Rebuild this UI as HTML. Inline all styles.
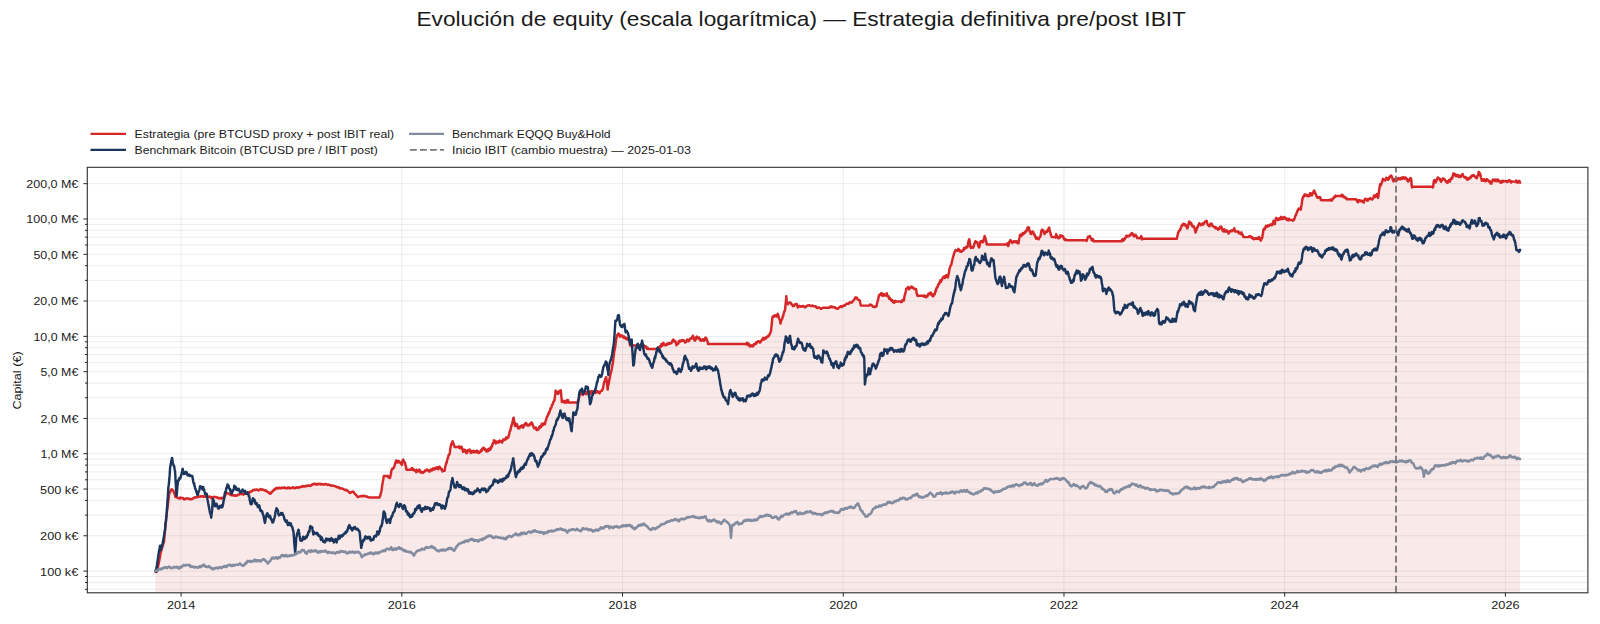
<!DOCTYPE html><html><head><meta charset="utf-8"><style>
html,body{margin:0;padding:0;background:#fff;}
body{width:1600px;height:624px;overflow:hidden;position:relative;}
svg{position:absolute;left:0;top:0;}
text{font-family:"Liberation Sans",sans-serif;fill:#1a1a1a;}
</style></head><body>
<svg width="1600" height="624" viewBox="0 0 1600 624">
<text x="416.5" y="25.6" font-size="21.0" textLength="769.4" lengthAdjust="spacingAndGlyphs">Evolución de equity (escala logarítmica) — Estrategia definitiva pre/post IBIT</text>
<line x1="90.5" y1="133.9" x2="126" y2="133.9" stroke="#d62728" stroke-width="2.35"/>
<line x1="90.5" y1="149.9" x2="126" y2="149.9" stroke="#1b365d" stroke-width="2.35"/>
<line x1="409" y1="133.9" x2="444" y2="133.9" stroke="#828ca0" stroke-width="2.35"/>
<line x1="410" y1="149.9" x2="444" y2="149.9" stroke="#7a7a7a" stroke-width="1.8" stroke-dasharray="6.8 3.2"/>
<text x="134.5" y="137.7" font-size="11.76" textLength="259.6" lengthAdjust="spacingAndGlyphs">Estrategia (pre BTCUSD proxy + post IBIT real)</text>
<text x="134.5" y="153.8" font-size="11.76" textLength="243.2" lengthAdjust="spacingAndGlyphs">Benchmark Bitcoin (BTCUSD pre / IBIT post)</text>
<text x="452" y="137.7" font-size="11.76" textLength="158.6" lengthAdjust="spacingAndGlyphs">Benchmark EQQQ Buy&amp;Hold</text>
<text x="452" y="153.8" font-size="11.76" textLength="239.0" lengthAdjust="spacingAndGlyphs">Inicio IBIT (cambio muestra) — 2025-01-03</text>
<defs><clipPath id="ax"><rect x="87.3" y="167.3" width="1500.6000000000001" height="425.49999999999994"/></clipPath></defs>
<path d="M155.3,592.8 L155.3,571.1 L155.6,571.2 L155.8,571.6 L156.1,571.5 L156.4,571.8 L156.7,571.9 L157.0,570.4 L157.3,569.5 L157.6,568.2 L157.9,566.8 L158.2,565.6 L158.5,564.5 L158.8,563.1 L159.0,561.9 L159.3,560.3 L159.6,558.8 L159.9,557.3 L160.2,555.6 L160.5,553.9 L160.8,552.1 L161.1,551.0 L161.5,550.0 L161.8,549.0 L162.1,548.0 L162.4,546.7 L162.7,545.7 L163.0,544.7 L163.3,543.9 L163.6,542.7 L164.0,541.7 L164.3,538.2 L164.6,535.1 L164.9,531.6 L165.2,528.2 L165.5,525.5 L165.8,522.0 L166.1,519.2 L166.5,516.3 L166.8,513.3 L167.1,510.4 L167.4,508.2 L167.7,506.1 L168.0,503.7 L168.3,501.2 L168.6,498.7 L168.9,496.1 L169.2,493.8 L169.5,493.1 L169.8,492.9 L170.1,492.0 L170.4,491.2 L170.7,490.5 L171.0,489.6 L171.2,489.6 L171.5,489.2 L171.8,489.4 L172.1,489.6 L172.4,490.2 L172.7,490.0 L173.0,490.5 L173.3,490.6 L173.6,491.5 L173.9,492.1 L174.2,493.2 L174.5,493.8 L174.8,494.6 L175.1,495.6 L175.4,496.9 L175.7,496.4 L176.0,496.9 L176.3,497.2 L176.6,497.2 L176.9,497.3 L177.2,497.3 L177.5,497.8 L177.8,498.0 L178.1,498.0 L178.4,498.1 L178.7,498.1 L179.0,498.2 L179.3,498.1 L179.6,498.7 L179.9,498.3 L180.2,497.5 L180.5,497.6 L180.8,497.6 L181.1,497.8 L181.4,497.9 L181.7,497.9 L182.0,498.0 L182.3,498.3 L182.6,498.2 L182.9,498.1 L183.2,498.7 L183.5,498.8 L183.8,498.6 L184.0,499.2 L184.3,499.4 L184.6,499.3 L184.9,499.0 L185.2,499.1 L185.5,499.0 L185.8,498.7 L186.1,498.4 L186.4,498.3 L186.7,498.6 L187.0,498.6 L187.3,498.2 L187.6,498.4 L187.9,498.5 L188.2,498.7 L188.5,499.0 L188.8,499.0 L189.1,499.0 L189.4,499.0 L189.7,498.8 L190.0,499.0 L190.3,499.3 L190.6,499.4 L190.9,499.3 L191.2,499.3 L191.5,499.1 L191.8,498.9 L192.1,498.9 L192.4,498.7 L192.7,498.6 L193.0,498.2 L193.3,498.3 L193.6,498.3 L193.9,498.1 L194.2,497.5 L194.5,497.5 L194.8,497.7 L195.1,497.5 L195.4,497.3 L195.7,497.2 L196.0,497.3 L196.2,497.0 L196.5,497.2 L196.8,497.1 L197.1,497.3 L197.4,497.3 L197.7,497.2 L198.0,496.8 L198.3,496.6 L198.6,496.5 L198.9,496.6 L199.2,496.6 L199.5,496.4 L199.8,496.5 L200.1,496.7 L200.4,496.6 L200.7,496.5 L201.0,496.3 L201.3,496.5 L201.6,496.6 L201.9,496.3 L202.2,496.4 L202.5,496.2 L202.8,496.1 L203.1,496.4 L203.4,496.7 L203.7,496.5 L204.0,496.5 L204.3,496.7 L204.6,496.6 L204.9,496.6 L205.2,496.7 L205.5,496.3 L205.8,496.4 L206.1,496.6 L206.4,496.8 L206.7,496.5 L207.0,496.6 L207.3,496.4 L207.6,496.6 L207.9,496.7 L208.2,496.8 L208.5,496.7 L208.8,496.5 L209.0,496.8 L209.3,496.6 L209.6,496.7 L209.9,496.9 L210.2,496.8 L210.5,497.5 L210.8,497.5 L211.1,498.1 L211.4,497.6 L211.7,497.1 L212.1,497.4 L212.4,497.6 L212.7,497.5 L213.0,497.6 L213.3,497.1 L213.6,497.0 L213.9,496.8 L214.2,496.8 L214.5,497.1 L214.8,497.1 L215.1,497.2 L215.4,497.1 L215.7,497.0 L216.0,497.1 L216.3,497.1 L216.6,497.4 L216.9,497.3 L217.2,497.8 L217.5,497.6 L217.8,497.9 L218.2,497.7 L218.5,498.2 L218.8,498.3 L219.1,498.4 L219.4,498.6 L219.7,498.5 L220.0,498.3 L220.3,497.8 L220.6,498.2 L220.9,498.0 L221.2,497.9 L221.5,498.0 L221.8,498.5 L222.1,498.1 L222.4,498.2 L222.7,498.2 L223.0,498.3 L223.3,497.9 L223.6,497.3 L224.0,497.0 L224.3,496.8 L224.6,496.7 L224.9,495.9 L225.2,495.4 L225.5,494.8 L225.8,494.0 L226.1,493.1 L226.5,492.7 L226.8,492.9 L227.1,492.9 L227.4,493.3 L227.7,493.2 L228.0,493.4 L228.3,493.5 L228.6,493.6 L229.0,493.9 L229.3,494.0 L229.6,494.2 L229.9,494.2 L230.2,494.7 L230.5,494.7 L230.8,494.9 L231.1,495.1 L231.4,495.0 L231.7,495.2 L232.0,495.0 L232.3,495.3 L232.6,495.1 L232.9,495.0 L233.2,495.0 L233.5,495.3 L233.8,495.5 L234.0,495.7 L234.3,495.7 L234.6,495.4 L234.9,495.6 L235.2,495.7 L235.5,495.4 L235.8,495.7 L236.1,495.7 L236.4,495.5 L236.7,495.6 L237.0,495.3 L237.3,495.1 L237.6,495.2 L237.9,494.8 L238.2,494.8 L238.5,494.4 L238.8,494.6 L239.1,494.3 L239.4,494.4 L239.7,494.0 L240.0,493.8 L240.3,494.1 L240.6,494.1 L240.9,493.6 L241.2,493.9 L241.5,494.0 L241.8,493.9 L242.1,494.2 L242.4,494.0 L242.7,493.9 L243.0,494.2 L243.3,494.4 L243.6,494.7 L243.9,494.4 L244.2,494.0 L244.5,494.0 L244.8,493.6 L245.1,493.6 L245.4,493.2 L245.7,493.5 L246.0,493.6 L246.2,493.8 L246.5,493.5 L246.8,493.3 L247.1,493.0 L247.4,492.9 L247.7,492.7 L248.0,492.6 L248.3,492.3 L248.6,492.6 L248.9,492.4 L249.2,492.5 L249.5,492.7 L249.8,492.2 L250.1,491.6 L250.4,491.7 L250.7,491.5 L251.0,491.5 L251.3,491.4 L251.6,491.4 L251.9,491.0 L252.2,491.0 L252.5,490.8 L252.8,490.8 L253.1,490.1 L253.4,490.3 L253.7,490.3 L254.0,489.9 L254.3,489.6 L254.6,489.6 L254.9,489.7 L255.2,489.7 L255.5,490.0 L255.8,489.9 L256.1,489.7 L256.4,489.4 L256.7,489.6 L257.0,489.4 L257.3,489.7 L257.6,490.0 L257.9,490.1 L258.2,490.4 L258.5,490.4 L258.8,490.4 L259.0,490.3 L259.3,490.1 L259.6,489.8 L259.9,489.6 L260.2,489.4 L260.5,489.0 L260.8,489.1 L261.1,489.2 L261.4,489.2 L261.7,489.5 L262.0,489.8 L262.3,490.1 L262.6,489.9 L262.9,489.6 L263.2,489.7 L263.5,489.8 L263.8,490.0 L264.1,490.2 L264.4,490.5 L264.7,490.4 L265.0,490.6 L265.3,490.7 L265.6,490.3 L265.9,490.5 L266.2,491.1 L266.5,490.9 L266.8,491.4 L267.1,491.5 L267.4,491.7 L267.7,491.9 L268.0,492.2 L268.3,492.2 L268.6,492.5 L268.9,492.9 L269.2,493.3 L269.5,492.9 L269.8,493.1 L270.1,493.4 L270.4,493.8 L270.7,493.3 L271.0,493.1 L271.2,492.5 L271.5,492.4 L271.8,492.3 L272.1,491.8 L272.4,491.2 L272.7,491.1 L273.0,491.0 L273.3,490.6 L273.6,490.4 L273.9,489.7 L274.2,489.4 L274.5,489.3 L274.8,489.2 L275.1,489.4 L275.4,489.0 L275.7,488.3 L276.0,488.3 L276.3,488.0 L276.6,488.0 L276.9,488.0 L277.2,488.1 L277.5,488.3 L277.8,488.5 L278.1,488.0 L278.4,487.8 L278.7,488.2 L279.0,487.9 L279.3,488.1 L279.6,487.9 L279.9,487.7 L280.2,488.1 L280.5,488.3 L280.8,488.1 L281.1,488.3 L281.4,487.9 L281.7,487.7 L282.0,487.8 L282.3,487.8 L282.6,487.4 L282.9,487.5 L283.2,487.5 L283.5,487.7 L283.8,487.9 L284.0,487.8 L284.3,487.6 L284.6,487.5 L284.9,487.4 L285.2,487.7 L285.5,488.0 L285.8,488.3 L286.1,488.3 L286.4,488.2 L286.7,488.3 L287.0,488.2 L287.3,488.2 L287.6,487.7 L287.9,487.5 L288.2,487.9 L288.5,487.7 L288.8,487.4 L289.1,487.4 L289.4,487.9 L289.7,488.3 L290.0,488.2 L290.3,488.2 L290.6,488.2 L290.9,488.0 L291.2,488.0 L291.5,488.0 L291.8,487.7 L292.1,487.6 L292.4,487.6 L292.7,487.4 L293.0,487.2 L293.3,487.5 L293.6,488.0 L293.9,488.0 L294.2,487.9 L294.5,488.0 L294.8,488.0 L295.1,487.8 L295.4,488.1 L295.7,487.8 L296.0,487.6 L296.2,487.5 L296.5,487.2 L296.8,487.2 L297.1,487.3 L297.4,487.7 L297.7,487.8 L298.0,487.8 L298.3,487.5 L298.6,487.5 L298.9,487.2 L299.2,487.1 L299.5,487.3 L299.8,487.4 L300.1,487.3 L300.4,487.1 L300.7,487.0 L301.0,487.0 L301.3,486.8 L301.6,486.6 L301.9,486.8 L302.2,486.3 L302.5,486.2 L302.8,485.9 L303.1,486.2 L303.4,486.4 L303.7,486.5 L304.0,486.5 L304.3,486.6 L304.6,486.6 L304.9,486.2 L305.2,486.2 L305.5,486.3 L305.8,485.9 L306.1,486.1 L306.4,486.2 L306.7,485.8 L307.0,485.7 L307.3,485.7 L307.6,485.6 L307.9,485.7 L308.2,485.5 L308.5,485.4 L308.8,485.5 L309.0,485.7 L309.3,485.8 L309.6,485.8 L309.9,486.0 L310.2,485.5 L310.5,485.8 L310.8,485.7 L311.1,485.4 L311.4,485.4 L311.7,484.9 L312.0,484.5 L312.3,484.4 L312.6,484.3 L312.9,484.5 L313.2,484.3 L313.5,484.0 L313.8,483.8 L314.1,484.3 L314.4,484.3 L314.7,484.2 L315.0,484.0 L315.3,483.7 L315.6,483.8 L315.9,483.9 L316.2,484.3 L316.5,484.6 L316.8,484.8 L317.1,484.7 L317.4,484.5 L317.7,484.0 L318.0,483.8 L318.3,484.0 L318.6,483.9 L318.9,484.1 L319.2,483.8 L319.5,484.1 L319.8,484.3 L320.1,484.3 L320.4,484.5 L320.7,484.0 L321.0,483.9 L321.2,483.8 L321.5,484.3 L321.8,484.3 L322.1,484.2 L322.4,484.4 L322.7,484.2 L323.0,484.6 L323.3,484.5 L323.6,484.5 L323.9,484.3 L324.2,484.6 L324.5,484.1 L324.8,484.3 L325.1,484.2 L325.4,484.2 L325.7,484.0 L326.0,484.1 L326.3,484.2 L326.6,484.4 L326.9,484.5 L327.2,484.7 L327.5,485.0 L327.8,485.0 L328.1,484.7 L328.4,484.5 L328.7,484.7 L329.0,484.7 L329.3,485.0 L329.6,485.0 L329.9,484.9 L330.2,485.1 L330.5,485.7 L330.8,485.7 L331.1,485.5 L331.4,485.4 L331.7,485.6 L332.0,485.6 L332.3,485.5 L332.6,485.7 L332.9,485.8 L333.2,485.9 L333.5,485.8 L333.8,485.7 L334.0,485.8 L334.3,485.9 L334.6,486.1 L334.9,486.1 L335.2,486.2 L335.5,486.4 L335.8,486.5 L336.1,486.7 L336.4,487.0 L336.7,487.1 L337.0,487.2 L337.3,487.0 L337.6,487.2 L337.9,487.2 L338.2,487.2 L338.5,487.1 L338.8,487.3 L339.1,488.0 L339.4,488.2 L339.7,488.3 L340.0,488.4 L340.3,488.3 L340.6,488.4 L340.9,488.3 L341.2,488.3 L341.5,488.4 L341.8,488.5 L342.1,488.5 L342.4,488.5 L342.7,488.8 L343.0,488.7 L343.3,489.1 L343.6,489.2 L343.9,489.3 L344.2,489.7 L344.5,490.0 L344.8,489.9 L345.1,490.0 L345.5,490.3 L345.8,490.2 L346.1,489.8 L346.4,490.0 L346.7,490.1 L347.0,490.4 L347.3,490.6 L347.6,490.8 L347.9,491.0 L348.2,491.5 L348.5,491.8 L348.9,492.1 L349.2,492.2 L349.5,492.6 L349.8,492.7 L350.1,493.1 L350.4,492.7 L350.7,492.6 L351.0,492.3 L351.4,492.0 L351.7,492.1 L352.0,492.0 L352.3,491.8 L352.6,491.5 L352.9,491.7 L353.2,491.7 L353.5,491.7 L353.8,491.9 L354.1,492.6 L354.4,493.2 L354.7,493.5 L355.0,493.9 L355.3,493.9 L355.6,494.5 L355.9,494.6 L356.2,495.2 L356.5,495.5 L356.8,495.8 L357.1,496.3 L357.4,496.7 L357.7,496.9 L358.0,496.9 L358.3,497.0 L358.6,497.0 L358.9,496.7 L359.2,496.6 L359.5,496.4 L359.8,496.3 L360.1,496.3 L360.4,496.3 L360.7,496.3 L361.0,495.9 L361.3,496.0 L361.6,496.0 L361.9,495.9 L362.2,495.9 L362.5,496.4 L362.8,496.1 L363.1,495.7 L363.4,495.9 L363.7,495.8 L364.0,496.1 L364.3,495.9 L364.6,495.8 L364.9,496.0 L365.2,496.2 L365.5,496.4 L365.8,496.5 L366.2,496.5 L366.5,496.4 L366.8,496.3 L367.1,496.7 L367.4,496.9 L367.7,496.9 L368.0,497.0 L368.3,497.2 L368.6,497.5 L368.9,497.5 L369.2,497.5 L379.6,497.5 L379.9,496.4 L380.2,495.8 L380.5,494.6 L380.8,493.7 L381.1,492.2 L381.4,491.1 L381.7,489.6 L382.0,487.0 L382.3,484.8 L382.6,482.9 L382.9,481.3 L383.2,479.8 L383.5,478.1 L383.8,476.0 L387.9,476.0 L388.2,477.2 L388.5,476.9 L388.8,476.8 L389.1,477.6 L389.4,477.7 L389.7,477.5 L390.0,477.1 L390.0,478.1 L390.3,476.4 L390.6,474.8 L390.9,474.0 L391.2,471.6 L391.5,470.2 L391.8,470.0 L392.1,468.8 L393.1,468.8 L393.4,468.2 L393.8,468.1 L394.1,466.7 L394.4,466.3 L394.7,465.2 L395.0,463.8 L395.3,463.0 L395.6,462.4 L395.9,461.5 L396.2,460.4 L396.6,461.2 L396.9,462.1 L397.2,462.6 L397.5,462.6 L397.8,461.9 L398.1,461.5 L398.4,460.8 L398.8,461.0 L399.1,461.8 L399.4,462.5 L399.7,462.5 L400.0,462.3 L400.3,462.4 L400.6,462.5 L400.9,462.9 L401.2,464.0 L401.5,463.5 L401.8,464.9 L402.1,463.3 L402.4,461.9 L402.6,460.7 L402.9,459.8 L403.2,459.5 L403.5,460.8 L403.8,460.8 L404.1,462.0 L404.4,462.2 L404.7,462.8 L405.0,462.5 L405.3,464.8 L405.6,465.4 L405.8,465.7 L406.1,468.0 L406.4,468.8 L406.7,469.8 L410.8,469.8 L411.1,469.7 L411.4,469.1 L411.7,468.1 L412.0,468.0 L412.3,469.1 L412.6,469.4 L412.9,469.3 L413.2,470.0 L413.5,469.4 L413.8,470.3 L414.1,470.3 L414.4,469.8 L414.7,470.2 L415.0,470.6 L415.3,470.3 L415.6,470.5 L415.9,471.2 L416.2,472.2 L416.5,471.6 L416.8,469.7 L417.1,471.2 L417.4,471.0 L417.7,470.7 L418.0,471.0 L418.3,470.7 L418.6,471.4 L418.9,470.6 L419.2,470.4 L419.5,469.6 L419.8,470.8 L420.1,470.7 L420.4,471.5 L420.7,472.6 L421.0,471.9 L421.4,471.8 L421.7,472.4 L422.0,472.5 L422.3,472.5 L422.6,472.7 L422.9,473.0 L423.2,472.3 L423.5,471.9 L423.9,472.0 L424.2,471.8 L424.5,471.6 L424.8,470.4 L425.1,471.3 L425.4,470.8 L425.7,470.8 L426.0,470.6 L426.3,470.4 L426.6,470.3 L426.9,469.5 L427.2,469.5 L427.5,470.1 L427.8,470.2 L428.1,470.5 L428.4,470.6 L428.7,470.4 L429.0,471.5 L429.3,470.8 L429.6,470.8 L429.9,471.3 L430.2,471.3 L430.5,470.4 L430.8,469.4 L431.1,470.3 L431.4,469.4 L431.7,469.2 L432.0,469.9 L432.3,470.3 L432.6,469.4 L432.9,468.4 L433.2,468.7 L433.5,468.5 L433.8,468.7 L434.1,469.1 L434.4,469.5 L434.7,469.0 L435.0,468.1 L435.3,469.1 L435.6,469.0 L436.0,468.6 L436.3,467.5 L436.6,468.2 L436.9,467.7 L437.2,467.3 L437.5,468.1 L437.8,468.6 L438.1,469.3 L438.4,468.8 L438.7,467.1 L439.0,466.7 L439.3,466.8 L439.6,466.7 L439.9,467.6 L440.1,468.2 L440.4,467.8 L440.7,468.5 L441.0,468.8 L441.3,468.8 L441.6,470.0 L441.9,469.2 L442.2,470.3 L442.5,471.5 L442.8,470.4 L443.1,470.7 L443.4,471.0 L443.7,470.6 L444.0,470.6 L444.3,470.4 L444.6,470.8 L444.9,469.1 L445.2,466.3 L445.5,465.8 L445.8,465.1 L446.1,463.2 L446.4,462.4 L446.7,462.5 L447.0,460.6 L447.3,459.6 L447.6,458.4 L447.9,458.1 L448.2,457.1 L448.5,455.3 L448.8,455.4 L449.1,454.4 L449.4,454.2 L449.7,453.8 L450.0,451.4 L450.2,449.1 L450.5,447.8 L450.8,445.8 L451.1,444.9 L451.4,443.6 L451.7,444.3 L451.9,443.5 L452.2,442.4 L452.5,441.2 L452.8,442.5 L453.1,442.4 L453.4,443.2 L453.7,444.7 L454.0,444.9 L454.3,445.9 L454.6,446.9 L458.8,446.9 L459.1,446.3 L459.4,447.9 L459.7,448.2 L460.0,448.3 L460.3,447.5 L460.6,447.4 L460.9,447.0 L461.2,446.8 L461.6,446.8 L461.9,448.3 L462.2,448.9 L462.5,449.7 L462.8,450.3 L463.1,451.9 L463.4,451.1 L463.7,449.8 L464.0,449.6 L464.3,449.9 L464.6,450.1 L464.9,449.8 L465.2,450.5 L465.5,451.9 L465.8,452.2 L466.1,452.2 L466.4,453.2 L466.7,453.1 L467.0,452.5 L467.3,452.3 L467.6,450.3 L467.9,451.2 L468.2,450.7 L468.5,450.7 L468.9,450.5 L469.2,450.4 L469.5,449.4 L469.8,450.5 L470.1,450.8 L470.4,450.9 L470.7,453.0 L471.0,452.0 L471.2,452.4 L471.5,452.3 L471.8,451.1 L472.1,452.4 L472.4,451.2 L472.7,451.2 L473.0,451.0 L473.3,451.0 L473.6,450.7 L473.9,451.9 L474.3,452.4 L474.6,451.8 L474.9,451.2 L475.2,451.7 L475.5,451.2 L475.8,451.8 L476.1,452.3 L476.4,452.2 L476.7,451.1 L477.0,450.5 L477.3,451.1 L477.6,451.0 L477.9,452.6 L478.2,452.6 L478.5,453.1 L478.9,453.0 L479.2,452.6 L479.5,452.2 L479.8,452.4 L480.1,451.7 L480.4,451.4 L480.7,450.6 L481.0,451.4 L481.4,451.0 L481.7,451.0 L482.0,449.1 L482.3,448.9 L482.6,448.2 L482.9,448.4 L483.2,448.2 L483.5,447.6 L483.8,447.6 L484.0,448.3 L484.3,449.1 L484.6,448.9 L484.9,449.8 L485.2,449.5 L485.5,450.1 L485.8,449.6 L486.1,450.0 L486.4,451.4 L486.7,450.9 L487.0,451.5 L487.3,450.2 L487.6,449.5 L487.9,451.1 L488.2,450.8 L488.5,450.9 L488.8,449.5 L489.1,449.2 L489.4,448.4 L489.7,449.0 L490.0,448.3 L490.3,449.8 L490.6,448.7 L490.9,448.5 L491.2,446.8 L491.5,446.2 L491.8,446.7 L492.1,446.2 L492.4,444.3 L492.7,443.7 L493.0,443.3 L493.3,442.7 L493.6,442.3 L493.9,440.3 L494.2,440.6 L494.5,441.6 L494.8,440.7 L495.1,442.5 L495.4,442.7 L495.7,443.5 L496.0,442.6 L496.2,442.7 L496.5,441.6 L496.8,442.3 L497.1,442.2 L497.4,441.7 L497.7,441.6 L498.0,442.5 L498.3,442.1 L498.6,442.6 L498.9,441.9 L499.2,440.9 L499.5,440.7 L499.8,440.6 L500.1,440.9 L500.4,441.7 L500.7,441.5 L501.0,441.3 L501.3,441.9 L501.6,442.3 L501.9,442.3 L502.2,442.5 L502.5,441.1 L502.8,440.8 L503.1,439.7 L503.4,439.6 L503.7,440.3 L504.0,439.2 L504.3,439.9 L504.6,439.6 L504.9,439.4 L505.2,439.0 L505.5,439.5 L505.8,439.0 L506.1,437.5 L506.5,437.6 L506.8,437.5 L507.1,437.9 L507.4,438.3 L507.7,437.4 L508.0,437.5 L508.3,437.5 L508.6,436.2 L508.9,435.1 L509.2,434.1 L509.5,432.6 L509.8,431.2 L510.1,431.2 L510.4,429.8 L510.7,429.0 L511.0,427.6 L511.3,426.2 L511.6,425.2 L511.9,424.6 L512.2,424.0 L512.5,422.2 L512.8,421.2 L513.0,419.9 L513.3,418.3 L513.6,417.7 L513.9,419.4 L514.2,421.0 L514.4,421.8 L514.7,423.5 L515.0,426.0 L515.3,425.3 L515.6,425.0 L515.9,425.7 L516.2,424.6 L516.5,423.9 L516.8,424.2 L517.1,424.9 L517.4,425.9 L517.7,426.5 L518.0,428.2 L518.3,428.5 L518.6,427.7 L518.9,427.6 L519.2,428.1 L519.5,428.3 L519.8,426.8 L520.1,427.0 L520.4,426.3 L520.7,426.0 L521.0,426.9 L521.2,426.7 L521.5,426.1 L521.8,425.9 L522.1,425.4 L522.4,426.7 L522.7,427.2 L523.0,427.7 L523.3,427.1 L523.6,426.4 L523.9,426.4 L524.3,424.6 L524.6,425.1 L524.9,424.0 L525.2,423.8 L525.5,423.8 L525.8,423.0 L526.1,423.0 L526.4,423.3 L526.7,424.4 L527.0,424.4 L527.3,425.5 L527.6,425.6 L527.9,425.2 L528.2,425.6 L528.5,425.0 L528.9,424.7 L529.2,424.8 L529.5,425.2 L529.8,425.1 L530.1,423.7 L530.4,424.2 L530.7,424.0 L531.0,423.4 L531.4,422.5 L531.7,422.5 L532.0,423.1 L532.3,424.0 L532.6,424.3 L532.9,425.7 L533.2,425.9 L533.5,426.6 L533.8,427.1 L534.0,428.2 L534.3,428.0 L534.6,428.1 L534.9,428.3 L535.2,428.1 L535.5,428.0 L535.8,427.5 L536.1,428.3 L536.4,429.7 L536.7,429.3 L537.0,430.2 L537.3,429.7 L537.6,429.5 L537.9,429.6 L538.2,429.4 L538.5,429.5 L538.9,428.0 L539.2,426.8 L539.5,426.7 L539.8,426.3 L540.1,427.6 L540.4,427.1 L540.7,426.5 L541.0,427.1 L541.4,425.2 L541.7,423.8 L542.0,425.7 L542.3,425.2 L542.6,425.2 L542.9,425.1 L543.2,424.4 L543.5,424.3 L543.9,423.3 L544.2,424.0 L544.5,424.2 L544.8,424.3 L545.1,423.3 L545.4,421.6 L545.7,421.0 L546.0,419.9 L546.2,419.8 L546.5,418.2 L546.8,417.0 L547.1,416.6 L547.4,416.4 L547.7,415.9 L548.0,414.5 L548.3,413.5 L548.6,413.9 L548.9,413.5 L549.2,411.9 L549.5,412.2 L549.8,411.0 L550.1,410.0 L550.4,408.3 L550.7,408.8 L551.0,408.4 L551.3,407.8 L551.6,406.6 L551.9,405.1 L552.2,404.7 L552.5,404.2 L552.8,404.4 L553.1,402.9 L553.4,401.7 L553.7,401.5 L554.0,401.2 L554.3,399.9 L554.6,400.0 L554.9,396.8 L555.3,393.9 L555.6,390.6 L555.9,391.4 L556.2,391.2 L556.5,391.2 L556.8,392.1 L557.1,392.5 L557.4,392.8 L557.7,393.8 L558.0,393.7 L558.3,393.8 L558.6,392.0 L559.0,391.5 L559.3,391.8 L559.6,391.0 L559.9,390.6 L560.2,390.5 L560.5,390.2 L560.8,390.6 L561.2,394.5 L561.5,397.8 L561.9,402.1 L562.2,401.8 L562.5,401.3 L562.8,401.6 L563.1,402.0 L563.4,401.9 L563.7,401.2 L564.0,400.8 L564.3,401.0 L564.6,401.4 L564.9,402.7 L565.2,402.6 L565.5,402.4 L565.8,400.9 L566.1,401.8 L566.4,402.5 L566.7,402.5 L567.0,402.0 L567.3,400.1 L567.6,400.7 L568.0,400.1 L568.3,401.2 L568.6,401.7 L568.9,402.6 L569.2,402.5 L577.5,402.5 L577.8,402.4 L578.1,400.4 L578.4,400.5 L578.7,399.5 L579.0,397.7 L579.3,396.4 L579.6,394.8 L579.9,394.8 L580.2,394.2 L580.5,393.1 L580.8,392.7 L581.1,392.4 L581.4,392.4 L581.7,392.7 L582.0,393.6 L582.3,393.9 L582.6,395.0 L582.9,393.3 L583.2,393.2 L583.5,393.8 L583.8,392.9 L584.0,392.8 L584.3,392.9 L584.6,391.8 L584.9,391.4 L585.2,391.8 L585.5,391.6 L585.8,392.6 L586.1,394.3 L586.4,394.2 L586.7,393.4 L587.0,393.4 L587.3,393.0 L587.6,392.0 L587.9,391.7 L588.2,391.4 L588.5,391.3 L588.8,392.0 L589.1,392.8 L589.4,393.2 L589.7,393.0 L590.0,393.4 L590.3,393.5 L590.7,393.8 L591.0,393.2 L591.3,391.1 L591.6,391.8 L591.9,391.5 L592.2,391.2 L592.5,391.3 L592.8,391.3 L593.1,391.2 L593.4,392.4 L593.7,392.5 L594.0,392.8 L594.3,392.3 L594.6,392.3 L594.9,392.7 L595.2,392.7 L595.5,392.9 L595.8,392.3 L596.1,392.6 L596.4,391.9 L596.7,391.6 L597.0,391.0 L597.4,391.2 L597.7,392.0 L598.0,392.2 L598.3,391.6 L598.6,391.7 L598.9,392.4 L599.2,392.9 L599.5,393.3 L599.8,392.5 L600.1,392.1 L600.4,391.7 L600.7,391.1 L601.0,391.1 L601.3,390.9 L601.6,390.5 L601.9,390.7 L602.2,390.0 L602.5,389.6 L602.8,388.9 L603.1,387.3 L603.4,386.0 L603.7,384.3 L604.0,382.9 L604.3,382.0 L604.6,381.2 L604.9,380.6 L605.1,380.0 L605.4,378.3 L605.7,378.7 L606.0,378.8 L606.2,377.1 L606.5,379.2 L606.8,381.4 L607.1,384.1 L607.4,387.0 L607.7,389.6 L608.1,385.4 L608.4,385.1 L608.8,383.3 L609.0,382.2 L609.3,380.0 L609.6,378.4 L609.9,377.4 L610.2,375.4 L610.5,374.5 L610.8,372.9 L611.1,372.2 L611.4,370.5 L611.7,369.7 L612.0,366.8 L612.3,366.0 L612.6,364.6 L612.9,362.5 L613.2,360.5 L613.5,357.5 L613.8,355.4 L614.0,353.3 L614.3,351.2 L614.6,350.0 L614.9,348.2 L615.2,347.1 L615.5,344.8 L615.8,342.1 L616.0,339.6 L616.3,338.9 L616.6,337.3 L616.9,336.8 L617.2,335.3 L617.5,334.4 L617.8,334.4 L618.1,334.2 L618.4,333.6 L618.8,333.9 L619.1,334.0 L619.4,335.2 L619.7,335.8 L620.0,336.7 L620.3,336.5 L620.6,336.5 L620.9,335.8 L621.2,335.4 L621.5,336.0 L621.8,335.9 L622.1,335.8 L622.4,335.5 L622.7,336.6 L623.0,336.6 L623.3,337.4 L623.6,337.4 L623.9,338.1 L624.2,337.5 L624.5,336.6 L624.8,337.4 L625.1,337.3 L625.4,337.5 L625.7,338.2 L626.0,338.9 L626.3,339.2 L626.6,338.5 L626.9,338.1 L627.2,338.3 L627.5,338.9 L627.8,339.4 L628.1,339.8 L628.4,339.4 L628.7,339.5 L629.0,340.3 L629.3,339.8 L629.6,339.6 L630.0,345.5 L644.0,345.5 L644.3,346.7 L644.6,347.2 L644.9,347.3 L645.2,346.8 L645.5,346.8 L645.8,346.4 L646.1,346.7 L646.4,347.3 L646.7,347.8 L647.0,348.8 L647.3,348.4 L647.7,347.8 L648.0,349.0 L657.0,349.0 L657.3,349.6 L657.6,348.7 L657.9,348.7 L658.2,347.8 L658.5,347.6 L658.8,347.6 L659.1,348.1 L659.4,347.3 L659.7,346.3 L660.0,346.5 L660.3,346.2 L660.6,347.2 L660.9,346.3 L661.1,345.8 L661.4,343.9 L661.7,344.6 L662.0,345.5 L662.3,345.8 L662.6,345.6 L662.9,344.2 L663.2,343.2 L663.5,342.9 L663.8,344.2 L664.2,344.8 L664.5,344.4 L664.8,344.7 L665.1,345.1 L665.4,345.4 L665.7,344.8 L666.0,344.5 L666.3,344.6 L666.6,344.5 L666.9,343.7 L667.2,344.8 L667.5,344.5 L667.8,343.6 L668.2,343.7 L668.5,343.6 L668.8,343.0 L669.1,343.7 L669.4,343.8 L669.7,343.3 L670.0,343.2 L670.3,343.4 L670.6,343.0 L670.9,343.3 L671.2,342.7 L671.5,342.3 L671.8,342.5 L672.2,341.4 L672.5,340.9 L672.8,340.0 L673.1,340.3 L673.4,339.6 L673.7,340.7 L674.0,341.5 L674.3,341.0 L674.6,341.1 L674.9,340.9 L675.2,340.9 L675.5,341.4 L675.8,342.4 L676.2,343.9 L676.5,345.2 L676.8,344.4 L677.1,344.0 L677.4,343.9 L677.7,343.7 L678.0,343.8 L678.3,343.4 L678.6,342.2 L678.9,340.9 L679.2,341.6 L679.5,341.2 L679.8,341.9 L680.1,340.6 L680.4,340.7 L680.7,341.0 L681.0,341.0 L681.3,340.6 L681.6,341.0 L681.9,340.6 L682.2,339.9 L682.5,339.9 L682.8,340.4 L683.1,340.3 L683.4,340.3 L683.6,340.8 L683.9,340.4 L684.2,340.8 L684.5,341.4 L684.8,342.0 L685.1,342.4 L685.4,341.8 L685.7,341.7 L686.0,341.5 L686.3,341.9 L686.6,340.7 L686.9,340.7 L687.2,339.6 L687.5,340.0 L687.8,339.6 L688.2,339.6 L688.5,340.2 L688.8,341.3 L689.1,340.6 L689.4,340.6 L689.7,339.2 L690.0,339.0 L690.3,338.5 L690.6,338.9 L690.9,338.8 L691.2,338.8 L691.5,338.0 L691.8,337.8 L692.2,337.0 L692.5,337.0 L692.8,335.8 L693.1,336.0 L693.4,336.7 L693.7,338.5 L694.0,339.5 L694.3,339.9 L694.6,340.0 L694.9,340.6 L695.2,340.1 L695.6,339.8 L695.9,338.0 L696.2,337.2 L696.5,337.5 L696.8,336.6 L697.1,337.2 L697.4,337.5 L697.7,337.6 L698.0,338.1 L698.2,338.5 L698.5,338.0 L698.8,338.3 L699.1,337.4 L699.4,338.7 L699.7,339.1 L700.0,340.0 L700.3,339.1 L700.6,340.2 L700.9,340.7 L701.2,340.7 L701.5,340.6 L701.8,340.6 L702.1,339.9 L702.4,339.6 L702.6,339.2 L702.9,339.2 L703.2,340.1 L703.5,340.7 L703.8,340.6 L704.1,340.8 L704.4,340.4 L704.7,339.8 L705.0,338.5 L705.3,338.0 L705.6,337.5 L705.9,337.8 L706.2,338.1 L706.6,338.7 L706.9,339.9 L707.2,340.7 L707.5,341.0 L707.8,342.4 L708.0,344.0 L746.0,344.0 L746.3,344.5 L746.6,343.9 L746.9,342.9 L747.2,342.8 L747.5,343.6 L747.8,344.5 L748.2,345.0 L748.5,343.7 L748.8,343.7 L749.1,344.2 L749.4,345.1 L749.7,346.4 L750.0,345.8 L750.3,346.3 L750.6,345.4 L750.9,345.4 L751.2,345.3 L751.6,346.1 L751.9,346.4 L752.2,345.4 L752.5,345.5 L752.8,345.5 L753.1,346.3 L753.4,345.6 L753.7,344.8 L754.0,344.1 L754.3,344.6 L754.6,344.2 L754.9,344.0 L755.2,344.1 L755.5,343.3 L755.8,343.9 L756.1,342.5 L756.4,343.5 L756.7,342.9 L757.0,342.0 L757.3,341.9 L757.6,341.6 L757.9,341.4 L758.2,341.3 L758.5,341.0 L758.8,341.3 L759.1,342.0 L759.4,342.0 L759.7,342.6 L760.0,342.5 L760.3,342.4 L760.6,342.0 L760.9,341.0 L761.2,340.8 L761.5,340.5 L761.8,339.8 L762.1,339.5 L762.4,339.7 L762.7,338.6 L763.0,338.0 L763.3,338.1 L763.6,337.9 L763.9,338.1 L764.2,339.5 L764.5,338.3 L764.8,338.3 L765.2,337.8 L765.5,338.5 L765.8,338.6 L766.1,337.3 L766.4,337.8 L766.7,337.5 L767.0,337.0 L767.3,336.9 L767.6,336.8 L767.9,336.1 L768.1,335.7 L768.4,336.4 L768.7,335.6 L769.0,335.0 L769.3,335.2 L769.6,334.2 L769.9,333.7 L770.1,333.5 L770.4,332.6 L770.7,332.0 L771.0,331.0 L771.3,328.0 L771.6,325.3 L771.9,322.4 L772.2,319.7 L772.5,317.1 L772.8,317.3 L773.1,316.2 L773.5,315.9 L773.8,316.8 L774.1,316.5 L774.4,316.2 L774.7,316.1 L775.1,315.4 L775.4,315.6 L775.7,315.6 L776.0,315.4 L776.3,315.8 L776.6,316.6 L776.8,315.5 L777.1,315.1 L777.4,314.8 L777.7,313.8 L778.0,314.2 L778.3,315.6 L778.6,316.1 L778.9,318.3 L779.2,318.3 L779.6,319.5 L779.9,320.1 L780.2,322.1 L780.5,323.5 L780.8,321.9 L781.2,320.8 L781.5,319.9 L781.8,319.6 L782.1,319.1 L782.4,318.3 L782.8,316.2 L783.1,316.1 L783.4,315.2 L783.7,313.2 L784.0,312.5 L784.4,311.6 L784.7,310.8 L785.0,310.6 L785.3,306.7 L785.6,304.2 L786.0,301.0 L786.3,296.2 L786.6,300.3 L786.9,302.9 L787.2,302.8 L787.6,303.8 L787.9,304.2 L788.2,303.3 L788.5,302.8 L788.8,303.2 L789.2,302.8 L789.5,302.4 L789.8,302.4 L790.1,302.3 L790.4,302.6 L790.8,302.9 L791.1,303.4 L791.4,304.2 L791.7,304.0 L792.1,304.5 L792.4,305.2 L792.7,305.4 L793.0,306.2 L793.3,305.5 L793.7,305.5 L794.0,305.7 L794.3,305.8 L794.6,304.9 L794.9,304.6 L795.3,304.1 L795.6,303.9 L795.9,304.0 L796.2,303.8 L796.5,303.9 L796.9,304.5 L797.2,305.3 L797.5,306.2 L797.8,307.4 L798.1,307.4 L798.5,306.8 L798.8,306.3 L799.1,306.2 L799.4,305.9 L799.7,306.2 L800.1,306.1 L800.4,306.1 L800.7,306.8 L801.0,306.8 L801.3,306.6 L801.7,306.3 L802.0,306.3 L802.3,306.5 L802.6,306.5 L802.9,306.0 L803.3,305.9 L803.6,306.2 L803.9,306.4 L804.2,306.8 L804.6,307.1 L804.9,307.4 L805.2,307.1 L805.5,306.7 L805.8,306.8 L806.2,306.7 L806.5,306.1 L806.8,305.8 L807.1,305.7 L807.4,305.4 L807.8,305.5 L808.1,305.4 L808.4,305.5 L808.7,305.2 L809.0,305.2 L809.4,305.3 L809.7,305.5 L810.0,305.6 L810.3,305.6 L810.6,305.8 L811.0,306.2 L811.3,306.0 L811.6,305.6 L811.9,305.6 L812.2,305.4 L812.6,305.5 L812.9,305.8 L813.2,306.2 L815.1,306.2 L815.4,306.4 L815.8,306.3 L816.1,306.9 L816.4,307.4 L816.7,307.8 L817.0,307.9 L817.3,307.9 L817.6,307.9 L817.9,307.5 L818.2,307.8 L818.5,307.7 L818.8,307.6 L819.1,307.8 L819.3,307.6 L819.6,307.9 L819.9,307.8 L820.2,308.3 L820.6,308.6 L820.9,308.8 L821.2,308.8 L821.5,308.8 L821.8,308.7 L822.1,308.2 L822.4,308.1 L822.7,307.8 L823.0,307.7 L823.3,307.7 L829.6,307.7 L829.9,307.1 L830.2,306.7 L830.5,306.5 L830.8,306.3 L831.1,306.4 L831.4,307.0 L831.7,306.9 L832.0,306.9 L832.3,306.8 L832.6,306.8 L832.9,307.2 L833.2,307.1 L833.5,307.2 L833.8,307.1 L834.0,307.0 L834.3,307.3 L834.6,307.3 L834.9,307.7 L835.2,307.5 L835.5,307.7 L835.8,308.2 L836.1,308.1 L836.4,308.2 L836.7,308.6 L837.0,308.8 L837.3,308.6 L837.6,308.6 L837.9,308.8 L838.2,308.3 L838.5,308.0 L838.8,307.8 L839.1,307.2 L839.4,307.3 L839.7,306.9 L840.0,306.7 L840.3,306.5 L840.6,306.7 L840.9,306.4 L841.2,306.8 L841.5,307.1 L841.8,307.1 L842.1,306.6 L842.4,306.1 L842.7,305.8 L843.0,305.7 L843.3,305.7 L843.6,305.8 L843.9,305.8 L844.2,305.6 L844.5,305.7 L844.8,305.1 L845.1,305.4 L845.4,304.9 L845.7,304.4 L846.0,304.2 L846.2,304.0 L846.5,303.7 L846.8,303.6 L847.1,303.6 L847.4,303.7 L847.7,303.7 L848.0,303.6 L848.3,303.5 L848.6,303.7 L849.0,303.4 L849.3,303.1 L849.6,302.4 L849.9,302.3 L850.2,302.6 L850.5,302.6 L850.8,302.3 L851.1,302.4 L851.5,302.5 L851.8,302.6 L852.1,302.0 L852.4,301.4 L852.6,301.4 L852.9,301.2 L853.2,301.1 L853.5,300.4 L853.8,299.8 L854.1,299.6 L854.4,299.1 L854.7,299.0 L855.0,298.3 L855.3,297.6 L855.6,297.3 L855.9,297.8 L856.2,297.5 L856.5,297.4 L856.8,297.8 L857.1,298.0 L857.4,298.7 L857.7,299.4 L858.0,299.8 L858.3,299.8 L858.6,299.8 L858.9,300.0 L859.2,300.0 L859.5,300.3 L859.8,300.4 L860.1,302.3 L860.5,304.1 L860.8,305.6 L869.2,305.6 L869.5,305.0 L869.8,304.8 L870.1,304.6 L870.4,304.9 L870.7,304.6 L871.0,304.6 L871.3,304.9 L871.6,305.2 L871.9,305.6 L872.2,305.8 L872.5,306.3 L872.8,306.3 L873.1,306.7 L873.4,306.5 L873.7,306.5 L874.0,306.7 L874.3,307.0 L874.6,307.1 L874.9,307.0 L875.2,306.9 L875.5,306.4 L875.9,306.0 L876.2,306.6 L876.5,306.2 L876.8,304.4 L877.2,302.4 L877.5,301.5 L877.8,300.6 L878.1,299.4 L878.4,297.8 L878.7,297.0 L879.0,295.3 L879.3,294.9 L879.6,295.2 L879.9,294.5 L880.2,294.7 L880.5,294.3 L880.8,294.0 L881.1,293.1 L881.4,293.1 L881.7,293.1 L882.0,294.0 L882.3,295.7 L882.6,295.0 L882.9,295.8 L883.2,295.2 L883.5,294.9 L883.9,294.0 L884.2,294.4 L884.5,295.3 L884.8,295.2 L885.1,295.6 L885.4,295.2 L885.7,295.1 L886.0,294.4 L886.4,294.6 L886.7,293.3 L887.0,295.1 L887.3,296.2 L887.6,296.0 L887.9,295.8 L888.2,295.9 L888.5,296.4 L888.8,296.9 L889.1,298.7 L889.4,298.7 L889.7,297.8 L890.0,298.3 L890.3,299.1 L890.6,299.0 L890.9,300.1 L891.2,300.5 L891.5,300.4 L891.8,300.8 L892.1,300.4 L892.4,300.1 L892.7,301.3 L893.0,302.1 L893.3,302.5 L893.6,302.5 L893.9,302.7 L894.2,301.8 L894.5,301.9 L894.8,301.4 L895.1,300.9 L895.4,302.0 L895.7,301.4 L896.0,301.4 L896.2,301.5 L900.4,301.5 L900.7,302.0 L901.0,301.6 L901.4,301.8 L901.7,301.9 L902.0,301.5 L902.3,300.9 L902.6,300.0 L902.9,300.6 L903.2,299.8 L903.5,300.4 L903.8,300.5 L904.1,299.0 L904.4,297.2 L904.7,295.4 L905.0,293.9 L905.3,293.7 L905.6,292.1 L905.9,290.7 L906.2,289.0 L906.6,288.5 L906.9,288.2 L907.2,288.6 L907.5,288.2 L907.8,287.6 L908.1,287.0 L908.4,288.4 L908.8,289.0 L909.1,289.3 L909.4,288.7 L909.7,288.3 L910.0,287.9 L910.3,287.5 L910.6,287.5 L910.9,286.7 L911.2,287.7 L911.6,286.7 L911.9,286.9 L912.2,287.1 L912.5,287.4 L912.8,288.0 L913.1,287.9 L913.4,287.7 L913.7,288.4 L914.0,289.0 L916.0,289.0 L916.3,290.6 L916.6,292.9 L916.9,293.7 L917.2,295.6 L917.5,295.8 L923.3,295.8 L923.6,296.5 L923.9,295.8 L924.2,296.2 L924.5,296.3 L924.8,295.6 L925.1,296.0 L925.4,296.9 L925.7,296.1 L926.0,297.2 L926.3,297.2 L926.6,296.4 L926.9,295.9 L927.2,296.0 L927.5,296.2 L927.8,295.1 L928.1,294.2 L928.4,293.9 L928.7,293.5 L929.0,294.2 L929.3,294.2 L929.6,294.2 L929.9,293.6 L930.2,293.1 L930.5,292.5 L930.8,292.6 L931.1,293.1 L931.4,294.4 L931.7,295.2 L932.0,294.6 L932.3,294.5 L932.6,296.0 L932.9,296.1 L933.2,296.4 L933.5,295.4 L933.9,294.4 L934.2,294.0 L934.5,293.8 L934.8,294.2 L935.1,293.0 L935.4,290.7 L935.7,291.4 L936.0,290.5 L936.3,288.3 L936.6,288.4 L936.9,287.9 L937.2,287.2 L937.5,286.7 L937.8,286.5 L938.1,284.4 L938.4,284.5 L938.8,284.2 L939.1,284.1 L939.4,283.1 L939.7,282.1 L940.0,282.7 L940.3,280.3 L940.6,281.1 L940.9,281.9 L941.2,280.7 L941.6,280.4 L941.9,279.9 L942.2,279.4 L942.5,278.5 L942.8,277.5 L943.1,277.5 L943.4,276.9 L943.7,276.9 L944.0,277.0 L944.3,276.2 L944.6,277.2 L944.9,278.0 L945.2,276.5 L945.5,276.2 L945.8,275.8 L946.1,275.9 L946.4,275.1 L946.7,276.1 L947.0,275.6 L947.3,277.0 L947.6,276.3 L947.9,277.5 L948.2,276.0 L948.5,274.8 L948.8,273.2 L949.1,271.7 L949.4,269.2 L949.7,268.4 L950.0,267.2 L950.3,266.4 L950.6,265.4 L950.9,265.3 L951.2,264.8 L951.5,264.0 L951.8,261.7 L952.1,261.3 L952.4,259.7 L952.6,258.4 L952.9,257.7 L953.2,256.6 L953.5,255.6 L953.8,255.0 L954.1,252.9 L954.4,252.7 L954.7,251.9 L955.0,251.7 L955.3,251.0 L955.6,250.0 L955.9,250.5 L956.2,250.2 L956.6,250.4 L956.9,250.3 L957.2,250.4 L957.5,250.7 L957.8,250.7 L958.1,249.5 L958.4,248.9 L958.8,249.4 L959.1,249.7 L959.4,249.9 L959.7,250.3 L960.0,251.4 L960.3,251.2 L960.6,251.6 L960.9,251.7 L961.2,251.7 L961.5,251.8 L961.8,251.0 L962.1,250.7 L962.4,250.6 L962.7,250.5 L963.0,250.5 L963.3,250.6 L963.6,249.8 L963.9,247.9 L964.2,248.2 L964.5,249.0 L964.8,248.5 L965.1,248.2 L965.4,248.5 L965.7,247.7 L966.0,247.3 L966.3,246.7 L966.6,246.8 L966.9,246.5 L967.2,247.4 L967.5,246.5 L967.8,245.0 L968.1,243.0 L968.3,242.1 L968.6,241.0 L968.9,239.8 L969.2,239.2 L969.5,240.3 L969.8,241.2 L970.0,244.5 L970.3,246.3 L970.6,247.5 L970.9,247.9 L971.2,247.7 L971.6,246.7 L971.9,246.7 L972.2,247.1 L972.5,247.3 L972.8,246.9 L973.1,247.8 L973.4,246.9 L973.8,246.5 L974.0,245.7 L974.3,243.9 L974.6,243.3 L974.9,242.5 L975.1,242.1 L975.4,241.2 L975.7,242.8 L976.0,242.1 L976.3,242.1 L976.6,241.9 L976.9,242.1 L977.2,242.8 L977.5,242.3 L977.8,243.8 L978.1,245.4 L978.4,246.3 L978.7,246.2 L979.0,247.5 L979.3,247.1 L979.6,245.7 L979.9,244.5 L980.1,243.4 L980.4,241.7 L980.7,241.2 L981.0,241.2 L981.3,241.5 L981.6,241.0 L981.9,241.0 L982.2,241.0 L982.5,242.2 L982.8,241.9 L983.1,242.3 L983.4,240.8 L983.7,240.3 L984.0,238.5 L984.3,237.6 L984.6,236.0 L984.9,237.4 L985.2,237.4 L985.5,238.3 L985.8,240.0 L986.1,241.4 L986.4,241.6 L986.7,244.4 L992.5,244.4 L1000.8,244.4 L1006.0,244.4 L1006.4,244.6 L1006.7,244.4 L1007.0,244.0 L1007.3,243.3 L1007.6,244.3 L1007.9,245.1 L1008.2,246.0 L1008.5,245.2 L1008.9,243.9 L1009.2,242.3 L1009.5,241.6 L1009.8,241.5 L1010.1,241.0 L1010.4,240.1 L1010.7,240.8 L1011.0,240.6 L1011.2,241.1 L1011.5,242.2 L1011.8,241.9 L1012.1,241.9 L1012.4,243.0 L1012.7,242.2 L1013.0,242.2 L1013.3,241.7 L1013.6,241.6 L1014.0,241.2 L1014.3,241.5 L1014.6,241.2 L1014.9,242.1 L1015.2,241.6 L1015.5,241.6 L1015.8,242.2 L1016.1,241.6 L1016.5,241.2 L1016.8,241.7 L1017.1,241.9 L1017.4,243.0 L1017.6,243.0 L1017.9,242.4 L1018.2,243.4 L1018.5,243.3 L1018.8,241.1 L1019.1,239.0 L1019.4,238.0 L1019.7,236.7 L1020.0,235.0 L1020.3,235.0 L1020.6,234.5 L1020.9,235.4 L1021.2,235.9 L1021.5,235.1 L1021.8,235.5 L1022.1,234.4 L1022.4,233.6 L1022.7,232.9 L1023.0,233.5 L1023.3,234.3 L1023.6,233.8 L1024.0,232.9 L1024.3,233.3 L1024.6,232.4 L1024.9,233.0 L1025.2,231.8 L1025.5,231.9 L1025.8,230.8 L1026.1,231.6 L1026.5,231.2 L1026.8,230.3 L1027.1,229.9 L1027.4,227.8 L1027.7,227.4 L1028.0,227.4 L1028.3,228.5 L1028.6,227.3 L1029.0,227.7 L1029.3,229.5 L1029.6,230.9 L1029.9,231.5 L1030.1,232.5 L1030.4,232.8 L1030.7,233.9 L1031.0,234.0 L1031.3,233.5 L1031.6,233.4 L1031.9,232.7 L1032.2,231.6 L1032.5,231.5 L1032.8,231.5 L1033.1,231.9 L1033.4,232.4 L1033.7,233.8 L1034.0,234.0 L1034.3,235.1 L1034.6,234.6 L1034.9,235.3 L1035.2,236.0 L1035.5,237.5 L1035.8,237.2 L1036.1,238.7 L1036.5,238.7 L1036.8,238.6 L1037.1,237.6 L1037.4,238.4 L1037.7,238.2 L1038.0,238.9 L1038.3,239.2 L1038.6,239.3 L1038.9,239.0 L1039.2,238.1 L1039.5,237.4 L1039.8,237.0 L1040.1,237.0 L1040.4,236.0 L1040.7,235.6 L1041.0,233.1 L1041.3,231.2 L1041.6,230.6 L1041.9,229.8 L1042.2,230.1 L1042.5,229.8 L1042.8,230.0 L1043.1,230.1 L1043.4,230.9 L1043.7,231.7 L1044.0,233.1 L1044.3,233.6 L1044.6,234.0 L1044.9,233.2 L1045.2,233.0 L1045.5,232.2 L1045.8,231.9 L1046.1,232.2 L1046.4,231.8 L1046.7,230.8 L1047.0,231.1 L1047.3,231.6 L1047.6,230.9 L1047.9,230.6 L1048.2,229.4 L1048.5,228.6 L1048.8,227.7 L1049.0,227.5 L1049.3,227.8 L1049.6,229.9 L1049.9,231.4 L1050.1,231.9 L1050.4,232.9 L1050.7,234.2 L1051.0,235.6 L1051.3,235.5 L1051.6,236.6 L1051.9,237.1 L1055.0,237.1 L1055.3,237.2 L1055.6,237.6 L1055.9,235.5 L1056.2,234.1 L1056.5,234.9 L1056.8,236.3 L1057.1,237.3 L1057.4,237.0 L1057.7,237.1 L1058.0,238.0 L1058.3,238.3 L1058.6,237.2 L1058.9,238.2 L1059.2,238.1 L1059.5,237.9 L1059.8,236.4 L1060.1,235.4 L1060.4,236.0 L1060.7,235.5 L1061.0,235.6 L1061.2,236.5 L1061.5,236.3 L1061.8,236.1 L1062.1,235.7 L1062.4,236.1 L1062.7,236.1 L1063.0,236.2 L1063.3,237.1 L1063.6,237.8 L1064.0,239.1 L1064.3,238.9 L1064.6,239.1 L1064.9,240.0 L1065.2,239.8 L1065.5,239.2 L1065.8,239.5 L1066.1,239.5 L1066.5,240.2 L1075.8,240.2 L1086.2,240.2 L1086.6,240.9 L1086.9,240.2 L1087.2,239.0 L1087.5,238.3 L1087.8,237.5 L1088.1,236.7 L1088.4,237.0 L1088.8,237.0 L1089.1,236.9 L1089.4,236.3 L1089.7,236.5 L1090.0,236.0 L1090.3,237.5 L1090.6,237.7 L1090.9,237.9 L1091.2,238.6 L1091.6,240.3 L1091.9,239.3 L1092.2,239.8 L1092.5,239.2 L1092.8,239.0 L1093.2,239.7 L1093.5,241.2 L1107.1,241.2 L1121.7,241.2 L1122.0,239.8 L1122.3,239.2 L1122.6,240.2 L1122.9,240.8 L1123.2,240.2 L1123.5,240.4 L1123.9,240.2 L1124.2,239.5 L1124.5,238.6 L1124.8,239.2 L1125.1,238.5 L1125.4,238.1 L1125.7,237.5 L1126.0,236.2 L1126.3,235.9 L1126.6,236.9 L1126.9,236.0 L1127.2,235.7 L1127.5,236.3 L1127.8,236.4 L1128.1,236.2 L1128.4,236.3 L1128.7,236.3 L1129.0,236.0 L1129.3,235.7 L1129.6,235.7 L1129.9,234.8 L1130.1,235.1 L1130.4,235.3 L1130.7,235.1 L1131.0,234.3 L1131.3,234.2 L1131.6,233.1 L1131.9,233.8 L1132.2,233.3 L1132.5,234.2 L1132.8,233.8 L1133.1,234.6 L1133.4,235.3 L1133.8,236.3 L1134.1,236.4 L1134.4,235.4 L1134.7,236.0 L1135.0,235.9 L1135.3,235.2 L1135.6,234.7 L1135.9,235.2 L1136.2,236.0 L1136.6,236.4 L1136.9,237.1 L1137.2,238.0 L1137.5,237.9 L1137.8,238.1 L1138.1,238.0 L1138.4,238.0 L1138.8,238.0 L1139.1,238.3 L1139.4,238.1 L1139.7,237.9 L1140.0,238.3 L1140.3,237.8 L1140.6,237.9 L1140.9,237.0 L1141.2,236.1 L1141.5,237.1 L1141.8,237.8 L1142.2,239.4 L1142.5,238.8 L1159.2,238.8 L1176.9,238.8 L1177.2,236.4 L1177.5,235.6 L1177.8,234.8 L1178.1,232.5 L1178.4,232.3 L1178.7,232.0 L1179.0,230.8 L1179.3,230.7 L1179.6,230.6 L1179.9,230.1 L1180.2,229.1 L1180.5,229.1 L1180.8,228.2 L1181.1,227.3 L1181.5,225.8 L1181.8,225.3 L1182.1,225.6 L1182.4,225.3 L1182.7,224.9 L1183.0,223.9 L1183.3,223.7 L1183.6,224.3 L1184.0,224.1 L1184.3,224.5 L1184.6,225.3 L1184.9,224.6 L1185.2,224.2 L1185.5,225.2 L1185.8,225.6 L1186.1,225.5 L1186.4,226.1 L1186.7,227.0 L1187.0,228.3 L1187.3,228.3 L1187.6,227.8 L1187.9,227.4 L1188.2,224.6 L1188.5,224.3 L1188.8,223.5 L1189.1,221.6 L1189.4,222.1 L1189.7,222.2 L1190.0,222.2 L1190.3,223.7 L1190.6,224.2 L1190.9,223.3 L1191.2,223.1 L1191.5,224.2 L1191.8,225.0 L1192.1,226.0 L1192.4,225.9 L1192.6,226.6 L1192.9,226.1 L1193.2,225.9 L1193.5,226.2 L1193.8,226.6 L1194.1,227.5 L1194.4,227.8 L1194.7,228.5 L1195.0,230.4 L1195.3,231.3 L1195.6,232.5 L1195.9,231.0 L1196.2,230.0 L1196.5,230.2 L1196.8,228.5 L1197.1,227.7 L1197.4,227.0 L1197.7,227.3 L1198.0,225.8 L1198.3,225.2 L1198.6,224.9 L1199.0,224.8 L1199.3,223.3 L1199.6,224.0 L1199.9,224.2 L1200.2,224.9 L1200.5,225.0 L1200.8,225.2 L1201.1,225.0 L1201.5,224.8 L1201.8,224.0 L1202.1,224.3 L1202.4,223.4 L1202.7,224.2 L1203.0,224.6 L1203.3,224.1 L1203.6,224.3 L1204.0,223.1 L1204.3,222.7 L1204.6,222.4 L1204.9,221.7 L1205.1,221.5 L1205.4,221.6 L1205.7,221.4 L1206.0,221.0 L1206.3,221.1 L1206.6,220.7 L1206.9,222.0 L1207.2,222.7 L1207.5,224.5 L1207.8,224.6 L1208.1,225.2 L1208.4,225.2 L1208.8,225.8 L1209.1,226.0 L1209.4,226.2 L1209.7,224.8 L1210.0,224.7 L1210.3,225.6 L1210.6,223.6 L1210.9,223.5 L1211.2,224.6 L1211.6,223.8 L1211.9,224.0 L1212.2,225.4 L1212.5,225.7 L1212.8,225.8 L1213.1,226.4 L1213.4,226.3 L1213.8,226.8 L1214.1,226.7 L1214.4,227.3 L1214.7,227.2 L1215.0,227.6 L1215.3,228.2 L1215.6,227.1 L1215.9,228.2 L1216.2,228.5 L1216.6,228.6 L1216.9,228.1 L1217.2,228.5 L1217.5,228.3 L1217.8,228.7 L1218.1,229.8 L1218.4,229.4 L1218.8,228.8 L1219.1,228.6 L1219.4,228.3 L1219.7,228.6 L1220.0,227.1 L1220.3,227.4 L1220.6,227.3 L1220.9,227.2 L1221.2,226.4 L1221.5,227.4 L1221.8,228.5 L1222.1,229.1 L1222.4,229.9 L1222.7,230.8 L1223.0,230.9 L1223.3,231.4 L1223.6,230.5 L1223.9,231.0 L1224.2,229.2 L1224.5,229.9 L1224.8,230.9 L1225.1,231.7 L1225.4,231.0 L1225.7,230.7 L1226.0,231.0 L1226.3,230.4 L1226.6,230.5 L1226.9,230.4 L1227.2,231.8 L1227.5,231.7 L1227.8,231.6 L1228.1,232.3 L1228.4,233.4 L1228.7,233.4 L1229.0,232.7 L1229.3,232.1 L1229.6,231.3 L1229.9,231.6 L1230.1,231.2 L1230.4,231.5 L1230.7,230.7 L1231.0,230.8 L1231.3,231.2 L1231.6,230.4 L1231.9,231.2 L1232.2,231.3 L1232.5,230.7 L1232.8,230.5 L1233.1,230.4 L1233.4,229.8 L1233.7,229.4 L1234.0,229.6 L1234.3,228.2 L1234.6,230.0 L1234.9,230.6 L1235.2,231.5 L1238.3,231.5 L1238.6,232.9 L1239.0,233.2 L1239.3,232.9 L1239.6,232.7 L1239.9,232.9 L1240.2,233.7 L1240.5,232.8 L1240.8,233.9 L1241.1,233.5 L1241.5,232.5 L1241.8,233.9 L1242.1,234.1 L1242.4,235.1 L1242.6,234.6 L1242.9,235.6 L1243.2,235.8 L1243.5,237.1 L1248.8,237.1 L1249.0,236.4 L1249.3,236.3 L1249.6,236.0 L1249.9,236.5 L1250.2,236.2 L1250.5,236.3 L1250.8,236.7 L1251.1,236.8 L1251.4,237.3 L1251.7,237.9 L1252.0,237.1 L1252.3,238.3 L1252.6,237.9 L1252.9,237.7 L1253.2,239.0 L1253.5,238.6 L1253.9,238.6 L1254.2,239.2 L1254.5,238.8 L1254.8,238.8 L1255.1,238.7 L1255.4,238.7 L1255.7,237.9 L1256.0,238.8 L1256.4,238.6 L1256.7,238.9 L1257.0,238.7 L1257.3,238.1 L1257.6,238.7 L1257.9,238.0 L1258.2,238.6 L1258.5,237.9 L1258.9,237.2 L1259.2,237.1 L1259.5,238.7 L1259.8,239.4 L1260.1,239.5 L1260.4,239.8 L1260.7,240.6 L1261.0,240.3 L1261.4,239.0 L1261.7,238.2 L1262.0,238.2 L1262.3,237.7 L1262.6,234.9 L1263.0,233.3 L1263.3,230.4 L1263.6,229.3 L1263.9,228.7 L1264.2,228.8 L1264.5,229.4 L1264.8,229.2 L1265.1,228.3 L1265.4,227.3 L1265.7,226.4 L1266.0,225.9 L1266.4,226.4 L1266.7,226.8 L1267.0,226.9 L1267.3,226.1 L1267.6,225.9 L1267.9,225.4 L1268.2,226.3 L1268.5,226.2 L1268.9,225.9 L1269.2,225.7 L1269.5,225.5 L1269.8,225.3 L1270.1,224.7 L1270.4,224.6 L1270.7,224.4 L1271.0,224.8 L1271.4,225.0 L1271.7,225.2 L1272.0,224.9 L1272.3,224.9 L1272.6,223.4 L1272.9,222.8 L1273.2,222.5 L1273.5,220.8 L1273.9,221.7 L1274.2,222.4 L1274.5,222.5 L1274.8,224.2 L1275.1,221.9 L1275.4,220.7 L1275.7,219.6 L1276.0,218.1 L1276.2,217.9 L1276.6,218.9 L1276.9,219.4 L1277.2,218.9 L1277.5,219.2 L1277.8,219.5 L1278.1,220.0 L1278.4,219.2 L1278.7,218.6 L1279.0,219.6 L1279.3,219.6 L1279.6,219.6 L1279.9,219.6 L1280.2,217.7 L1280.5,218.7 L1280.8,217.6 L1281.1,216.8 L1281.5,217.2 L1281.8,218.1 L1282.1,219.0 L1282.4,218.6 L1282.7,218.0 L1283.0,218.5 L1283.3,218.7 L1283.6,217.4 L1283.9,218.3 L1284.2,217.0 L1284.5,217.3 L1284.8,217.5 L1285.1,218.0 L1285.4,218.1 L1285.7,218.7 L1286.0,218.9 L1286.2,218.3 L1286.6,218.4 L1286.9,219.9 L1287.2,219.1 L1287.5,220.1 L1287.8,220.2 L1288.1,219.5 L1288.4,219.4 L1288.8,220.3 L1289.1,218.8 L1289.4,220.0 L1292.5,220.0 L1292.8,220.6 L1293.1,220.1 L1293.4,219.7 L1293.7,219.5 L1294.0,219.9 L1294.3,218.9 L1294.6,218.3 L1294.9,217.9 L1295.2,216.2 L1295.5,215.7 L1295.8,215.0 L1296.1,214.9 L1296.4,213.4 L1296.7,212.7 L1297.0,212.3 L1297.3,211.7 L1297.6,210.3 L1297.9,210.4 L1298.2,209.7 L1298.5,209.2 L1298.8,208.5 L1299.0,209.1 L1299.3,209.1 L1299.6,208.7 L1299.9,209.3 L1300.2,209.3 L1300.5,209.4 L1300.8,209.6 L1301.1,207.2 L1301.4,205.6 L1301.7,204.2 L1302.0,201.6 L1302.3,199.8 L1302.6,198.2 L1302.9,197.1 L1303.2,196.6 L1303.5,196.4 L1303.8,196.6 L1304.1,195.5 L1304.4,194.8 L1304.7,194.3 L1305.0,194.6 L1305.3,195.4 L1305.6,195.4 L1305.9,195.2 L1306.2,194.8 L1306.6,194.8 L1306.9,195.8 L1307.2,195.7 L1307.5,195.2 L1307.8,196.2 L1308.1,196.0 L1308.4,195.9 L1308.8,195.4 L1309.1,196.2 L1309.4,196.0 L1309.7,194.8 L1310.0,193.3 L1310.3,193.5 L1310.6,193.2 L1310.9,193.6 L1311.2,194.0 L1311.6,194.7 L1311.9,195.4 L1312.2,194.3 L1312.5,193.8 L1312.8,192.9 L1313.1,193.2 L1313.4,191.8 L1313.8,192.0 L1314.1,190.4 L1314.4,190.8 L1314.7,192.6 L1315.0,192.5 L1315.3,193.5 L1315.6,194.1 L1315.9,193.9 L1316.2,195.6 L1316.5,196.0 L1316.8,196.6 L1317.1,196.7 L1317.4,197.8 L1317.7,197.3 L1318.0,197.7 L1318.3,197.6 L1318.6,197.2 L1319.0,197.7 L1319.3,197.6 L1319.6,197.1 L1319.9,197.7 L1320.2,197.2 L1320.5,198.4 L1320.8,200.1 L1321.1,199.5 L1321.4,200.0 L1321.7,200.2 L1325.8,200.2 L1330.0,200.2 L1330.3,199.4 L1330.6,199.6 L1330.9,200.5 L1331.2,200.3 L1331.6,199.8 L1331.9,200.6 L1332.2,200.0 L1332.5,199.2 L1332.8,198.4 L1333.1,198.8 L1333.4,198.3 L1333.8,198.0 L1334.1,197.1 L1334.4,196.9 L1334.7,196.4 L1335.0,197.2 L1335.3,196.7 L1335.6,195.6 L1335.9,196.3 L1336.2,196.0 L1340.4,196.0 L1340.7,196.0 L1341.0,196.3 L1341.3,196.3 L1341.6,194.8 L1341.9,194.7 L1342.2,195.6 L1342.5,196.2 L1342.8,195.6 L1343.1,195.4 L1343.4,195.7 L1343.7,197.1 L1344.0,197.4 L1344.3,197.5 L1344.6,197.1 L1344.9,197.3 L1345.2,197.5 L1345.5,198.0 L1345.8,197.9 L1346.1,198.1 L1346.4,197.8 L1346.7,199.2 L1350.8,199.2 L1356.0,199.2 L1356.4,200.1 L1356.7,200.4 L1357.0,200.7 L1357.3,201.7 L1357.6,202.2 L1357.9,202.3 L1358.2,200.9 L1358.5,200.0 L1358.9,200.9 L1359.2,201.2 L1359.5,201.1 L1359.8,200.2 L1360.1,201.0 L1360.4,200.6 L1360.7,201.0 L1361.0,201.3 L1361.2,201.3 L1361.5,200.9 L1361.8,201.5 L1362.1,200.9 L1362.4,200.8 L1362.7,201.1 L1363.0,202.2 L1363.3,202.3 L1363.6,202.3 L1363.9,202.5 L1364.2,200.7 L1364.5,199.9 L1364.8,199.5 L1365.1,198.9 L1365.4,199.3 L1365.7,198.8 L1366.0,199.1 L1366.3,199.6 L1366.6,199.3 L1366.9,199.4 L1367.2,200.3 L1367.5,200.8 L1367.8,200.8 L1368.1,199.5 L1368.4,199.0 L1368.8,198.9 L1369.1,199.0 L1369.4,199.1 L1369.7,199.0 L1370.0,198.2 L1370.3,198.6 L1370.6,199.2 L1370.9,199.0 L1371.2,198.8 L1371.5,199.2 L1371.8,198.8 L1372.1,198.9 L1372.4,199.4 L1372.7,198.8 L1373.0,198.6 L1373.3,197.9 L1373.7,196.9 L1374.0,195.4 L1374.3,195.5 L1374.6,197.1 L1374.9,196.7 L1375.3,197.0 L1375.6,196.9 L1375.9,195.9 L1376.2,195.7 L1376.5,194.6 L1376.9,194.0 L1377.2,195.3 L1377.5,195.9 L1377.8,196.6 L1378.1,197.9 L1378.4,196.1 L1378.7,193.5 L1379.0,191.3 L1379.3,189.0 L1379.6,187.0 L1379.9,186.1 L1380.1,184.2 L1380.4,184.3 L1380.7,184.8 L1381.0,185.3 L1381.3,183.7 L1381.6,183.0 L1381.9,182.6 L1382.1,181.8 L1382.4,180.7 L1382.7,179.7 L1383.0,178.8 L1383.3,179.4 L1383.6,179.8 L1383.9,180.1 L1384.2,179.7 L1384.5,179.8 L1384.8,179.8 L1385.1,180.5 L1385.4,179.8 L1385.7,179.7 L1386.0,179.0 L1386.3,177.8 L1386.6,178.3 L1387.0,178.2 L1387.3,178.2 L1387.6,179.1 L1387.9,179.8 L1388.2,179.5 L1388.5,179.4 L1388.8,178.8 L1389.1,178.4 L1389.4,177.0 L1389.7,176.8 L1390.0,176.2 L1390.3,176.2 L1390.6,176.7 L1391.0,175.4 L1391.3,175.9 L1391.6,176.1 L1391.9,177.3 L1392.2,177.5 L1392.6,179.0 L1392.9,179.9 L1393.2,180.7 L1393.5,181.4 L1393.8,180.9 L1394.2,180.2 L1394.4,179.5 L1394.7,179.9 L1395.0,179.0 L1395.3,178.7 L1395.5,180.0 L1395.8,181.0 L1396.1,179.8 L1396.4,180.9 L1396.7,179.7 L1397.1,178.4 L1397.4,179.0 L1397.7,179.6 L1398.0,178.9 L1398.4,178.7 L1398.7,178.1 L1399.0,179.0 L1399.3,178.6 L1399.6,179.2 L1399.9,178.7 L1400.2,178.3 L1400.5,178.8 L1400.8,179.2 L1401.1,178.8 L1401.4,177.7 L1401.7,177.9 L1402.1,178.6 L1402.4,178.8 L1402.7,177.5 L1403.0,177.3 L1403.3,177.1 L1403.7,177.9 L1404.0,177.5 L1404.3,177.5 L1404.6,178.8 L1404.9,178.2 L1405.3,177.9 L1405.6,177.5 L1405.9,178.5 L1406.2,178.2 L1406.5,178.9 L1406.8,178.6 L1407.1,179.9 L1407.3,180.5 L1407.6,180.3 L1407.9,181.1 L1408.2,181.5 L1408.5,181.0 L1408.7,179.8 L1409.0,180.7 L1409.3,180.2 L1409.6,179.4 L1409.9,179.0 L1410.1,178.5 L1410.4,178.0 L1410.7,179.2 L1411.0,178.5 L1411.3,179.6 L1411.5,182.9 L1411.8,186.6 L1412.1,187.4 L1412.4,186.4 L1412.7,186.5 L1413.0,186.7 L1432.0,186.7 L1432.3,186.9 L1432.6,187.5 L1432.9,187.4 L1433.1,187.2 L1433.4,184.5 L1433.7,181.8 L1434.0,180.5 L1434.3,180.8 L1434.6,180.0 L1434.8,181.6 L1435.1,182.2 L1435.4,181.5 L1435.7,182.4 L1436.0,181.3 L1436.4,181.3 L1436.7,180.0 L1437.0,179.3 L1437.3,179.0 L1437.6,177.6 L1437.9,177.5 L1438.2,177.8 L1438.5,178.4 L1438.8,178.6 L1439.0,178.4 L1439.3,178.5 L1439.6,178.6 L1439.9,178.8 L1440.2,180.4 L1440.4,180.3 L1440.7,180.6 L1441.0,181.8 L1441.3,181.7 L1441.6,180.8 L1442.0,180.3 L1442.3,179.7 L1442.6,178.8 L1442.9,178.3 L1443.2,178.7 L1443.6,178.7 L1443.9,179.1 L1444.2,179.0 L1444.5,179.1 L1444.8,179.9 L1445.2,180.5 L1445.5,180.7 L1445.8,180.8 L1446.1,181.9 L1446.3,181.9 L1446.6,181.2 L1446.9,182.0 L1447.2,182.7 L1447.5,183.0 L1447.7,181.7 L1448.0,181.7 L1448.3,181.7 L1448.6,181.1 L1448.9,180.1 L1449.1,180.5 L1449.4,181.6 L1449.7,181.0 L1450.0,181.4 L1450.3,179.8 L1450.5,179.3 L1450.8,179.4 L1451.1,179.1 L1451.4,177.9 L1451.7,178.1 L1451.9,178.3 L1452.2,178.5 L1452.5,177.0 L1452.8,175.7 L1453.1,174.4 L1453.3,173.4 L1453.7,173.5 L1454.0,173.4 L1454.3,173.9 L1454.6,174.7 L1454.9,174.8 L1455.3,175.7 L1455.6,174.5 L1455.9,176.3 L1456.2,175.6 L1456.6,175.3 L1456.9,175.5 L1457.2,176.2 L1457.5,176.3 L1457.8,175.1 L1458.1,175.5 L1458.5,175.3 L1458.8,176.6 L1459.1,177.0 L1459.4,175.9 L1459.7,176.1 L1460.0,176.9 L1460.4,176.8 L1460.7,176.9 L1461.0,175.6 L1461.3,175.2 L1461.6,175.7 L1462.0,175.5 L1462.3,174.7 L1462.6,174.0 L1462.9,174.9 L1463.2,175.6 L1463.5,176.1 L1463.9,176.8 L1464.2,177.0 L1464.5,177.3 L1464.8,177.4 L1465.1,177.3 L1465.4,177.9 L1465.7,177.0 L1466.1,178.3 L1466.4,178.6 L1466.7,178.1 L1467.0,178.9 L1467.3,179.8 L1467.6,179.8 L1467.9,178.7 L1468.3,179.0 L1468.6,179.2 L1468.9,178.9 L1469.2,178.1 L1469.5,177.6 L1469.9,177.9 L1470.2,177.9 L1470.5,178.1 L1470.8,176.8 L1471.1,176.9 L1471.4,175.9 L1471.7,175.7 L1472.0,175.5 L1472.4,176.0 L1472.7,176.0 L1473.0,175.4 L1473.3,175.7 L1473.6,175.0 L1473.9,175.2 L1474.2,175.9 L1474.5,176.3 L1474.8,176.2 L1475.1,176.6 L1475.5,177.1 L1475.8,177.6 L1476.1,177.2 L1476.4,178.0 L1476.7,178.2 L1477.0,177.6 L1477.3,176.2 L1477.6,175.7 L1478.0,175.4 L1478.3,173.9 L1478.6,172.0 L1478.9,171.9 L1479.2,172.5 L1479.6,173.5 L1479.9,173.7 L1480.2,173.6 L1480.5,175.8 L1480.8,177.3 L1481.2,178.0 L1481.5,179.0 L1481.8,180.8 L1482.1,180.4 L1482.4,180.1 L1482.7,179.4 L1483.0,179.5 L1483.3,180.2 L1483.6,180.8 L1483.9,180.3 L1484.2,179.2 L1484.5,180.4 L1484.8,181.0 L1485.1,180.1 L1485.4,181.2 L1485.7,181.0 L1486.0,180.7 L1486.3,180.9 L1486.6,180.0 L1486.9,179.1 L1487.2,180.0 L1487.5,179.7 L1487.8,179.9 L1488.1,180.7 L1488.4,180.8 L1488.7,180.6 L1489.0,180.8 L1489.3,181.8 L1489.6,181.9 L1489.9,181.4 L1490.2,182.5 L1490.5,183.3 L1490.8,182.3 L1491.1,182.3 L1491.3,183.7 L1491.6,182.5 L1491.9,181.4 L1492.2,181.6 L1492.5,181.0 L1492.8,179.6 L1493.1,180.3 L1493.4,179.9 L1493.7,179.9 L1494.0,180.5 L1494.3,180.4 L1494.6,179.5 L1494.8,180.7 L1495.1,181.1 L1495.4,180.8 L1495.7,180.7 L1496.0,179.9 L1496.3,180.6 L1496.6,179.8 L1496.9,181.2 L1497.2,180.1 L1497.5,180.8 L1497.8,180.2 L1498.1,179.6 L1498.3,180.3 L1498.6,180.5 L1498.9,181.3 L1499.2,180.9 L1499.5,181.1 L1499.8,181.2 L1500.1,181.7 L1500.4,182.6 L1500.7,182.8 L1501.0,182.4 L1501.3,182.5 L1501.6,181.3 L1501.9,180.8 L1502.2,181.7 L1502.5,181.3 L1502.8,181.9 L1503.1,181.6 L1503.4,180.9 L1503.7,181.0 L1504.0,181.3 L1504.2,181.2 L1506.7,181.2 L1506.9,181.1 L1507.2,182.1 L1507.5,181.9 L1507.8,181.9 L1508.1,181.1 L1508.4,181.5 L1508.7,180.8 L1509.0,180.7 L1509.3,180.1 L1509.6,180.4 L1509.9,180.5 L1510.2,181.2 L1510.5,181.1 L1510.8,181.4 L1511.1,182.6 L1511.4,181.9 L1511.7,181.2 L1512.0,181.6 L1512.3,181.6 L1515.5,181.6 L1515.8,182.0 L1516.1,180.6 L1516.4,180.7 L1516.7,181.6 L1517.0,182.2 L1517.3,182.5 L1517.6,182.7 L1517.9,182.4 L1518.2,182.2 L1518.5,182.3 L1518.8,181.0 L1519.1,181.9 L1519.5,181.1 L1519.8,182.0 L1520.1,182.6 L1520.1,592.8 Z" fill="#fae9e9" stroke="none"/>
<path d="M87.3,589.28H1587.9M87.3,582.47H1587.9M87.3,576.47H1587.9M87.3,571.10H1587.9M87.3,535.77H1587.9M87.3,515.10H1587.9M87.3,500.44H1587.9M87.3,489.06H1587.9M87.3,479.77H1587.9M87.3,471.91H1587.9M87.3,465.10H1587.9M87.3,459.10H1587.9M87.3,453.73H1587.9M87.3,418.40H1587.9M87.3,397.73H1587.9M87.3,383.07H1587.9M87.3,371.69H1587.9M87.3,362.40H1587.9M87.3,354.54H1587.9M87.3,347.73H1587.9M87.3,341.73H1587.9M87.3,336.36H1587.9M87.3,301.03H1587.9M87.3,280.36H1587.9M87.3,265.70H1587.9M87.3,254.32H1587.9M87.3,245.03H1587.9M87.3,237.17H1587.9M87.3,230.36H1587.9M87.3,224.36H1587.9M87.3,218.99H1587.9M87.3,183.66H1587.9M181.10,167.3V592.8M401.82,167.3V592.8M622.53,167.3V592.8M843.25,167.3V592.8M1063.97,167.3V592.8M1284.68,167.3V592.8M1505.40,167.3V592.8" stroke="#b0b0b0" stroke-opacity="0.3" stroke-width="0.8" fill="none"/>
<g clip-path="url(#ax)" fill="none" stroke-linejoin="round" stroke-linecap="round">
<path d="M155.3,571.1 L155.6,571.2 L155.8,571.6 L156.1,571.5 L156.4,571.8 L156.7,571.9 L157.0,570.4 L157.3,569.5 L157.6,568.2 L157.9,566.8 L158.2,565.6 L158.5,564.5 L158.8,563.1 L159.0,561.9 L159.3,560.3 L159.6,558.8 L159.9,557.3 L160.2,555.6 L160.5,553.9 L160.8,552.1 L161.1,551.0 L161.5,550.0 L161.8,549.0 L162.1,548.0 L162.4,546.7 L162.7,545.7 L163.0,544.7 L163.3,543.9 L163.6,542.7 L164.0,541.7 L164.3,538.2 L164.6,535.1 L164.9,531.6 L165.2,528.2 L165.5,525.5 L165.8,522.0 L166.1,519.2 L166.5,516.3 L166.8,513.3 L167.1,510.4 L167.4,508.2 L167.7,506.1 L168.0,503.7 L168.3,501.2 L168.6,498.7 L168.9,496.1 L169.2,493.8 L169.5,493.1 L169.8,492.9 L170.1,492.0 L170.4,491.2 L170.7,490.5 L171.0,489.6 L171.2,489.6 L171.5,489.2 L171.8,489.4 L172.1,489.6 L172.4,490.2 L172.7,490.0 L173.0,490.5 L173.3,490.6 L173.6,491.5 L173.9,492.1 L174.2,493.2 L174.5,493.8 L174.8,494.6 L175.1,495.6 L175.4,496.9 L175.7,496.4 L176.0,496.9 L176.3,497.2 L176.6,497.2 L176.9,497.3 L177.2,497.3 L177.5,497.8 L177.8,498.0 L178.1,498.0 L178.4,498.1 L178.7,498.1 L179.0,498.2 L179.3,498.1 L179.6,498.7 L179.9,498.3 L180.2,497.5 L180.5,497.6 L180.8,497.6 L181.1,497.8 L181.4,497.9 L181.7,497.9 L182.0,498.0 L182.3,498.3 L182.6,498.2 L182.9,498.1 L183.2,498.7 L183.5,498.8 L183.8,498.6 L184.0,499.2 L184.3,499.4 L184.6,499.3 L184.9,499.0 L185.2,499.1 L185.5,499.0 L185.8,498.7 L186.1,498.4 L186.4,498.3 L186.7,498.6 L187.0,498.6 L187.3,498.2 L187.6,498.4 L187.9,498.5 L188.2,498.7 L188.5,499.0 L188.8,499.0 L189.1,499.0 L189.4,499.0 L189.7,498.8 L190.0,499.0 L190.3,499.3 L190.6,499.4 L190.9,499.3 L191.2,499.3 L191.5,499.1 L191.8,498.9 L192.1,498.9 L192.4,498.7 L192.7,498.6 L193.0,498.2 L193.3,498.3 L193.6,498.3 L193.9,498.1 L194.2,497.5 L194.5,497.5 L194.8,497.7 L195.1,497.5 L195.4,497.3 L195.7,497.2 L196.0,497.3 L196.2,497.0 L196.5,497.2 L196.8,497.1 L197.1,497.3 L197.4,497.3 L197.7,497.2 L198.0,496.8 L198.3,496.6 L198.6,496.5 L198.9,496.6 L199.2,496.6 L199.5,496.4 L199.8,496.5 L200.1,496.7 L200.4,496.6 L200.7,496.5 L201.0,496.3 L201.3,496.5 L201.6,496.6 L201.9,496.3 L202.2,496.4 L202.5,496.2 L202.8,496.1 L203.1,496.4 L203.4,496.7 L203.7,496.5 L204.0,496.5 L204.3,496.7 L204.6,496.6 L204.9,496.6 L205.2,496.7 L205.5,496.3 L205.8,496.4 L206.1,496.6 L206.4,496.8 L206.7,496.5 L207.0,496.6 L207.3,496.4 L207.6,496.6 L207.9,496.7 L208.2,496.8 L208.5,496.7 L208.8,496.5 L209.0,496.8 L209.3,496.6 L209.6,496.7 L209.9,496.9 L210.2,496.8 L210.5,497.5 L210.8,497.5 L211.1,498.1 L211.4,497.6 L211.7,497.1 L212.1,497.4 L212.4,497.6 L212.7,497.5 L213.0,497.6 L213.3,497.1 L213.6,497.0 L213.9,496.8 L214.2,496.8 L214.5,497.1 L214.8,497.1 L215.1,497.2 L215.4,497.1 L215.7,497.0 L216.0,497.1 L216.3,497.1 L216.6,497.4 L216.9,497.3 L217.2,497.8 L217.5,497.6 L217.8,497.9 L218.2,497.7 L218.5,498.2 L218.8,498.3 L219.1,498.4 L219.4,498.6 L219.7,498.5 L220.0,498.3 L220.3,497.8 L220.6,498.2 L220.9,498.0 L221.2,497.9 L221.5,498.0 L221.8,498.5 L222.1,498.1 L222.4,498.2 L222.7,498.2 L223.0,498.3 L223.3,497.9 L223.6,497.3 L224.0,497.0 L224.3,496.8 L224.6,496.7 L224.9,495.9 L225.2,495.4 L225.5,494.8 L225.8,494.0 L226.1,493.1 L226.5,492.7 L226.8,492.9 L227.1,492.9 L227.4,493.3 L227.7,493.2 L228.0,493.4 L228.3,493.5 L228.6,493.6 L229.0,493.9 L229.3,494.0 L229.6,494.2 L229.9,494.2 L230.2,494.7 L230.5,494.7 L230.8,494.9 L231.1,495.1 L231.4,495.0 L231.7,495.2 L232.0,495.0 L232.3,495.3 L232.6,495.1 L232.9,495.0 L233.2,495.0 L233.5,495.3 L233.8,495.5 L234.0,495.7 L234.3,495.7 L234.6,495.4 L234.9,495.6 L235.2,495.7 L235.5,495.4 L235.8,495.7 L236.1,495.7 L236.4,495.5 L236.7,495.6 L237.0,495.3 L237.3,495.1 L237.6,495.2 L237.9,494.8 L238.2,494.8 L238.5,494.4 L238.8,494.6 L239.1,494.3 L239.4,494.4 L239.7,494.0 L240.0,493.8 L240.3,494.1 L240.6,494.1 L240.9,493.6 L241.2,493.9 L241.5,494.0 L241.8,493.9 L242.1,494.2 L242.4,494.0 L242.7,493.9 L243.0,494.2 L243.3,494.4 L243.6,494.7 L243.9,494.4 L244.2,494.0 L244.5,494.0 L244.8,493.6 L245.1,493.6 L245.4,493.2 L245.7,493.5 L246.0,493.6 L246.2,493.8 L246.5,493.5 L246.8,493.3 L247.1,493.0 L247.4,492.9 L247.7,492.7 L248.0,492.6 L248.3,492.3 L248.6,492.6 L248.9,492.4 L249.2,492.5 L249.5,492.7 L249.8,492.2 L250.1,491.6 L250.4,491.7 L250.7,491.5 L251.0,491.5 L251.3,491.4 L251.6,491.4 L251.9,491.0 L252.2,491.0 L252.5,490.8 L252.8,490.8 L253.1,490.1 L253.4,490.3 L253.7,490.3 L254.0,489.9 L254.3,489.6 L254.6,489.6 L254.9,489.7 L255.2,489.7 L255.5,490.0 L255.8,489.9 L256.1,489.7 L256.4,489.4 L256.7,489.6 L257.0,489.4 L257.3,489.7 L257.6,490.0 L257.9,490.1 L258.2,490.4 L258.5,490.4 L258.8,490.4 L259.0,490.3 L259.3,490.1 L259.6,489.8 L259.9,489.6 L260.2,489.4 L260.5,489.0 L260.8,489.1 L261.1,489.2 L261.4,489.2 L261.7,489.5 L262.0,489.8 L262.3,490.1 L262.6,489.9 L262.9,489.6 L263.2,489.7 L263.5,489.8 L263.8,490.0 L264.1,490.2 L264.4,490.5 L264.7,490.4 L265.0,490.6 L265.3,490.7 L265.6,490.3 L265.9,490.5 L266.2,491.1 L266.5,490.9 L266.8,491.4 L267.1,491.5 L267.4,491.7 L267.7,491.9 L268.0,492.2 L268.3,492.2 L268.6,492.5 L268.9,492.9 L269.2,493.3 L269.5,492.9 L269.8,493.1 L270.1,493.4 L270.4,493.8 L270.7,493.3 L271.0,493.1 L271.2,492.5 L271.5,492.4 L271.8,492.3 L272.1,491.8 L272.4,491.2 L272.7,491.1 L273.0,491.0 L273.3,490.6 L273.6,490.4 L273.9,489.7 L274.2,489.4 L274.5,489.3 L274.8,489.2 L275.1,489.4 L275.4,489.0 L275.7,488.3 L276.0,488.3 L276.3,488.0 L276.6,488.0 L276.9,488.0 L277.2,488.1 L277.5,488.3 L277.8,488.5 L278.1,488.0 L278.4,487.8 L278.7,488.2 L279.0,487.9 L279.3,488.1 L279.6,487.9 L279.9,487.7 L280.2,488.1 L280.5,488.3 L280.8,488.1 L281.1,488.3 L281.4,487.9 L281.7,487.7 L282.0,487.8 L282.3,487.8 L282.6,487.4 L282.9,487.5 L283.2,487.5 L283.5,487.7 L283.8,487.9 L284.0,487.8 L284.3,487.6 L284.6,487.5 L284.9,487.4 L285.2,487.7 L285.5,488.0 L285.8,488.3 L286.1,488.3 L286.4,488.2 L286.7,488.3 L287.0,488.2 L287.3,488.2 L287.6,487.7 L287.9,487.5 L288.2,487.9 L288.5,487.7 L288.8,487.4 L289.1,487.4 L289.4,487.9 L289.7,488.3 L290.0,488.2 L290.3,488.2 L290.6,488.2 L290.9,488.0 L291.2,488.0 L291.5,488.0 L291.8,487.7 L292.1,487.6 L292.4,487.6 L292.7,487.4 L293.0,487.2 L293.3,487.5 L293.6,488.0 L293.9,488.0 L294.2,487.9 L294.5,488.0 L294.8,488.0 L295.1,487.8 L295.4,488.1 L295.7,487.8 L296.0,487.6 L296.2,487.5 L296.5,487.2 L296.8,487.2 L297.1,487.3 L297.4,487.7 L297.7,487.8 L298.0,487.8 L298.3,487.5 L298.6,487.5 L298.9,487.2 L299.2,487.1 L299.5,487.3 L299.8,487.4 L300.1,487.3 L300.4,487.1 L300.7,487.0 L301.0,487.0 L301.3,486.8 L301.6,486.6 L301.9,486.8 L302.2,486.3 L302.5,486.2 L302.8,485.9 L303.1,486.2 L303.4,486.4 L303.7,486.5 L304.0,486.5 L304.3,486.6 L304.6,486.6 L304.9,486.2 L305.2,486.2 L305.5,486.3 L305.8,485.9 L306.1,486.1 L306.4,486.2 L306.7,485.8 L307.0,485.7 L307.3,485.7 L307.6,485.6 L307.9,485.7 L308.2,485.5 L308.5,485.4 L308.8,485.5 L309.0,485.7 L309.3,485.8 L309.6,485.8 L309.9,486.0 L310.2,485.5 L310.5,485.8 L310.8,485.7 L311.1,485.4 L311.4,485.4 L311.7,484.9 L312.0,484.5 L312.3,484.4 L312.6,484.3 L312.9,484.5 L313.2,484.3 L313.5,484.0 L313.8,483.8 L314.1,484.3 L314.4,484.3 L314.7,484.2 L315.0,484.0 L315.3,483.7 L315.6,483.8 L315.9,483.9 L316.2,484.3 L316.5,484.6 L316.8,484.8 L317.1,484.7 L317.4,484.5 L317.7,484.0 L318.0,483.8 L318.3,484.0 L318.6,483.9 L318.9,484.1 L319.2,483.8 L319.5,484.1 L319.8,484.3 L320.1,484.3 L320.4,484.5 L320.7,484.0 L321.0,483.9 L321.2,483.8 L321.5,484.3 L321.8,484.3 L322.1,484.2 L322.4,484.4 L322.7,484.2 L323.0,484.6 L323.3,484.5 L323.6,484.5 L323.9,484.3 L324.2,484.6 L324.5,484.1 L324.8,484.3 L325.1,484.2 L325.4,484.2 L325.7,484.0 L326.0,484.1 L326.3,484.2 L326.6,484.4 L326.9,484.5 L327.2,484.7 L327.5,485.0 L327.8,485.0 L328.1,484.7 L328.4,484.5 L328.7,484.7 L329.0,484.7 L329.3,485.0 L329.6,485.0 L329.9,484.9 L330.2,485.1 L330.5,485.7 L330.8,485.7 L331.1,485.5 L331.4,485.4 L331.7,485.6 L332.0,485.6 L332.3,485.5 L332.6,485.7 L332.9,485.8 L333.2,485.9 L333.5,485.8 L333.8,485.7 L334.0,485.8 L334.3,485.9 L334.6,486.1 L334.9,486.1 L335.2,486.2 L335.5,486.4 L335.8,486.5 L336.1,486.7 L336.4,487.0 L336.7,487.1 L337.0,487.2 L337.3,487.0 L337.6,487.2 L337.9,487.2 L338.2,487.2 L338.5,487.1 L338.8,487.3 L339.1,488.0 L339.4,488.2 L339.7,488.3 L340.0,488.4 L340.3,488.3 L340.6,488.4 L340.9,488.3 L341.2,488.3 L341.5,488.4 L341.8,488.5 L342.1,488.5 L342.4,488.5 L342.7,488.8 L343.0,488.7 L343.3,489.1 L343.6,489.2 L343.9,489.3 L344.2,489.7 L344.5,490.0 L344.8,489.9 L345.1,490.0 L345.5,490.3 L345.8,490.2 L346.1,489.8 L346.4,490.0 L346.7,490.1 L347.0,490.4 L347.3,490.6 L347.6,490.8 L347.9,491.0 L348.2,491.5 L348.5,491.8 L348.9,492.1 L349.2,492.2 L349.5,492.6 L349.8,492.7 L350.1,493.1 L350.4,492.7 L350.7,492.6 L351.0,492.3 L351.4,492.0 L351.7,492.1 L352.0,492.0 L352.3,491.8 L352.6,491.5 L352.9,491.7 L353.2,491.7 L353.5,491.7 L353.8,491.9 L354.1,492.6 L354.4,493.2 L354.7,493.5 L355.0,493.9 L355.3,493.9 L355.6,494.5 L355.9,494.6 L356.2,495.2 L356.5,495.5 L356.8,495.8 L357.1,496.3 L357.4,496.7 L357.7,496.9 L358.0,496.9 L358.3,497.0 L358.6,497.0 L358.9,496.7 L359.2,496.6 L359.5,496.4 L359.8,496.3 L360.1,496.3 L360.4,496.3 L360.7,496.3 L361.0,495.9 L361.3,496.0 L361.6,496.0 L361.9,495.9 L362.2,495.9 L362.5,496.4 L362.8,496.1 L363.1,495.7 L363.4,495.9 L363.7,495.8 L364.0,496.1 L364.3,495.9 L364.6,495.8 L364.9,496.0 L365.2,496.2 L365.5,496.4 L365.8,496.5 L366.2,496.5 L366.5,496.4 L366.8,496.3 L367.1,496.7 L367.4,496.9 L367.7,496.9 L368.0,497.0 L368.3,497.2 L368.6,497.5 L368.9,497.5 L369.2,497.5 L379.6,497.5 L379.9,496.4 L380.2,495.8 L380.5,494.6 L380.8,493.7 L381.1,492.2 L381.4,491.1 L381.7,489.6 L382.0,487.0 L382.3,484.8 L382.6,482.9 L382.9,481.3 L383.2,479.8 L383.5,478.1 L383.8,476.0 L387.9,476.0 L388.2,477.2 L388.5,476.9 L388.8,476.8 L389.1,477.6 L389.4,477.7 L389.7,477.5 L390.0,477.1 L390.0,478.1 L390.3,476.4 L390.6,474.8 L390.9,474.0 L391.2,471.6 L391.5,470.2 L391.8,470.0 L392.1,468.8 L393.1,468.8 L393.4,468.2 L393.8,468.1 L394.1,466.7 L394.4,466.3 L394.7,465.2 L395.0,463.8 L395.3,463.0 L395.6,462.4 L395.9,461.5 L396.2,460.4 L396.6,461.2 L396.9,462.1 L397.2,462.6 L397.5,462.6 L397.8,461.9 L398.1,461.5 L398.4,460.8 L398.8,461.0 L399.1,461.8 L399.4,462.5 L399.7,462.5 L400.0,462.3 L400.3,462.4 L400.6,462.5 L400.9,462.9 L401.2,464.0 L401.5,463.5 L401.8,464.9 L402.1,463.3 L402.4,461.9 L402.6,460.7 L402.9,459.8 L403.2,459.5 L403.5,460.8 L403.8,460.8 L404.1,462.0 L404.4,462.2 L404.7,462.8 L405.0,462.5 L405.3,464.8 L405.6,465.4 L405.8,465.7 L406.1,468.0 L406.4,468.8 L406.7,469.8 L410.8,469.8 L411.1,469.7 L411.4,469.1 L411.7,468.1 L412.0,468.0 L412.3,469.1 L412.6,469.4 L412.9,469.3 L413.2,470.0 L413.5,469.4 L413.8,470.3 L414.1,470.3 L414.4,469.8 L414.7,470.2 L415.0,470.6 L415.3,470.3 L415.6,470.5 L415.9,471.2 L416.2,472.2 L416.5,471.6 L416.8,469.7 L417.1,471.2 L417.4,471.0 L417.7,470.7 L418.0,471.0 L418.3,470.7 L418.6,471.4 L418.9,470.6 L419.2,470.4 L419.5,469.6 L419.8,470.8 L420.1,470.7 L420.4,471.5 L420.7,472.6 L421.0,471.9 L421.4,471.8 L421.7,472.4 L422.0,472.5 L422.3,472.5 L422.6,472.7 L422.9,473.0 L423.2,472.3 L423.5,471.9 L423.9,472.0 L424.2,471.8 L424.5,471.6 L424.8,470.4 L425.1,471.3 L425.4,470.8 L425.7,470.8 L426.0,470.6 L426.3,470.4 L426.6,470.3 L426.9,469.5 L427.2,469.5 L427.5,470.1 L427.8,470.2 L428.1,470.5 L428.4,470.6 L428.7,470.4 L429.0,471.5 L429.3,470.8 L429.6,470.8 L429.9,471.3 L430.2,471.3 L430.5,470.4 L430.8,469.4 L431.1,470.3 L431.4,469.4 L431.7,469.2 L432.0,469.9 L432.3,470.3 L432.6,469.4 L432.9,468.4 L433.2,468.7 L433.5,468.5 L433.8,468.7 L434.1,469.1 L434.4,469.5 L434.7,469.0 L435.0,468.1 L435.3,469.1 L435.6,469.0 L436.0,468.6 L436.3,467.5 L436.6,468.2 L436.9,467.7 L437.2,467.3 L437.5,468.1 L437.8,468.6 L438.1,469.3 L438.4,468.8 L438.7,467.1 L439.0,466.7 L439.3,466.8 L439.6,466.7 L439.9,467.6 L440.1,468.2 L440.4,467.8 L440.7,468.5 L441.0,468.8 L441.3,468.8 L441.6,470.0 L441.9,469.2 L442.2,470.3 L442.5,471.5 L442.8,470.4 L443.1,470.7 L443.4,471.0 L443.7,470.6 L444.0,470.6 L444.3,470.4 L444.6,470.8 L444.9,469.1 L445.2,466.3 L445.5,465.8 L445.8,465.1 L446.1,463.2 L446.4,462.4 L446.7,462.5 L447.0,460.6 L447.3,459.6 L447.6,458.4 L447.9,458.1 L448.2,457.1 L448.5,455.3 L448.8,455.4 L449.1,454.4 L449.4,454.2 L449.7,453.8 L450.0,451.4 L450.2,449.1 L450.5,447.8 L450.8,445.8 L451.1,444.9 L451.4,443.6 L451.7,444.3 L451.9,443.5 L452.2,442.4 L452.5,441.2 L452.8,442.5 L453.1,442.4 L453.4,443.2 L453.7,444.7 L454.0,444.9 L454.3,445.9 L454.6,446.9 L458.8,446.9 L459.1,446.3 L459.4,447.9 L459.7,448.2 L460.0,448.3 L460.3,447.5 L460.6,447.4 L460.9,447.0 L461.2,446.8 L461.6,446.8 L461.9,448.3 L462.2,448.9 L462.5,449.7 L462.8,450.3 L463.1,451.9 L463.4,451.1 L463.7,449.8 L464.0,449.6 L464.3,449.9 L464.6,450.1 L464.9,449.8 L465.2,450.5 L465.5,451.9 L465.8,452.2 L466.1,452.2 L466.4,453.2 L466.7,453.1 L467.0,452.5 L467.3,452.3 L467.6,450.3 L467.9,451.2 L468.2,450.7 L468.5,450.7 L468.9,450.5 L469.2,450.4 L469.5,449.4 L469.8,450.5 L470.1,450.8 L470.4,450.9 L470.7,453.0 L471.0,452.0 L471.2,452.4 L471.5,452.3 L471.8,451.1 L472.1,452.4 L472.4,451.2 L472.7,451.2 L473.0,451.0 L473.3,451.0 L473.6,450.7 L473.9,451.9 L474.3,452.4 L474.6,451.8 L474.9,451.2 L475.2,451.7 L475.5,451.2 L475.8,451.8 L476.1,452.3 L476.4,452.2 L476.7,451.1 L477.0,450.5 L477.3,451.1 L477.6,451.0 L477.9,452.6 L478.2,452.6 L478.5,453.1 L478.9,453.0 L479.2,452.6 L479.5,452.2 L479.8,452.4 L480.1,451.7 L480.4,451.4 L480.7,450.6 L481.0,451.4 L481.4,451.0 L481.7,451.0 L482.0,449.1 L482.3,448.9 L482.6,448.2 L482.9,448.4 L483.2,448.2 L483.5,447.6 L483.8,447.6 L484.0,448.3 L484.3,449.1 L484.6,448.9 L484.9,449.8 L485.2,449.5 L485.5,450.1 L485.8,449.6 L486.1,450.0 L486.4,451.4 L486.7,450.9 L487.0,451.5 L487.3,450.2 L487.6,449.5 L487.9,451.1 L488.2,450.8 L488.5,450.9 L488.8,449.5 L489.1,449.2 L489.4,448.4 L489.7,449.0 L490.0,448.3 L490.3,449.8 L490.6,448.7 L490.9,448.5 L491.2,446.8 L491.5,446.2 L491.8,446.7 L492.1,446.2 L492.4,444.3 L492.7,443.7 L493.0,443.3 L493.3,442.7 L493.6,442.3 L493.9,440.3 L494.2,440.6 L494.5,441.6 L494.8,440.7 L495.1,442.5 L495.4,442.7 L495.7,443.5 L496.0,442.6 L496.2,442.7 L496.5,441.6 L496.8,442.3 L497.1,442.2 L497.4,441.7 L497.7,441.6 L498.0,442.5 L498.3,442.1 L498.6,442.6 L498.9,441.9 L499.2,440.9 L499.5,440.7 L499.8,440.6 L500.1,440.9 L500.4,441.7 L500.7,441.5 L501.0,441.3 L501.3,441.9 L501.6,442.3 L501.9,442.3 L502.2,442.5 L502.5,441.1 L502.8,440.8 L503.1,439.7 L503.4,439.6 L503.7,440.3 L504.0,439.2 L504.3,439.9 L504.6,439.6 L504.9,439.4 L505.2,439.0 L505.5,439.5 L505.8,439.0 L506.1,437.5 L506.5,437.6 L506.8,437.5 L507.1,437.9 L507.4,438.3 L507.7,437.4 L508.0,437.5 L508.3,437.5 L508.6,436.2 L508.9,435.1 L509.2,434.1 L509.5,432.6 L509.8,431.2 L510.1,431.2 L510.4,429.8 L510.7,429.0 L511.0,427.6 L511.3,426.2 L511.6,425.2 L511.9,424.6 L512.2,424.0 L512.5,422.2 L512.8,421.2 L513.0,419.9 L513.3,418.3 L513.6,417.7 L513.9,419.4 L514.2,421.0 L514.4,421.8 L514.7,423.5 L515.0,426.0 L515.3,425.3 L515.6,425.0 L515.9,425.7 L516.2,424.6 L516.5,423.9 L516.8,424.2 L517.1,424.9 L517.4,425.9 L517.7,426.5 L518.0,428.2 L518.3,428.5 L518.6,427.7 L518.9,427.6 L519.2,428.1 L519.5,428.3 L519.8,426.8 L520.1,427.0 L520.4,426.3 L520.7,426.0 L521.0,426.9 L521.2,426.7 L521.5,426.1 L521.8,425.9 L522.1,425.4 L522.4,426.7 L522.7,427.2 L523.0,427.7 L523.3,427.1 L523.6,426.4 L523.9,426.4 L524.3,424.6 L524.6,425.1 L524.9,424.0 L525.2,423.8 L525.5,423.8 L525.8,423.0 L526.1,423.0 L526.4,423.3 L526.7,424.4 L527.0,424.4 L527.3,425.5 L527.6,425.6 L527.9,425.2 L528.2,425.6 L528.5,425.0 L528.9,424.7 L529.2,424.8 L529.5,425.2 L529.8,425.1 L530.1,423.7 L530.4,424.2 L530.7,424.0 L531.0,423.4 L531.4,422.5 L531.7,422.5 L532.0,423.1 L532.3,424.0 L532.6,424.3 L532.9,425.7 L533.2,425.9 L533.5,426.6 L533.8,427.1 L534.0,428.2 L534.3,428.0 L534.6,428.1 L534.9,428.3 L535.2,428.1 L535.5,428.0 L535.8,427.5 L536.1,428.3 L536.4,429.7 L536.7,429.3 L537.0,430.2 L537.3,429.7 L537.6,429.5 L537.9,429.6 L538.2,429.4 L538.5,429.5 L538.9,428.0 L539.2,426.8 L539.5,426.7 L539.8,426.3 L540.1,427.6 L540.4,427.1 L540.7,426.5 L541.0,427.1 L541.4,425.2 L541.7,423.8 L542.0,425.7 L542.3,425.2 L542.6,425.2 L542.9,425.1 L543.2,424.4 L543.5,424.3 L543.9,423.3 L544.2,424.0 L544.5,424.2 L544.8,424.3 L545.1,423.3 L545.4,421.6 L545.7,421.0 L546.0,419.9 L546.2,419.8 L546.5,418.2 L546.8,417.0 L547.1,416.6 L547.4,416.4 L547.7,415.9 L548.0,414.5 L548.3,413.5 L548.6,413.9 L548.9,413.5 L549.2,411.9 L549.5,412.2 L549.8,411.0 L550.1,410.0 L550.4,408.3 L550.7,408.8 L551.0,408.4 L551.3,407.8 L551.6,406.6 L551.9,405.1 L552.2,404.7 L552.5,404.2 L552.8,404.4 L553.1,402.9 L553.4,401.7 L553.7,401.5 L554.0,401.2 L554.3,399.9 L554.6,400.0 L554.9,396.8 L555.3,393.9 L555.6,390.6 L555.9,391.4 L556.2,391.2 L556.5,391.2 L556.8,392.1 L557.1,392.5 L557.4,392.8 L557.7,393.8 L558.0,393.7 L558.3,393.8 L558.6,392.0 L559.0,391.5 L559.3,391.8 L559.6,391.0 L559.9,390.6 L560.2,390.5 L560.5,390.2 L560.8,390.6 L561.2,394.5 L561.5,397.8 L561.9,402.1 L562.2,401.8 L562.5,401.3 L562.8,401.6 L563.1,402.0 L563.4,401.9 L563.7,401.2 L564.0,400.8 L564.3,401.0 L564.6,401.4 L564.9,402.7 L565.2,402.6 L565.5,402.4 L565.8,400.9 L566.1,401.8 L566.4,402.5 L566.7,402.5 L567.0,402.0 L567.3,400.1 L567.6,400.7 L568.0,400.1 L568.3,401.2 L568.6,401.7 L568.9,402.6 L569.2,402.5 L577.5,402.5 L577.8,402.4 L578.1,400.4 L578.4,400.5 L578.7,399.5 L579.0,397.7 L579.3,396.4 L579.6,394.8 L579.9,394.8 L580.2,394.2 L580.5,393.1 L580.8,392.7 L581.1,392.4 L581.4,392.4 L581.7,392.7 L582.0,393.6 L582.3,393.9 L582.6,395.0 L582.9,393.3 L583.2,393.2 L583.5,393.8 L583.8,392.9 L584.0,392.8 L584.3,392.9 L584.6,391.8 L584.9,391.4 L585.2,391.8 L585.5,391.6 L585.8,392.6 L586.1,394.3 L586.4,394.2 L586.7,393.4 L587.0,393.4 L587.3,393.0 L587.6,392.0 L587.9,391.7 L588.2,391.4 L588.5,391.3 L588.8,392.0 L589.1,392.8 L589.4,393.2 L589.7,393.0 L590.0,393.4 L590.3,393.5 L590.7,393.8 L591.0,393.2 L591.3,391.1 L591.6,391.8 L591.9,391.5 L592.2,391.2 L592.5,391.3 L592.8,391.3 L593.1,391.2 L593.4,392.4 L593.7,392.5 L594.0,392.8 L594.3,392.3 L594.6,392.3 L594.9,392.7 L595.2,392.7 L595.5,392.9 L595.8,392.3 L596.1,392.6 L596.4,391.9 L596.7,391.6 L597.0,391.0 L597.4,391.2 L597.7,392.0 L598.0,392.2 L598.3,391.6 L598.6,391.7 L598.9,392.4 L599.2,392.9 L599.5,393.3 L599.8,392.5 L600.1,392.1 L600.4,391.7 L600.7,391.1 L601.0,391.1 L601.3,390.9 L601.6,390.5 L601.9,390.7 L602.2,390.0 L602.5,389.6 L602.8,388.9 L603.1,387.3 L603.4,386.0 L603.7,384.3 L604.0,382.9 L604.3,382.0 L604.6,381.2 L604.9,380.6 L605.1,380.0 L605.4,378.3 L605.7,378.7 L606.0,378.8 L606.2,377.1 L606.5,379.2 L606.8,381.4 L607.1,384.1 L607.4,387.0 L607.7,389.6 L608.1,385.4 L608.4,385.1 L608.8,383.3 L609.0,382.2 L609.3,380.0 L609.6,378.4 L609.9,377.4 L610.2,375.4 L610.5,374.5 L610.8,372.9 L611.1,372.2 L611.4,370.5 L611.7,369.7 L612.0,366.8 L612.3,366.0 L612.6,364.6 L612.9,362.5 L613.2,360.5 L613.5,357.5 L613.8,355.4 L614.0,353.3 L614.3,351.2 L614.6,350.0 L614.9,348.2 L615.2,347.1 L615.5,344.8 L615.8,342.1 L616.0,339.6 L616.3,338.9 L616.6,337.3 L616.9,336.8 L617.2,335.3 L617.5,334.4 L617.8,334.4 L618.1,334.2 L618.4,333.6 L618.8,333.9 L619.1,334.0 L619.4,335.2 L619.7,335.8 L620.0,336.7 L620.3,336.5 L620.6,336.5 L620.9,335.8 L621.2,335.4 L621.5,336.0 L621.8,335.9 L622.1,335.8 L622.4,335.5 L622.7,336.6 L623.0,336.6 L623.3,337.4 L623.6,337.4 L623.9,338.1 L624.2,337.5 L624.5,336.6 L624.8,337.4 L625.1,337.3 L625.4,337.5 L625.7,338.2 L626.0,338.9 L626.3,339.2 L626.6,338.5 L626.9,338.1 L627.2,338.3 L627.5,338.9 L627.8,339.4 L628.1,339.8 L628.4,339.4 L628.7,339.5 L629.0,340.3 L629.3,339.8 L629.6,339.6 L630.0,345.5 L644.0,345.5 L644.3,346.7 L644.6,347.2 L644.9,347.3 L645.2,346.8 L645.5,346.8 L645.8,346.4 L646.1,346.7 L646.4,347.3 L646.7,347.8 L647.0,348.8 L647.3,348.4 L647.7,347.8 L648.0,349.0 L657.0,349.0 L657.3,349.6 L657.6,348.7 L657.9,348.7 L658.2,347.8 L658.5,347.6 L658.8,347.6 L659.1,348.1 L659.4,347.3 L659.7,346.3 L660.0,346.5 L660.3,346.2 L660.6,347.2 L660.9,346.3 L661.1,345.8 L661.4,343.9 L661.7,344.6 L662.0,345.5 L662.3,345.8 L662.6,345.6 L662.9,344.2 L663.2,343.2 L663.5,342.9 L663.8,344.2 L664.2,344.8 L664.5,344.4 L664.8,344.7 L665.1,345.1 L665.4,345.4 L665.7,344.8 L666.0,344.5 L666.3,344.6 L666.6,344.5 L666.9,343.7 L667.2,344.8 L667.5,344.5 L667.8,343.6 L668.2,343.7 L668.5,343.6 L668.8,343.0 L669.1,343.7 L669.4,343.8 L669.7,343.3 L670.0,343.2 L670.3,343.4 L670.6,343.0 L670.9,343.3 L671.2,342.7 L671.5,342.3 L671.8,342.5 L672.2,341.4 L672.5,340.9 L672.8,340.0 L673.1,340.3 L673.4,339.6 L673.7,340.7 L674.0,341.5 L674.3,341.0 L674.6,341.1 L674.9,340.9 L675.2,340.9 L675.5,341.4 L675.8,342.4 L676.2,343.9 L676.5,345.2 L676.8,344.4 L677.1,344.0 L677.4,343.9 L677.7,343.7 L678.0,343.8 L678.3,343.4 L678.6,342.2 L678.9,340.9 L679.2,341.6 L679.5,341.2 L679.8,341.9 L680.1,340.6 L680.4,340.7 L680.7,341.0 L681.0,341.0 L681.3,340.6 L681.6,341.0 L681.9,340.6 L682.2,339.9 L682.5,339.9 L682.8,340.4 L683.1,340.3 L683.4,340.3 L683.6,340.8 L683.9,340.4 L684.2,340.8 L684.5,341.4 L684.8,342.0 L685.1,342.4 L685.4,341.8 L685.7,341.7 L686.0,341.5 L686.3,341.9 L686.6,340.7 L686.9,340.7 L687.2,339.6 L687.5,340.0 L687.8,339.6 L688.2,339.6 L688.5,340.2 L688.8,341.3 L689.1,340.6 L689.4,340.6 L689.7,339.2 L690.0,339.0 L690.3,338.5 L690.6,338.9 L690.9,338.8 L691.2,338.8 L691.5,338.0 L691.8,337.8 L692.2,337.0 L692.5,337.0 L692.8,335.8 L693.1,336.0 L693.4,336.7 L693.7,338.5 L694.0,339.5 L694.3,339.9 L694.6,340.0 L694.9,340.6 L695.2,340.1 L695.6,339.8 L695.9,338.0 L696.2,337.2 L696.5,337.5 L696.8,336.6 L697.1,337.2 L697.4,337.5 L697.7,337.6 L698.0,338.1 L698.2,338.5 L698.5,338.0 L698.8,338.3 L699.1,337.4 L699.4,338.7 L699.7,339.1 L700.0,340.0 L700.3,339.1 L700.6,340.2 L700.9,340.7 L701.2,340.7 L701.5,340.6 L701.8,340.6 L702.1,339.9 L702.4,339.6 L702.6,339.2 L702.9,339.2 L703.2,340.1 L703.5,340.7 L703.8,340.6 L704.1,340.8 L704.4,340.4 L704.7,339.8 L705.0,338.5 L705.3,338.0 L705.6,337.5 L705.9,337.8 L706.2,338.1 L706.6,338.7 L706.9,339.9 L707.2,340.7 L707.5,341.0 L707.8,342.4 L708.0,344.0 L746.0,344.0 L746.3,344.5 L746.6,343.9 L746.9,342.9 L747.2,342.8 L747.5,343.6 L747.8,344.5 L748.2,345.0 L748.5,343.7 L748.8,343.7 L749.1,344.2 L749.4,345.1 L749.7,346.4 L750.0,345.8 L750.3,346.3 L750.6,345.4 L750.9,345.4 L751.2,345.3 L751.6,346.1 L751.9,346.4 L752.2,345.4 L752.5,345.5 L752.8,345.5 L753.1,346.3 L753.4,345.6 L753.7,344.8 L754.0,344.1 L754.3,344.6 L754.6,344.2 L754.9,344.0 L755.2,344.1 L755.5,343.3 L755.8,343.9 L756.1,342.5 L756.4,343.5 L756.7,342.9 L757.0,342.0 L757.3,341.9 L757.6,341.6 L757.9,341.4 L758.2,341.3 L758.5,341.0 L758.8,341.3 L759.1,342.0 L759.4,342.0 L759.7,342.6 L760.0,342.5 L760.3,342.4 L760.6,342.0 L760.9,341.0 L761.2,340.8 L761.5,340.5 L761.8,339.8 L762.1,339.5 L762.4,339.7 L762.7,338.6 L763.0,338.0 L763.3,338.1 L763.6,337.9 L763.9,338.1 L764.2,339.5 L764.5,338.3 L764.8,338.3 L765.2,337.8 L765.5,338.5 L765.8,338.6 L766.1,337.3 L766.4,337.8 L766.7,337.5 L767.0,337.0 L767.3,336.9 L767.6,336.8 L767.9,336.1 L768.1,335.7 L768.4,336.4 L768.7,335.6 L769.0,335.0 L769.3,335.2 L769.6,334.2 L769.9,333.7 L770.1,333.5 L770.4,332.6 L770.7,332.0 L771.0,331.0 L771.3,328.0 L771.6,325.3 L771.9,322.4 L772.2,319.7 L772.5,317.1 L772.8,317.3 L773.1,316.2 L773.5,315.9 L773.8,316.8 L774.1,316.5 L774.4,316.2 L774.7,316.1 L775.1,315.4 L775.4,315.6 L775.7,315.6 L776.0,315.4 L776.3,315.8 L776.6,316.6 L776.8,315.5 L777.1,315.1 L777.4,314.8 L777.7,313.8 L778.0,314.2 L778.3,315.6 L778.6,316.1 L778.9,318.3 L779.2,318.3 L779.6,319.5 L779.9,320.1 L780.2,322.1 L780.5,323.5 L780.8,321.9 L781.2,320.8 L781.5,319.9 L781.8,319.6 L782.1,319.1 L782.4,318.3 L782.8,316.2 L783.1,316.1 L783.4,315.2 L783.7,313.2 L784.0,312.5 L784.4,311.6 L784.7,310.8 L785.0,310.6 L785.3,306.7 L785.6,304.2 L786.0,301.0 L786.3,296.2 L786.6,300.3 L786.9,302.9 L787.2,302.8 L787.6,303.8 L787.9,304.2 L788.2,303.3 L788.5,302.8 L788.8,303.2 L789.2,302.8 L789.5,302.4 L789.8,302.4 L790.1,302.3 L790.4,302.6 L790.8,302.9 L791.1,303.4 L791.4,304.2 L791.7,304.0 L792.1,304.5 L792.4,305.2 L792.7,305.4 L793.0,306.2 L793.3,305.5 L793.7,305.5 L794.0,305.7 L794.3,305.8 L794.6,304.9 L794.9,304.6 L795.3,304.1 L795.6,303.9 L795.9,304.0 L796.2,303.8 L796.5,303.9 L796.9,304.5 L797.2,305.3 L797.5,306.2 L797.8,307.4 L798.1,307.4 L798.5,306.8 L798.8,306.3 L799.1,306.2 L799.4,305.9 L799.7,306.2 L800.1,306.1 L800.4,306.1 L800.7,306.8 L801.0,306.8 L801.3,306.6 L801.7,306.3 L802.0,306.3 L802.3,306.5 L802.6,306.5 L802.9,306.0 L803.3,305.9 L803.6,306.2 L803.9,306.4 L804.2,306.8 L804.6,307.1 L804.9,307.4 L805.2,307.1 L805.5,306.7 L805.8,306.8 L806.2,306.7 L806.5,306.1 L806.8,305.8 L807.1,305.7 L807.4,305.4 L807.8,305.5 L808.1,305.4 L808.4,305.5 L808.7,305.2 L809.0,305.2 L809.4,305.3 L809.7,305.5 L810.0,305.6 L810.3,305.6 L810.6,305.8 L811.0,306.2 L811.3,306.0 L811.6,305.6 L811.9,305.6 L812.2,305.4 L812.6,305.5 L812.9,305.8 L813.2,306.2 L815.1,306.2 L815.4,306.4 L815.8,306.3 L816.1,306.9 L816.4,307.4 L816.7,307.8 L817.0,307.9 L817.3,307.9 L817.6,307.9 L817.9,307.5 L818.2,307.8 L818.5,307.7 L818.8,307.6 L819.1,307.8 L819.3,307.6 L819.6,307.9 L819.9,307.8 L820.2,308.3 L820.6,308.6 L820.9,308.8 L821.2,308.8 L821.5,308.8 L821.8,308.7 L822.1,308.2 L822.4,308.1 L822.7,307.8 L823.0,307.7 L823.3,307.7 L829.6,307.7 L829.9,307.1 L830.2,306.7 L830.5,306.5 L830.8,306.3 L831.1,306.4 L831.4,307.0 L831.7,306.9 L832.0,306.9 L832.3,306.8 L832.6,306.8 L832.9,307.2 L833.2,307.1 L833.5,307.2 L833.8,307.1 L834.0,307.0 L834.3,307.3 L834.6,307.3 L834.9,307.7 L835.2,307.5 L835.5,307.7 L835.8,308.2 L836.1,308.1 L836.4,308.2 L836.7,308.6 L837.0,308.8 L837.3,308.6 L837.6,308.6 L837.9,308.8 L838.2,308.3 L838.5,308.0 L838.8,307.8 L839.1,307.2 L839.4,307.3 L839.7,306.9 L840.0,306.7 L840.3,306.5 L840.6,306.7 L840.9,306.4 L841.2,306.8 L841.5,307.1 L841.8,307.1 L842.1,306.6 L842.4,306.1 L842.7,305.8 L843.0,305.7 L843.3,305.7 L843.6,305.8 L843.9,305.8 L844.2,305.6 L844.5,305.7 L844.8,305.1 L845.1,305.4 L845.4,304.9 L845.7,304.4 L846.0,304.2 L846.2,304.0 L846.5,303.7 L846.8,303.6 L847.1,303.6 L847.4,303.7 L847.7,303.7 L848.0,303.6 L848.3,303.5 L848.6,303.7 L849.0,303.4 L849.3,303.1 L849.6,302.4 L849.9,302.3 L850.2,302.6 L850.5,302.6 L850.8,302.3 L851.1,302.4 L851.5,302.5 L851.8,302.6 L852.1,302.0 L852.4,301.4 L852.6,301.4 L852.9,301.2 L853.2,301.1 L853.5,300.4 L853.8,299.8 L854.1,299.6 L854.4,299.1 L854.7,299.0 L855.0,298.3 L855.3,297.6 L855.6,297.3 L855.9,297.8 L856.2,297.5 L856.5,297.4 L856.8,297.8 L857.1,298.0 L857.4,298.7 L857.7,299.4 L858.0,299.8 L858.3,299.8 L858.6,299.8 L858.9,300.0 L859.2,300.0 L859.5,300.3 L859.8,300.4 L860.1,302.3 L860.5,304.1 L860.8,305.6 L869.2,305.6 L869.5,305.0 L869.8,304.8 L870.1,304.6 L870.4,304.9 L870.7,304.6 L871.0,304.6 L871.3,304.9 L871.6,305.2 L871.9,305.6 L872.2,305.8 L872.5,306.3 L872.8,306.3 L873.1,306.7 L873.4,306.5 L873.7,306.5 L874.0,306.7 L874.3,307.0 L874.6,307.1 L874.9,307.0 L875.2,306.9 L875.5,306.4 L875.9,306.0 L876.2,306.6 L876.5,306.2 L876.8,304.4 L877.2,302.4 L877.5,301.5 L877.8,300.6 L878.1,299.4 L878.4,297.8 L878.7,297.0 L879.0,295.3 L879.3,294.9 L879.6,295.2 L879.9,294.5 L880.2,294.7 L880.5,294.3 L880.8,294.0 L881.1,293.1 L881.4,293.1 L881.7,293.1 L882.0,294.0 L882.3,295.7 L882.6,295.0 L882.9,295.8 L883.2,295.2 L883.5,294.9 L883.9,294.0 L884.2,294.4 L884.5,295.3 L884.8,295.2 L885.1,295.6 L885.4,295.2 L885.7,295.1 L886.0,294.4 L886.4,294.6 L886.7,293.3 L887.0,295.1 L887.3,296.2 L887.6,296.0 L887.9,295.8 L888.2,295.9 L888.5,296.4 L888.8,296.9 L889.1,298.7 L889.4,298.7 L889.7,297.8 L890.0,298.3 L890.3,299.1 L890.6,299.0 L890.9,300.1 L891.2,300.5 L891.5,300.4 L891.8,300.8 L892.1,300.4 L892.4,300.1 L892.7,301.3 L893.0,302.1 L893.3,302.5 L893.6,302.5 L893.9,302.7 L894.2,301.8 L894.5,301.9 L894.8,301.4 L895.1,300.9 L895.4,302.0 L895.7,301.4 L896.0,301.4 L896.2,301.5 L900.4,301.5 L900.7,302.0 L901.0,301.6 L901.4,301.8 L901.7,301.9 L902.0,301.5 L902.3,300.9 L902.6,300.0 L902.9,300.6 L903.2,299.8 L903.5,300.4 L903.8,300.5 L904.1,299.0 L904.4,297.2 L904.7,295.4 L905.0,293.9 L905.3,293.7 L905.6,292.1 L905.9,290.7 L906.2,289.0 L906.6,288.5 L906.9,288.2 L907.2,288.6 L907.5,288.2 L907.8,287.6 L908.1,287.0 L908.4,288.4 L908.8,289.0 L909.1,289.3 L909.4,288.7 L909.7,288.3 L910.0,287.9 L910.3,287.5 L910.6,287.5 L910.9,286.7 L911.2,287.7 L911.6,286.7 L911.9,286.9 L912.2,287.1 L912.5,287.4 L912.8,288.0 L913.1,287.9 L913.4,287.7 L913.7,288.4 L914.0,289.0 L916.0,289.0 L916.3,290.6 L916.6,292.9 L916.9,293.7 L917.2,295.6 L917.5,295.8 L923.3,295.8 L923.6,296.5 L923.9,295.8 L924.2,296.2 L924.5,296.3 L924.8,295.6 L925.1,296.0 L925.4,296.9 L925.7,296.1 L926.0,297.2 L926.3,297.2 L926.6,296.4 L926.9,295.9 L927.2,296.0 L927.5,296.2 L927.8,295.1 L928.1,294.2 L928.4,293.9 L928.7,293.5 L929.0,294.2 L929.3,294.2 L929.6,294.2 L929.9,293.6 L930.2,293.1 L930.5,292.5 L930.8,292.6 L931.1,293.1 L931.4,294.4 L931.7,295.2 L932.0,294.6 L932.3,294.5 L932.6,296.0 L932.9,296.1 L933.2,296.4 L933.5,295.4 L933.9,294.4 L934.2,294.0 L934.5,293.8 L934.8,294.2 L935.1,293.0 L935.4,290.7 L935.7,291.4 L936.0,290.5 L936.3,288.3 L936.6,288.4 L936.9,287.9 L937.2,287.2 L937.5,286.7 L937.8,286.5 L938.1,284.4 L938.4,284.5 L938.8,284.2 L939.1,284.1 L939.4,283.1 L939.7,282.1 L940.0,282.7 L940.3,280.3 L940.6,281.1 L940.9,281.9 L941.2,280.7 L941.6,280.4 L941.9,279.9 L942.2,279.4 L942.5,278.5 L942.8,277.5 L943.1,277.5 L943.4,276.9 L943.7,276.9 L944.0,277.0 L944.3,276.2 L944.6,277.2 L944.9,278.0 L945.2,276.5 L945.5,276.2 L945.8,275.8 L946.1,275.9 L946.4,275.1 L946.7,276.1 L947.0,275.6 L947.3,277.0 L947.6,276.3 L947.9,277.5 L948.2,276.0 L948.5,274.8 L948.8,273.2 L949.1,271.7 L949.4,269.2 L949.7,268.4 L950.0,267.2 L950.3,266.4 L950.6,265.4 L950.9,265.3 L951.2,264.8 L951.5,264.0 L951.8,261.7 L952.1,261.3 L952.4,259.7 L952.6,258.4 L952.9,257.7 L953.2,256.6 L953.5,255.6 L953.8,255.0 L954.1,252.9 L954.4,252.7 L954.7,251.9 L955.0,251.7 L955.3,251.0 L955.6,250.0 L955.9,250.5 L956.2,250.2 L956.6,250.4 L956.9,250.3 L957.2,250.4 L957.5,250.7 L957.8,250.7 L958.1,249.5 L958.4,248.9 L958.8,249.4 L959.1,249.7 L959.4,249.9 L959.7,250.3 L960.0,251.4 L960.3,251.2 L960.6,251.6 L960.9,251.7 L961.2,251.7 L961.5,251.8 L961.8,251.0 L962.1,250.7 L962.4,250.6 L962.7,250.5 L963.0,250.5 L963.3,250.6 L963.6,249.8 L963.9,247.9 L964.2,248.2 L964.5,249.0 L964.8,248.5 L965.1,248.2 L965.4,248.5 L965.7,247.7 L966.0,247.3 L966.3,246.7 L966.6,246.8 L966.9,246.5 L967.2,247.4 L967.5,246.5 L967.8,245.0 L968.1,243.0 L968.3,242.1 L968.6,241.0 L968.9,239.8 L969.2,239.2 L969.5,240.3 L969.8,241.2 L970.0,244.5 L970.3,246.3 L970.6,247.5 L970.9,247.9 L971.2,247.7 L971.6,246.7 L971.9,246.7 L972.2,247.1 L972.5,247.3 L972.8,246.9 L973.1,247.8 L973.4,246.9 L973.8,246.5 L974.0,245.7 L974.3,243.9 L974.6,243.3 L974.9,242.5 L975.1,242.1 L975.4,241.2 L975.7,242.8 L976.0,242.1 L976.3,242.1 L976.6,241.9 L976.9,242.1 L977.2,242.8 L977.5,242.3 L977.8,243.8 L978.1,245.4 L978.4,246.3 L978.7,246.2 L979.0,247.5 L979.3,247.1 L979.6,245.7 L979.9,244.5 L980.1,243.4 L980.4,241.7 L980.7,241.2 L981.0,241.2 L981.3,241.5 L981.6,241.0 L981.9,241.0 L982.2,241.0 L982.5,242.2 L982.8,241.9 L983.1,242.3 L983.4,240.8 L983.7,240.3 L984.0,238.5 L984.3,237.6 L984.6,236.0 L984.9,237.4 L985.2,237.4 L985.5,238.3 L985.8,240.0 L986.1,241.4 L986.4,241.6 L986.7,244.4 L992.5,244.4 L1000.8,244.4 L1006.0,244.4 L1006.4,244.6 L1006.7,244.4 L1007.0,244.0 L1007.3,243.3 L1007.6,244.3 L1007.9,245.1 L1008.2,246.0 L1008.5,245.2 L1008.9,243.9 L1009.2,242.3 L1009.5,241.6 L1009.8,241.5 L1010.1,241.0 L1010.4,240.1 L1010.7,240.8 L1011.0,240.6 L1011.2,241.1 L1011.5,242.2 L1011.8,241.9 L1012.1,241.9 L1012.4,243.0 L1012.7,242.2 L1013.0,242.2 L1013.3,241.7 L1013.6,241.6 L1014.0,241.2 L1014.3,241.5 L1014.6,241.2 L1014.9,242.1 L1015.2,241.6 L1015.5,241.6 L1015.8,242.2 L1016.1,241.6 L1016.5,241.2 L1016.8,241.7 L1017.1,241.9 L1017.4,243.0 L1017.6,243.0 L1017.9,242.4 L1018.2,243.4 L1018.5,243.3 L1018.8,241.1 L1019.1,239.0 L1019.4,238.0 L1019.7,236.7 L1020.0,235.0 L1020.3,235.0 L1020.6,234.5 L1020.9,235.4 L1021.2,235.9 L1021.5,235.1 L1021.8,235.5 L1022.1,234.4 L1022.4,233.6 L1022.7,232.9 L1023.0,233.5 L1023.3,234.3 L1023.6,233.8 L1024.0,232.9 L1024.3,233.3 L1024.6,232.4 L1024.9,233.0 L1025.2,231.8 L1025.5,231.9 L1025.8,230.8 L1026.1,231.6 L1026.5,231.2 L1026.8,230.3 L1027.1,229.9 L1027.4,227.8 L1027.7,227.4 L1028.0,227.4 L1028.3,228.5 L1028.6,227.3 L1029.0,227.7 L1029.3,229.5 L1029.6,230.9 L1029.9,231.5 L1030.1,232.5 L1030.4,232.8 L1030.7,233.9 L1031.0,234.0 L1031.3,233.5 L1031.6,233.4 L1031.9,232.7 L1032.2,231.6 L1032.5,231.5 L1032.8,231.5 L1033.1,231.9 L1033.4,232.4 L1033.7,233.8 L1034.0,234.0 L1034.3,235.1 L1034.6,234.6 L1034.9,235.3 L1035.2,236.0 L1035.5,237.5 L1035.8,237.2 L1036.1,238.7 L1036.5,238.7 L1036.8,238.6 L1037.1,237.6 L1037.4,238.4 L1037.7,238.2 L1038.0,238.9 L1038.3,239.2 L1038.6,239.3 L1038.9,239.0 L1039.2,238.1 L1039.5,237.4 L1039.8,237.0 L1040.1,237.0 L1040.4,236.0 L1040.7,235.6 L1041.0,233.1 L1041.3,231.2 L1041.6,230.6 L1041.9,229.8 L1042.2,230.1 L1042.5,229.8 L1042.8,230.0 L1043.1,230.1 L1043.4,230.9 L1043.7,231.7 L1044.0,233.1 L1044.3,233.6 L1044.6,234.0 L1044.9,233.2 L1045.2,233.0 L1045.5,232.2 L1045.8,231.9 L1046.1,232.2 L1046.4,231.8 L1046.7,230.8 L1047.0,231.1 L1047.3,231.6 L1047.6,230.9 L1047.9,230.6 L1048.2,229.4 L1048.5,228.6 L1048.8,227.7 L1049.0,227.5 L1049.3,227.8 L1049.6,229.9 L1049.9,231.4 L1050.1,231.9 L1050.4,232.9 L1050.7,234.2 L1051.0,235.6 L1051.3,235.5 L1051.6,236.6 L1051.9,237.1 L1055.0,237.1 L1055.3,237.2 L1055.6,237.6 L1055.9,235.5 L1056.2,234.1 L1056.5,234.9 L1056.8,236.3 L1057.1,237.3 L1057.4,237.0 L1057.7,237.1 L1058.0,238.0 L1058.3,238.3 L1058.6,237.2 L1058.9,238.2 L1059.2,238.1 L1059.5,237.9 L1059.8,236.4 L1060.1,235.4 L1060.4,236.0 L1060.7,235.5 L1061.0,235.6 L1061.2,236.5 L1061.5,236.3 L1061.8,236.1 L1062.1,235.7 L1062.4,236.1 L1062.7,236.1 L1063.0,236.2 L1063.3,237.1 L1063.6,237.8 L1064.0,239.1 L1064.3,238.9 L1064.6,239.1 L1064.9,240.0 L1065.2,239.8 L1065.5,239.2 L1065.8,239.5 L1066.1,239.5 L1066.5,240.2 L1075.8,240.2 L1086.2,240.2 L1086.6,240.9 L1086.9,240.2 L1087.2,239.0 L1087.5,238.3 L1087.8,237.5 L1088.1,236.7 L1088.4,237.0 L1088.8,237.0 L1089.1,236.9 L1089.4,236.3 L1089.7,236.5 L1090.0,236.0 L1090.3,237.5 L1090.6,237.7 L1090.9,237.9 L1091.2,238.6 L1091.6,240.3 L1091.9,239.3 L1092.2,239.8 L1092.5,239.2 L1092.8,239.0 L1093.2,239.7 L1093.5,241.2 L1107.1,241.2 L1121.7,241.2 L1122.0,239.8 L1122.3,239.2 L1122.6,240.2 L1122.9,240.8 L1123.2,240.2 L1123.5,240.4 L1123.9,240.2 L1124.2,239.5 L1124.5,238.6 L1124.8,239.2 L1125.1,238.5 L1125.4,238.1 L1125.7,237.5 L1126.0,236.2 L1126.3,235.9 L1126.6,236.9 L1126.9,236.0 L1127.2,235.7 L1127.5,236.3 L1127.8,236.4 L1128.1,236.2 L1128.4,236.3 L1128.7,236.3 L1129.0,236.0 L1129.3,235.7 L1129.6,235.7 L1129.9,234.8 L1130.1,235.1 L1130.4,235.3 L1130.7,235.1 L1131.0,234.3 L1131.3,234.2 L1131.6,233.1 L1131.9,233.8 L1132.2,233.3 L1132.5,234.2 L1132.8,233.8 L1133.1,234.6 L1133.4,235.3 L1133.8,236.3 L1134.1,236.4 L1134.4,235.4 L1134.7,236.0 L1135.0,235.9 L1135.3,235.2 L1135.6,234.7 L1135.9,235.2 L1136.2,236.0 L1136.6,236.4 L1136.9,237.1 L1137.2,238.0 L1137.5,237.9 L1137.8,238.1 L1138.1,238.0 L1138.4,238.0 L1138.8,238.0 L1139.1,238.3 L1139.4,238.1 L1139.7,237.9 L1140.0,238.3 L1140.3,237.8 L1140.6,237.9 L1140.9,237.0 L1141.2,236.1 L1141.5,237.1 L1141.8,237.8 L1142.2,239.4 L1142.5,238.8 L1159.2,238.8 L1176.9,238.8 L1177.2,236.4 L1177.5,235.6 L1177.8,234.8 L1178.1,232.5 L1178.4,232.3 L1178.7,232.0 L1179.0,230.8 L1179.3,230.7 L1179.6,230.6 L1179.9,230.1 L1180.2,229.1 L1180.5,229.1 L1180.8,228.2 L1181.1,227.3 L1181.5,225.8 L1181.8,225.3 L1182.1,225.6 L1182.4,225.3 L1182.7,224.9 L1183.0,223.9 L1183.3,223.7 L1183.6,224.3 L1184.0,224.1 L1184.3,224.5 L1184.6,225.3 L1184.9,224.6 L1185.2,224.2 L1185.5,225.2 L1185.8,225.6 L1186.1,225.5 L1186.4,226.1 L1186.7,227.0 L1187.0,228.3 L1187.3,228.3 L1187.6,227.8 L1187.9,227.4 L1188.2,224.6 L1188.5,224.3 L1188.8,223.5 L1189.1,221.6 L1189.4,222.1 L1189.7,222.2 L1190.0,222.2 L1190.3,223.7 L1190.6,224.2 L1190.9,223.3 L1191.2,223.1 L1191.5,224.2 L1191.8,225.0 L1192.1,226.0 L1192.4,225.9 L1192.6,226.6 L1192.9,226.1 L1193.2,225.9 L1193.5,226.2 L1193.8,226.6 L1194.1,227.5 L1194.4,227.8 L1194.7,228.5 L1195.0,230.4 L1195.3,231.3 L1195.6,232.5 L1195.9,231.0 L1196.2,230.0 L1196.5,230.2 L1196.8,228.5 L1197.1,227.7 L1197.4,227.0 L1197.7,227.3 L1198.0,225.8 L1198.3,225.2 L1198.6,224.9 L1199.0,224.8 L1199.3,223.3 L1199.6,224.0 L1199.9,224.2 L1200.2,224.9 L1200.5,225.0 L1200.8,225.2 L1201.1,225.0 L1201.5,224.8 L1201.8,224.0 L1202.1,224.3 L1202.4,223.4 L1202.7,224.2 L1203.0,224.6 L1203.3,224.1 L1203.6,224.3 L1204.0,223.1 L1204.3,222.7 L1204.6,222.4 L1204.9,221.7 L1205.1,221.5 L1205.4,221.6 L1205.7,221.4 L1206.0,221.0 L1206.3,221.1 L1206.6,220.7 L1206.9,222.0 L1207.2,222.7 L1207.5,224.5 L1207.8,224.6 L1208.1,225.2 L1208.4,225.2 L1208.8,225.8 L1209.1,226.0 L1209.4,226.2 L1209.7,224.8 L1210.0,224.7 L1210.3,225.6 L1210.6,223.6 L1210.9,223.5 L1211.2,224.6 L1211.6,223.8 L1211.9,224.0 L1212.2,225.4 L1212.5,225.7 L1212.8,225.8 L1213.1,226.4 L1213.4,226.3 L1213.8,226.8 L1214.1,226.7 L1214.4,227.3 L1214.7,227.2 L1215.0,227.6 L1215.3,228.2 L1215.6,227.1 L1215.9,228.2 L1216.2,228.5 L1216.6,228.6 L1216.9,228.1 L1217.2,228.5 L1217.5,228.3 L1217.8,228.7 L1218.1,229.8 L1218.4,229.4 L1218.8,228.8 L1219.1,228.6 L1219.4,228.3 L1219.7,228.6 L1220.0,227.1 L1220.3,227.4 L1220.6,227.3 L1220.9,227.2 L1221.2,226.4 L1221.5,227.4 L1221.8,228.5 L1222.1,229.1 L1222.4,229.9 L1222.7,230.8 L1223.0,230.9 L1223.3,231.4 L1223.6,230.5 L1223.9,231.0 L1224.2,229.2 L1224.5,229.9 L1224.8,230.9 L1225.1,231.7 L1225.4,231.0 L1225.7,230.7 L1226.0,231.0 L1226.3,230.4 L1226.6,230.5 L1226.9,230.4 L1227.2,231.8 L1227.5,231.7 L1227.8,231.6 L1228.1,232.3 L1228.4,233.4 L1228.7,233.4 L1229.0,232.7 L1229.3,232.1 L1229.6,231.3 L1229.9,231.6 L1230.1,231.2 L1230.4,231.5 L1230.7,230.7 L1231.0,230.8 L1231.3,231.2 L1231.6,230.4 L1231.9,231.2 L1232.2,231.3 L1232.5,230.7 L1232.8,230.5 L1233.1,230.4 L1233.4,229.8 L1233.7,229.4 L1234.0,229.6 L1234.3,228.2 L1234.6,230.0 L1234.9,230.6 L1235.2,231.5 L1238.3,231.5 L1238.6,232.9 L1239.0,233.2 L1239.3,232.9 L1239.6,232.7 L1239.9,232.9 L1240.2,233.7 L1240.5,232.8 L1240.8,233.9 L1241.1,233.5 L1241.5,232.5 L1241.8,233.9 L1242.1,234.1 L1242.4,235.1 L1242.6,234.6 L1242.9,235.6 L1243.2,235.8 L1243.5,237.1 L1248.8,237.1 L1249.0,236.4 L1249.3,236.3 L1249.6,236.0 L1249.9,236.5 L1250.2,236.2 L1250.5,236.3 L1250.8,236.7 L1251.1,236.8 L1251.4,237.3 L1251.7,237.9 L1252.0,237.1 L1252.3,238.3 L1252.6,237.9 L1252.9,237.7 L1253.2,239.0 L1253.5,238.6 L1253.9,238.6 L1254.2,239.2 L1254.5,238.8 L1254.8,238.8 L1255.1,238.7 L1255.4,238.7 L1255.7,237.9 L1256.0,238.8 L1256.4,238.6 L1256.7,238.9 L1257.0,238.7 L1257.3,238.1 L1257.6,238.7 L1257.9,238.0 L1258.2,238.6 L1258.5,237.9 L1258.9,237.2 L1259.2,237.1 L1259.5,238.7 L1259.8,239.4 L1260.1,239.5 L1260.4,239.8 L1260.7,240.6 L1261.0,240.3 L1261.4,239.0 L1261.7,238.2 L1262.0,238.2 L1262.3,237.7 L1262.6,234.9 L1263.0,233.3 L1263.3,230.4 L1263.6,229.3 L1263.9,228.7 L1264.2,228.8 L1264.5,229.4 L1264.8,229.2 L1265.1,228.3 L1265.4,227.3 L1265.7,226.4 L1266.0,225.9 L1266.4,226.4 L1266.7,226.8 L1267.0,226.9 L1267.3,226.1 L1267.6,225.9 L1267.9,225.4 L1268.2,226.3 L1268.5,226.2 L1268.9,225.9 L1269.2,225.7 L1269.5,225.5 L1269.8,225.3 L1270.1,224.7 L1270.4,224.6 L1270.7,224.4 L1271.0,224.8 L1271.4,225.0 L1271.7,225.2 L1272.0,224.9 L1272.3,224.9 L1272.6,223.4 L1272.9,222.8 L1273.2,222.5 L1273.5,220.8 L1273.9,221.7 L1274.2,222.4 L1274.5,222.5 L1274.8,224.2 L1275.1,221.9 L1275.4,220.7 L1275.7,219.6 L1276.0,218.1 L1276.2,217.9 L1276.6,218.9 L1276.9,219.4 L1277.2,218.9 L1277.5,219.2 L1277.8,219.5 L1278.1,220.0 L1278.4,219.2 L1278.7,218.6 L1279.0,219.6 L1279.3,219.6 L1279.6,219.6 L1279.9,219.6 L1280.2,217.7 L1280.5,218.7 L1280.8,217.6 L1281.1,216.8 L1281.5,217.2 L1281.8,218.1 L1282.1,219.0 L1282.4,218.6 L1282.7,218.0 L1283.0,218.5 L1283.3,218.7 L1283.6,217.4 L1283.9,218.3 L1284.2,217.0 L1284.5,217.3 L1284.8,217.5 L1285.1,218.0 L1285.4,218.1 L1285.7,218.7 L1286.0,218.9 L1286.2,218.3 L1286.6,218.4 L1286.9,219.9 L1287.2,219.1 L1287.5,220.1 L1287.8,220.2 L1288.1,219.5 L1288.4,219.4 L1288.8,220.3 L1289.1,218.8 L1289.4,220.0 L1292.5,220.0 L1292.8,220.6 L1293.1,220.1 L1293.4,219.7 L1293.7,219.5 L1294.0,219.9 L1294.3,218.9 L1294.6,218.3 L1294.9,217.9 L1295.2,216.2 L1295.5,215.7 L1295.8,215.0 L1296.1,214.9 L1296.4,213.4 L1296.7,212.7 L1297.0,212.3 L1297.3,211.7 L1297.6,210.3 L1297.9,210.4 L1298.2,209.7 L1298.5,209.2 L1298.8,208.5 L1299.0,209.1 L1299.3,209.1 L1299.6,208.7 L1299.9,209.3 L1300.2,209.3 L1300.5,209.4 L1300.8,209.6 L1301.1,207.2 L1301.4,205.6 L1301.7,204.2 L1302.0,201.6 L1302.3,199.8 L1302.6,198.2 L1302.9,197.1 L1303.2,196.6 L1303.5,196.4 L1303.8,196.6 L1304.1,195.5 L1304.4,194.8 L1304.7,194.3 L1305.0,194.6 L1305.3,195.4 L1305.6,195.4 L1305.9,195.2 L1306.2,194.8 L1306.6,194.8 L1306.9,195.8 L1307.2,195.7 L1307.5,195.2 L1307.8,196.2 L1308.1,196.0 L1308.4,195.9 L1308.8,195.4 L1309.1,196.2 L1309.4,196.0 L1309.7,194.8 L1310.0,193.3 L1310.3,193.5 L1310.6,193.2 L1310.9,193.6 L1311.2,194.0 L1311.6,194.7 L1311.9,195.4 L1312.2,194.3 L1312.5,193.8 L1312.8,192.9 L1313.1,193.2 L1313.4,191.8 L1313.8,192.0 L1314.1,190.4 L1314.4,190.8 L1314.7,192.6 L1315.0,192.5 L1315.3,193.5 L1315.6,194.1 L1315.9,193.9 L1316.2,195.6 L1316.5,196.0 L1316.8,196.6 L1317.1,196.7 L1317.4,197.8 L1317.7,197.3 L1318.0,197.7 L1318.3,197.6 L1318.6,197.2 L1319.0,197.7 L1319.3,197.6 L1319.6,197.1 L1319.9,197.7 L1320.2,197.2 L1320.5,198.4 L1320.8,200.1 L1321.1,199.5 L1321.4,200.0 L1321.7,200.2 L1325.8,200.2 L1330.0,200.2 L1330.3,199.4 L1330.6,199.6 L1330.9,200.5 L1331.2,200.3 L1331.6,199.8 L1331.9,200.6 L1332.2,200.0 L1332.5,199.2 L1332.8,198.4 L1333.1,198.8 L1333.4,198.3 L1333.8,198.0 L1334.1,197.1 L1334.4,196.9 L1334.7,196.4 L1335.0,197.2 L1335.3,196.7 L1335.6,195.6 L1335.9,196.3 L1336.2,196.0 L1340.4,196.0 L1340.7,196.0 L1341.0,196.3 L1341.3,196.3 L1341.6,194.8 L1341.9,194.7 L1342.2,195.6 L1342.5,196.2 L1342.8,195.6 L1343.1,195.4 L1343.4,195.7 L1343.7,197.1 L1344.0,197.4 L1344.3,197.5 L1344.6,197.1 L1344.9,197.3 L1345.2,197.5 L1345.5,198.0 L1345.8,197.9 L1346.1,198.1 L1346.4,197.8 L1346.7,199.2 L1350.8,199.2 L1356.0,199.2 L1356.4,200.1 L1356.7,200.4 L1357.0,200.7 L1357.3,201.7 L1357.6,202.2 L1357.9,202.3 L1358.2,200.9 L1358.5,200.0 L1358.9,200.9 L1359.2,201.2 L1359.5,201.1 L1359.8,200.2 L1360.1,201.0 L1360.4,200.6 L1360.7,201.0 L1361.0,201.3 L1361.2,201.3 L1361.5,200.9 L1361.8,201.5 L1362.1,200.9 L1362.4,200.8 L1362.7,201.1 L1363.0,202.2 L1363.3,202.3 L1363.6,202.3 L1363.9,202.5 L1364.2,200.7 L1364.5,199.9 L1364.8,199.5 L1365.1,198.9 L1365.4,199.3 L1365.7,198.8 L1366.0,199.1 L1366.3,199.6 L1366.6,199.3 L1366.9,199.4 L1367.2,200.3 L1367.5,200.8 L1367.8,200.8 L1368.1,199.5 L1368.4,199.0 L1368.8,198.9 L1369.1,199.0 L1369.4,199.1 L1369.7,199.0 L1370.0,198.2 L1370.3,198.6 L1370.6,199.2 L1370.9,199.0 L1371.2,198.8 L1371.5,199.2 L1371.8,198.8 L1372.1,198.9 L1372.4,199.4 L1372.7,198.8 L1373.0,198.6 L1373.3,197.9 L1373.7,196.9 L1374.0,195.4 L1374.3,195.5 L1374.6,197.1 L1374.9,196.7 L1375.3,197.0 L1375.6,196.9 L1375.9,195.9 L1376.2,195.7 L1376.5,194.6 L1376.9,194.0 L1377.2,195.3 L1377.5,195.9 L1377.8,196.6 L1378.1,197.9 L1378.4,196.1 L1378.7,193.5 L1379.0,191.3 L1379.3,189.0 L1379.6,187.0 L1379.9,186.1 L1380.1,184.2 L1380.4,184.3 L1380.7,184.8 L1381.0,185.3 L1381.3,183.7 L1381.6,183.0 L1381.9,182.6 L1382.1,181.8 L1382.4,180.7 L1382.7,179.7 L1383.0,178.8 L1383.3,179.4 L1383.6,179.8 L1383.9,180.1 L1384.2,179.7 L1384.5,179.8 L1384.8,179.8 L1385.1,180.5 L1385.4,179.8 L1385.7,179.7 L1386.0,179.0 L1386.3,177.8 L1386.6,178.3 L1387.0,178.2 L1387.3,178.2 L1387.6,179.1 L1387.9,179.8 L1388.2,179.5 L1388.5,179.4 L1388.8,178.8 L1389.1,178.4 L1389.4,177.0 L1389.7,176.8 L1390.0,176.2 L1390.3,176.2 L1390.6,176.7 L1391.0,175.4 L1391.3,175.9 L1391.6,176.1 L1391.9,177.3 L1392.2,177.5 L1392.6,179.0 L1392.9,179.9 L1393.2,180.7 L1393.5,181.4 L1393.8,180.9 L1394.2,180.2 L1394.4,179.5 L1394.7,179.9 L1395.0,179.0 L1395.3,178.7 L1395.5,180.0 L1395.8,181.0 L1396.1,179.8 L1396.4,180.9 L1396.7,179.7 L1397.1,178.4 L1397.4,179.0 L1397.7,179.6 L1398.0,178.9 L1398.4,178.7 L1398.7,178.1 L1399.0,179.0 L1399.3,178.6 L1399.6,179.2 L1399.9,178.7 L1400.2,178.3 L1400.5,178.8 L1400.8,179.2 L1401.1,178.8 L1401.4,177.7 L1401.7,177.9 L1402.1,178.6 L1402.4,178.8 L1402.7,177.5 L1403.0,177.3 L1403.3,177.1 L1403.7,177.9 L1404.0,177.5 L1404.3,177.5 L1404.6,178.8 L1404.9,178.2 L1405.3,177.9 L1405.6,177.5 L1405.9,178.5 L1406.2,178.2 L1406.5,178.9 L1406.8,178.6 L1407.1,179.9 L1407.3,180.5 L1407.6,180.3 L1407.9,181.1 L1408.2,181.5 L1408.5,181.0 L1408.7,179.8 L1409.0,180.7 L1409.3,180.2 L1409.6,179.4 L1409.9,179.0 L1410.1,178.5 L1410.4,178.0 L1410.7,179.2 L1411.0,178.5 L1411.3,179.6 L1411.5,182.9 L1411.8,186.6 L1412.1,187.4 L1412.4,186.4 L1412.7,186.5 L1413.0,186.7 L1432.0,186.7 L1432.3,186.9 L1432.6,187.5 L1432.9,187.4 L1433.1,187.2 L1433.4,184.5 L1433.7,181.8 L1434.0,180.5 L1434.3,180.8 L1434.6,180.0 L1434.8,181.6 L1435.1,182.2 L1435.4,181.5 L1435.7,182.4 L1436.0,181.3 L1436.4,181.3 L1436.7,180.0 L1437.0,179.3 L1437.3,179.0 L1437.6,177.6 L1437.9,177.5 L1438.2,177.8 L1438.5,178.4 L1438.8,178.6 L1439.0,178.4 L1439.3,178.5 L1439.6,178.6 L1439.9,178.8 L1440.2,180.4 L1440.4,180.3 L1440.7,180.6 L1441.0,181.8 L1441.3,181.7 L1441.6,180.8 L1442.0,180.3 L1442.3,179.7 L1442.6,178.8 L1442.9,178.3 L1443.2,178.7 L1443.6,178.7 L1443.9,179.1 L1444.2,179.0 L1444.5,179.1 L1444.8,179.9 L1445.2,180.5 L1445.5,180.7 L1445.8,180.8 L1446.1,181.9 L1446.3,181.9 L1446.6,181.2 L1446.9,182.0 L1447.2,182.7 L1447.5,183.0 L1447.7,181.7 L1448.0,181.7 L1448.3,181.7 L1448.6,181.1 L1448.9,180.1 L1449.1,180.5 L1449.4,181.6 L1449.7,181.0 L1450.0,181.4 L1450.3,179.8 L1450.5,179.3 L1450.8,179.4 L1451.1,179.1 L1451.4,177.9 L1451.7,178.1 L1451.9,178.3 L1452.2,178.5 L1452.5,177.0 L1452.8,175.7 L1453.1,174.4 L1453.3,173.4 L1453.7,173.5 L1454.0,173.4 L1454.3,173.9 L1454.6,174.7 L1454.9,174.8 L1455.3,175.7 L1455.6,174.5 L1455.9,176.3 L1456.2,175.6 L1456.6,175.3 L1456.9,175.5 L1457.2,176.2 L1457.5,176.3 L1457.8,175.1 L1458.1,175.5 L1458.5,175.3 L1458.8,176.6 L1459.1,177.0 L1459.4,175.9 L1459.7,176.1 L1460.0,176.9 L1460.4,176.8 L1460.7,176.9 L1461.0,175.6 L1461.3,175.2 L1461.6,175.7 L1462.0,175.5 L1462.3,174.7 L1462.6,174.0 L1462.9,174.9 L1463.2,175.6 L1463.5,176.1 L1463.9,176.8 L1464.2,177.0 L1464.5,177.3 L1464.8,177.4 L1465.1,177.3 L1465.4,177.9 L1465.7,177.0 L1466.1,178.3 L1466.4,178.6 L1466.7,178.1 L1467.0,178.9 L1467.3,179.8 L1467.6,179.8 L1467.9,178.7 L1468.3,179.0 L1468.6,179.2 L1468.9,178.9 L1469.2,178.1 L1469.5,177.6 L1469.9,177.9 L1470.2,177.9 L1470.5,178.1 L1470.8,176.8 L1471.1,176.9 L1471.4,175.9 L1471.7,175.7 L1472.0,175.5 L1472.4,176.0 L1472.7,176.0 L1473.0,175.4 L1473.3,175.7 L1473.6,175.0 L1473.9,175.2 L1474.2,175.9 L1474.5,176.3 L1474.8,176.2 L1475.1,176.6 L1475.5,177.1 L1475.8,177.6 L1476.1,177.2 L1476.4,178.0 L1476.7,178.2 L1477.0,177.6 L1477.3,176.2 L1477.6,175.7 L1478.0,175.4 L1478.3,173.9 L1478.6,172.0 L1478.9,171.9 L1479.2,172.5 L1479.6,173.5 L1479.9,173.7 L1480.2,173.6 L1480.5,175.8 L1480.8,177.3 L1481.2,178.0 L1481.5,179.0 L1481.8,180.8 L1482.1,180.4 L1482.4,180.1 L1482.7,179.4 L1483.0,179.5 L1483.3,180.2 L1483.6,180.8 L1483.9,180.3 L1484.2,179.2 L1484.5,180.4 L1484.8,181.0 L1485.1,180.1 L1485.4,181.2 L1485.7,181.0 L1486.0,180.7 L1486.3,180.9 L1486.6,180.0 L1486.9,179.1 L1487.2,180.0 L1487.5,179.7 L1487.8,179.9 L1488.1,180.7 L1488.4,180.8 L1488.7,180.6 L1489.0,180.8 L1489.3,181.8 L1489.6,181.9 L1489.9,181.4 L1490.2,182.5 L1490.5,183.3 L1490.8,182.3 L1491.1,182.3 L1491.3,183.7 L1491.6,182.5 L1491.9,181.4 L1492.2,181.6 L1492.5,181.0 L1492.8,179.6 L1493.1,180.3 L1493.4,179.9 L1493.7,179.9 L1494.0,180.5 L1494.3,180.4 L1494.6,179.5 L1494.8,180.7 L1495.1,181.1 L1495.4,180.8 L1495.7,180.7 L1496.0,179.9 L1496.3,180.6 L1496.6,179.8 L1496.9,181.2 L1497.2,180.1 L1497.5,180.8 L1497.8,180.2 L1498.1,179.6 L1498.3,180.3 L1498.6,180.5 L1498.9,181.3 L1499.2,180.9 L1499.5,181.1 L1499.8,181.2 L1500.1,181.7 L1500.4,182.6 L1500.7,182.8 L1501.0,182.4 L1501.3,182.5 L1501.6,181.3 L1501.9,180.8 L1502.2,181.7 L1502.5,181.3 L1502.8,181.9 L1503.1,181.6 L1503.4,180.9 L1503.7,181.0 L1504.0,181.3 L1504.2,181.2 L1506.7,181.2 L1506.9,181.1 L1507.2,182.1 L1507.5,181.9 L1507.8,181.9 L1508.1,181.1 L1508.4,181.5 L1508.7,180.8 L1509.0,180.7 L1509.3,180.1 L1509.6,180.4 L1509.9,180.5 L1510.2,181.2 L1510.5,181.1 L1510.8,181.4 L1511.1,182.6 L1511.4,181.9 L1511.7,181.2 L1512.0,181.6 L1512.3,181.6 L1515.5,181.6 L1515.8,182.0 L1516.1,180.6 L1516.4,180.7 L1516.7,181.6 L1517.0,182.2 L1517.3,182.5 L1517.6,182.7 L1517.9,182.4 L1518.2,182.2 L1518.5,182.3 L1518.8,181.0 L1519.1,181.9 L1519.5,181.1 L1519.8,182.0 L1520.1,182.6" stroke="#d62728" stroke-width="2.45"/>
<path d="M155.3,571.1 L155.6,571.8 L155.9,569.8 L156.2,568.7 L156.5,567.4 L156.8,566.8 L157.1,564.1 L157.4,562.3 L157.7,560.2 L158.0,557.8 L158.3,555.6 L158.6,553.7 L158.9,552.1 L159.2,549.8 L159.5,548.8 L159.8,546.9 L160.1,545.8 L160.5,548.6 L160.8,550.0 L161.1,548.4 L161.4,547.8 L161.7,547.1 L162.0,546.3 L162.3,544.6 L162.6,543.9 L162.9,541.7 L163.2,541.2 L163.5,538.3 L163.9,536.4 L164.2,534.7 L164.5,533.1 L164.8,531.1 L165.1,529.8 L165.4,524.8 L165.7,522.8 L166.0,520.8 L166.3,516.7 L166.6,514.4 L166.9,509.7 L167.2,505.9 L167.5,500.4 L167.8,496.9 L168.1,491.7 L168.4,486.8 L168.7,485.5 L169.0,482.6 L169.3,479.2 L169.6,475.9 L169.9,471.1 L170.2,466.7 L170.5,466.2 L170.8,463.5 L171.1,462.9 L171.4,460.5 L171.7,459.8 L172.0,458.0 L172.3,458.8 L172.6,462.0 L173.0,463.9 L173.3,464.6 L173.6,465.0 L173.9,466.1 L174.2,466.3 L174.4,467.7 L174.7,469.7 L175.0,470.8 L175.3,475.3 L175.6,480.9 L175.9,485.6 L176.2,491.2 L176.5,495.8 L176.8,494.4 L177.0,491.3 L177.3,487.5 L177.6,484.7 L177.9,481.2 L178.2,480.3 L178.5,480.0 L178.8,480.6 L179.1,478.5 L179.4,478.3 L179.7,478.0 L180.0,477.8 L180.3,478.4 L180.6,477.1 L180.9,476.5 L181.2,475.1 L181.5,474.1 L181.8,472.7 L182.1,471.2 L182.4,469.5 L182.7,468.8 L183.1,471.2 L183.4,472.7 L183.8,474.0 L184.0,473.8 L184.3,472.7 L184.6,472.6 L184.9,473.8 L185.2,472.0 L185.5,472.0 L185.8,472.3 L186.1,471.9 L186.4,472.0 L186.7,472.6 L187.0,473.9 L187.3,474.5 L187.6,475.3 L187.9,475.0 L188.2,475.5 L188.5,475.3 L188.9,475.3 L189.2,474.6 L189.5,474.9 L189.8,476.0 L190.1,475.5 L190.4,475.5 L190.7,475.8 L191.0,475.5 L191.4,476.1 L191.7,476.0 L192.0,476.0 L192.3,476.0 L192.6,477.7 L192.9,479.3 L193.2,481.3 L193.5,482.6 L193.9,483.8 L194.2,483.3 L194.5,485.9 L194.8,486.3 L195.1,488.5 L195.4,488.7 L195.7,489.4 L196.0,490.8 L196.2,491.7 L196.5,491.5 L196.8,492.9 L197.1,494.0 L197.4,494.8 L197.6,495.0 L197.9,494.8 L198.2,493.4 L198.5,491.9 L198.9,490.9 L199.2,490.6 L199.5,489.5 L199.8,487.8 L200.1,486.3 L200.4,486.5 L200.7,486.6 L201.0,486.8 L201.4,487.1 L201.7,487.6 L202.0,487.8 L202.3,488.8 L202.6,489.6 L202.9,487.0 L203.2,486.9 L203.5,489.6 L203.9,489.1 L204.2,490.0 L204.5,491.6 L204.8,492.4 L205.1,494.3 L205.4,493.8 L205.7,493.4 L206.0,494.0 L206.4,494.0 L206.7,493.8 L207.0,496.1 L207.3,498.1 L207.6,499.9 L207.9,501.4 L208.2,503.4 L208.5,505.1 L208.8,506.2 L209.1,508.0 L209.4,509.6 L209.7,511.0 L210.0,512.9 L210.3,513.2 L210.6,514.4 L210.9,515.2 L211.2,517.7 L211.5,514.6 L211.8,512.9 L212.1,510.7 L212.4,506.7 L212.6,502.1 L212.9,499.0 L213.2,499.7 L213.5,500.6 L213.8,500.7 L214.1,502.3 L214.4,503.5 L214.7,504.9 L215.0,506.2 L215.3,505.8 L215.6,504.1 L215.9,504.2 L216.2,503.9 L216.6,503.8 L216.9,505.0 L217.2,505.2 L217.5,506.9 L217.8,507.4 L218.1,508.3 L218.4,508.4 L218.7,508.7 L219.0,507.2 L219.3,507.7 L219.6,507.4 L219.9,506.1 L220.2,506.3 L220.5,506.2 L220.8,507.0 L221.1,507.2 L221.4,507.1 L221.7,505.3 L222.0,506.4 L222.3,507.3 L222.6,506.1 L222.9,504.6 L223.2,503.8 L223.5,501.1 L223.9,499.9 L224.2,498.0 L224.5,495.2 L224.8,493.6 L225.1,492.0 L225.4,491.7 L225.7,492.2 L226.0,490.4 L226.3,488.2 L226.6,487.8 L226.9,487.2 L227.2,486.0 L227.5,484.4 L227.8,485.2 L228.1,485.1 L228.4,485.4 L228.7,487.1 L229.0,488.3 L229.3,488.6 L229.6,488.5 L229.9,488.8 L230.2,490.8 L230.5,490.8 L230.8,492.7 L231.1,492.5 L231.4,492.7 L231.7,493.8 L232.0,492.5 L232.3,492.0 L232.6,490.2 L232.9,490.2 L233.2,490.7 L233.5,489.5 L233.8,489.1 L234.0,488.2 L234.3,485.7 L234.6,487.6 L234.9,487.5 L235.2,487.7 L235.5,487.5 L235.8,487.1 L236.1,489.7 L236.5,488.5 L236.8,488.7 L237.1,488.8 L237.4,489.1 L237.7,490.2 L238.0,490.0 L238.3,489.3 L238.6,488.7 L239.0,489.6 L239.3,490.2 L239.6,490.8 L239.9,492.0 L240.1,491.3 L240.4,492.0 L240.7,492.5 L241.0,492.1 L241.3,491.2 L241.6,491.8 L241.9,491.0 L242.2,490.6 L242.5,489.5 L242.8,490.9 L243.1,490.6 L243.4,490.8 L243.8,491.1 L244.1,491.5 L244.4,492.2 L244.7,491.2 L245.0,490.8 L245.3,491.8 L245.6,493.4 L245.9,493.1 L246.2,493.8 L246.5,493.8 L246.8,492.4 L247.1,492.7 L247.4,492.4 L247.7,493.8 L248.0,494.2 L248.3,494.8 L248.6,494.9 L248.9,496.5 L249.2,496.2 L249.5,497.9 L249.8,500.5 L250.1,500.9 L250.4,503.1 L250.7,504.1 L251.0,503.6 L251.4,504.3 L251.7,504.0 L252.0,503.3 L252.3,501.2 L252.6,499.9 L252.9,498.2 L253.2,500.1 L253.5,500.0 L253.9,500.2 L254.2,499.3 L254.5,501.2 L254.8,500.5 L255.1,502.2 L255.4,503.5 L255.7,503.9 L256.0,503.7 L256.4,504.0 L256.7,503.1 L257.0,503.7 L257.3,505.3 L257.6,506.1 L257.9,507.0 L258.2,506.4 L258.5,506.7 L258.9,505.8 L259.2,505.4 L259.5,506.1 L259.8,508.3 L260.1,509.5 L260.4,510.6 L260.7,509.9 L261.0,511.2 L261.4,511.4 L261.7,511.2 L262.0,511.0 L262.3,512.2 L262.6,512.9 L262.9,514.6 L263.2,515.0 L263.5,515.6 L263.8,517.5 L264.1,518.9 L264.4,520.2 L264.7,522.1 L265.0,522.9 L265.3,520.9 L265.6,519.2 L265.9,516.7 L266.2,515.9 L266.5,514.5 L266.8,513.9 L267.1,513.5 L267.4,513.2 L267.7,513.8 L268.0,515.3 L268.3,515.8 L268.6,517.0 L269.0,517.2 L269.3,516.8 L269.6,516.9 L269.9,515.6 L270.2,516.7 L270.5,517.0 L270.8,519.0 L271.1,518.7 L271.5,519.6 L271.8,520.7 L272.1,521.3 L272.4,522.4 L272.7,522.5 L273.0,522.4 L273.3,521.9 L273.6,520.6 L274.0,519.0 L274.3,518.4 L274.6,517.3 L274.9,515.9 L275.2,514.4 L275.5,511.9 L275.8,510.8 L276.1,510.3 L276.5,508.3 L276.8,508.6 L277.1,509.6 L277.4,509.5 L277.6,510.1 L277.9,510.2 L278.2,512.9 L278.5,514.6 L278.9,515.5 L279.2,514.6 L279.5,515.0 L279.8,514.7 L280.1,514.8 L280.4,514.1 L280.7,514.0 L281.0,513.1 L281.4,513.2 L281.7,514.6 L282.0,513.7 L282.3,512.9 L282.6,513.8 L282.9,514.9 L283.2,514.9 L283.5,515.9 L283.8,516.7 L284.1,517.7 L284.4,519.4 L284.7,519.3 L285.0,520.4 L285.3,521.1 L285.6,521.0 L285.9,521.9 L286.2,521.3 L286.6,520.4 L286.9,521.9 L287.2,521.4 L287.5,523.5 L287.8,525.0 L288.1,525.1 L288.4,524.9 L288.8,523.4 L289.1,523.9 L289.4,522.9 L289.7,524.9 L290.0,524.0 L290.3,524.9 L290.6,523.2 L290.9,523.7 L291.2,525.8 L291.6,526.2 L291.9,526.3 L292.2,526.7 L292.5,527.9 L292.8,529.6 L293.1,530.2 L293.4,531.3 L293.7,534.5 L294.0,538.4 L294.3,543.4 L294.6,546.5 L294.9,549.6 L295.2,552.1 L295.6,547.4 L295.9,543.7 L296.2,537.5 L296.6,536.8 L296.9,535.0 L297.2,533.6 L297.5,532.7 L297.8,532.3 L298.1,530.8 L298.4,529.7 L298.8,530.2 L299.0,532.0 L299.3,534.1 L299.6,535.8 L299.9,537.0 L300.1,538.8 L300.4,540.6 L300.7,540.2 L301.0,540.7 L301.4,540.2 L301.7,540.6 L302.0,540.2 L302.3,540.4 L302.6,539.3 L302.9,538.4 L303.2,536.8 L303.5,537.5 L303.9,538.1 L304.2,538.4 L304.5,539.1 L304.8,538.5 L305.1,538.7 L305.4,538.4 L305.7,536.8 L306.0,536.7 L306.4,536.1 L306.7,537.5 L307.0,536.2 L307.3,535.0 L307.6,535.3 L307.9,534.7 L308.2,532.8 L308.5,532.4 L308.9,531.1 L309.2,532.1 L309.5,530.5 L309.8,529.2 L310.1,526.7 L310.4,526.1 L310.7,527.9 L311.0,527.8 L311.3,527.0 L311.6,527.3 L311.9,527.1 L312.2,527.1 L312.5,529.5 L312.8,531.4 L313.1,532.9 L313.4,534.5 L313.8,533.8 L314.1,532.0 L314.4,532.8 L314.7,533.2 L315.0,533.3 L315.3,533.0 L315.6,533.4 L315.9,533.7 L316.2,533.7 L316.5,533.9 L316.8,533.5 L317.1,532.9 L317.4,534.0 L317.7,533.5 L318.0,535.1 L318.3,535.5 L318.6,535.3 L318.9,536.1 L319.2,535.4 L319.5,535.6 L319.8,535.6 L320.1,535.9 L320.4,536.8 L320.7,539.1 L321.0,539.9 L321.2,539.2 L321.5,538.8 L321.8,537.4 L322.1,538.4 L322.4,539.6 L322.7,540.2 L323.0,540.9 L323.3,541.7 L323.6,541.8 L323.9,542.1 L324.2,542.0 L324.5,540.9 L324.8,541.5 L325.1,542.4 L325.4,540.6 L325.7,540.2 L326.0,538.8 L326.3,539.0 L326.6,538.5 L326.9,539.5 L327.2,540.3 L327.5,539.6 L327.8,539.4 L328.1,539.1 L328.4,539.9 L328.7,539.3 L329.0,540.0 L329.3,538.9 L329.6,540.2 L329.9,540.9 L330.2,540.0 L330.5,539.6 L330.8,540.0 L331.1,540.5 L331.4,538.1 L331.7,538.5 L332.0,540.2 L332.3,540.1 L332.6,539.1 L332.9,540.5 L333.2,541.0 L333.5,541.5 L333.8,542.4 L334.1,541.5 L334.4,541.2 L334.7,540.4 L335.0,539.6 L335.3,539.6 L335.6,538.9 L336.0,540.7 L336.3,541.5 L336.6,542.5 L336.9,541.2 L337.2,540.4 L337.5,539.5 L337.8,539.0 L338.1,538.7 L338.4,537.3 L338.7,535.8 L339.0,536.0 L339.3,537.4 L339.6,538.6 L339.9,537.7 L340.1,536.3 L340.4,535.8 L340.7,535.5 L341.0,536.5 L341.3,536.3 L341.6,535.6 L341.9,536.6 L342.2,535.9 L342.5,535.1 L342.8,535.7 L343.1,535.5 L343.4,534.5 L343.7,534.3 L344.0,533.9 L344.3,533.8 L344.6,533.1 L344.9,533.6 L345.2,533.3 L345.5,532.4 L345.8,532.9 L346.1,531.6 L346.4,531.9 L346.7,532.0 L347.0,531.3 L347.3,531.1 L347.6,529.3 L347.9,529.2 L348.2,527.8 L348.5,526.6 L348.8,526.4 L349.1,525.3 L349.4,525.0 L349.7,525.6 L350.0,526.7 L350.3,527.3 L350.6,528.4 L350.9,528.0 L351.2,527.8 L351.6,528.6 L351.9,529.9 L352.2,530.5 L352.5,530.2 L352.8,529.0 L353.1,528.0 L353.4,528.8 L353.7,527.7 L354.0,527.3 L354.3,527.7 L354.6,527.9 L354.9,527.0 L355.2,528.7 L355.5,528.6 L355.8,528.7 L356.1,529.2 L356.4,528.7 L356.7,529.2 L357.0,529.5 L357.3,529.1 L357.6,528.7 L357.9,529.5 L358.2,530.1 L358.5,530.4 L358.9,530.5 L359.2,530.7 L359.5,531.9 L359.8,533.3 L360.1,536.7 L360.4,540.5 L360.7,542.4 L361.0,545.0 L361.2,547.9 L361.6,545.9 L361.9,545.4 L362.2,542.3 L362.5,541.5 L362.8,541.0 L363.1,541.8 L363.4,540.2 L363.7,539.4 L364.0,539.6 L364.3,540.0 L364.6,538.8 L364.9,538.1 L365.1,536.6 L365.4,536.3 L365.7,536.5 L366.0,537.4 L366.3,537.5 L366.6,537.9 L366.9,538.5 L367.2,537.3 L367.5,537.6 L367.8,538.1 L368.1,537.5 L368.4,536.9 L368.7,537.2 L369.0,537.6 L369.4,538.5 L369.7,537.1 L370.0,537.0 L370.3,539.0 L370.6,540.4 L370.9,540.5 L371.2,540.5 L371.5,540.5 L371.8,539.8 L372.1,539.6 L372.4,539.8 L372.7,539.0 L373.0,539.1 L373.3,539.6 L373.6,538.3 L373.9,537.8 L374.3,536.2 L374.6,536.1 L374.9,536.2 L375.2,535.6 L375.5,535.6 L375.8,535.9 L376.1,536.4 L376.4,535.1 L376.7,534.7 L377.0,533.3 L377.3,531.4 L377.6,532.2 L377.9,532.8 L378.2,533.8 L378.5,534.4 L378.9,533.0 L379.2,532.4 L379.5,531.0 L379.8,531.4 L380.1,528.3 L380.4,527.8 L380.7,526.5 L381.0,526.2 L381.4,526.4 L381.7,525.0 L382.0,524.2 L382.3,523.1 L382.6,519.6 L382.9,519.1 L383.2,516.0 L383.5,512.7 L383.8,511.5 L384.1,511.6 L384.4,512.7 L384.7,513.5 L385.0,513.4 L385.3,515.7 L385.6,517.8 L385.9,518.8 L386.2,521.0 L386.6,521.8 L386.9,522.9 L387.2,522.5 L387.5,521.1 L387.8,520.7 L388.1,519.7 L388.4,519.9 L388.8,519.9 L389.1,519.2 L389.4,520.2 L389.7,520.4 L390.0,521.9 L390.0,522.9 L390.3,521.4 L390.6,519.6 L390.9,518.7 L391.2,517.4 L391.6,516.3 L391.9,516.8 L392.2,516.3 L392.5,514.6 L392.8,513.9 L393.1,512.5 L393.1,513.5 L393.4,512.5 L393.8,511.7 L394.1,511.4 L394.4,511.5 L394.7,510.7 L395.0,509.1 L395.3,508.2 L395.6,507.2 L395.9,506.1 L396.2,504.2 L396.6,504.2 L396.9,502.8 L397.2,504.1 L397.5,505.0 L397.8,505.9 L398.1,505.2 L398.4,505.7 L398.8,507.0 L399.1,507.0 L399.4,506.2 L399.7,506.1 L400.0,504.1 L400.3,504.9 L400.6,505.3 L400.9,504.1 L401.2,504.7 L401.6,505.8 L401.9,506.3 L402.2,506.9 L402.5,508.3 L402.8,508.1 L403.1,509.0 L403.3,508.3 L403.6,507.3 L403.9,506.6 L404.2,505.2 L404.5,506.0 L404.8,505.9 L405.1,506.7 L405.4,507.5 L405.7,509.4 L406.0,511.5 L406.2,511.5 L406.6,511.6 L406.9,511.7 L407.2,511.4 L407.5,513.3 L407.8,514.7 L408.1,514.8 L408.4,513.8 L408.8,513.5 L409.1,514.1 L409.4,516.0 L409.7,515.4 L410.0,517.2 L410.3,516.4 L410.6,517.2 L410.9,516.7 L411.2,516.8 L411.6,515.2 L411.9,516.2 L412.2,516.4 L412.5,515.7 L412.8,513.9 L413.1,514.0 L413.4,514.1 L413.7,513.0 L414.0,513.5 L414.3,513.3 L414.6,512.2 L414.9,511.4 L415.2,509.0 L415.5,509.6 L415.8,510.3 L416.1,510.1 L416.5,508.8 L416.8,507.7 L417.1,507.3 L417.4,506.5 L417.7,506.8 L418.0,506.0 L418.3,506.8 L418.6,507.9 L418.9,507.4 L419.2,506.7 L419.5,505.1 L419.8,506.2 L420.1,507.6 L420.4,507.8 L420.7,509.9 L421.0,510.4 L421.2,510.4 L421.6,511.3 L421.9,511.8 L422.2,510.0 L422.5,509.5 L422.8,508.4 L423.1,508.3 L423.4,508.6 L423.8,508.2 L424.1,508.5 L424.4,509.4 L424.7,509.0 L425.0,507.7 L425.3,506.7 L425.6,507.3 L425.9,508.8 L426.2,508.5 L426.5,508.7 L426.8,507.9 L427.1,507.2 L427.4,508.0 L427.6,507.4 L427.9,507.4 L428.2,507.4 L428.5,508.3 L428.8,508.6 L429.2,508.6 L429.5,508.4 L429.8,508.0 L430.1,509.0 L430.4,511.0 L430.7,509.6 L431.0,510.6 L431.3,509.8 L431.6,509.3 L431.9,509.1 L432.2,508.7 L432.5,508.5 L432.8,508.0 L433.1,509.7 L433.4,508.4 L433.8,507.9 L434.1,506.6 L434.4,506.2 L434.7,504.4 L435.0,503.7 L435.3,503.2 L435.6,504.4 L435.9,504.3 L436.2,503.7 L436.6,503.1 L436.9,504.2 L437.2,504.4 L437.5,504.2 L437.8,504.0 L438.1,504.0 L438.4,505.1 L438.8,504.6 L439.1,504.4 L439.4,504.8 L439.7,504.3 L440.0,505.2 L440.3,504.8 L440.6,505.3 L440.9,505.7 L441.2,507.0 L441.6,508.5 L441.9,507.7 L442.2,506.5 L442.5,505.5 L442.8,505.9 L443.1,506.3 L443.4,506.3 L443.8,506.2 L444.0,507.5 L444.3,508.2 L444.6,508.3 L444.9,508.7 L445.2,507.3 L445.5,506.5 L445.8,506.5 L446.1,504.8 L446.4,502.6 L446.7,501.9 L447.0,499.7 L447.3,497.9 L447.6,497.8 L447.9,497.0 L448.2,497.0 L448.5,494.6 L448.9,491.8 L449.2,491.8 L449.5,491.6 L449.8,491.2 L450.1,490.2 L450.4,489.6 L450.7,488.2 L451.0,485.3 L451.3,483.7 L451.6,481.2 L451.9,481.2 L452.2,479.7 L452.5,478.1 L452.8,479.9 L453.1,481.7 L453.4,483.4 L453.7,483.7 L454.0,484.7 L454.3,486.4 L454.6,487.5 L454.9,487.4 L455.2,486.7 L455.5,486.6 L455.8,487.6 L456.1,486.3 L456.5,484.9 L456.8,483.6 L457.1,482.0 L457.4,482.9 L457.7,484.4 L458.0,484.8 L458.3,484.9 L458.6,486.1 L459.0,487.0 L459.3,484.9 L459.6,484.9 L459.9,487.0 L460.2,486.6 L460.5,486.0 L460.8,485.4 L461.1,487.0 L461.5,486.8 L461.8,487.3 L462.1,488.5 L462.4,488.9 L462.7,489.1 L463.0,488.3 L463.3,487.4 L463.6,488.5 L464.0,487.5 L464.3,488.2 L464.6,489.1 L464.9,490.2 L465.2,489.8 L465.5,488.8 L465.8,488.6 L466.1,489.5 L466.5,489.8 L466.8,489.9 L467.1,489.6 L467.4,491.0 L467.7,489.8 L468.0,489.3 L468.3,491.2 L468.6,492.2 L469.0,493.4 L469.3,492.3 L469.6,492.1 L469.9,492.2 L470.2,492.7 L470.5,493.8 L470.8,493.3 L471.1,493.4 L471.5,492.8 L471.8,492.6 L472.1,492.9 L472.4,493.3 L472.7,494.2 L473.0,493.1 L473.3,493.8 L473.6,493.6 L473.9,492.4 L474.2,493.0 L474.5,491.9 L474.8,491.0 L475.1,490.9 L475.4,491.7 L475.7,490.8 L476.0,491.5 L476.3,491.3 L476.6,490.1 L476.9,490.2 L477.2,489.7 L477.5,488.5 L477.8,488.6 L478.1,489.9 L478.4,490.4 L478.8,490.3 L479.1,491.2 L479.4,490.2 L479.7,490.9 L480.0,492.3 L480.3,491.4 L480.6,490.6 L480.9,489.9 L481.2,489.8 L481.5,489.2 L481.8,489.3 L482.1,488.5 L482.4,488.8 L482.7,489.4 L483.0,489.8 L483.3,489.4 L483.6,490.2 L483.9,488.9 L484.2,488.4 L484.5,488.4 L484.8,489.6 L485.1,488.8 L485.4,488.9 L485.7,489.9 L486.0,491.2 L486.3,492.2 L486.6,491.1 L486.9,490.9 L487.2,490.9 L487.5,491.0 L487.8,491.0 L488.1,490.4 L488.4,490.0 L488.7,488.4 L489.0,488.5 L489.3,488.2 L489.6,487.1 L489.9,488.1 L490.2,487.5 L490.5,486.3 L490.8,486.3 L491.1,486.0 L491.5,486.0 L491.8,485.3 L492.1,485.4 L492.4,484.6 L492.7,484.8 L493.0,484.1 L493.3,482.5 L493.6,480.7 L493.9,480.3 L494.2,480.2 L494.5,479.4 L494.8,480.4 L495.1,480.8 L495.4,481.6 L495.7,481.3 L496.0,480.8 L496.4,480.8 L496.7,480.6 L497.0,480.7 L497.3,481.2 L497.6,481.2 L497.9,482.9 L498.2,482.0 L498.5,481.5 L498.9,481.6 L499.2,482.0 L499.5,481.1 L499.8,479.8 L500.1,479.9 L500.4,480.2 L500.7,480.6 L501.0,481.0 L501.4,479.4 L501.7,480.2 L502.0,479.9 L502.3,481.6 L502.6,481.1 L502.9,479.0 L503.2,478.7 L503.5,478.8 L503.8,479.3 L504.1,479.7 L504.4,479.4 L504.7,478.2 L505.0,478.2 L505.3,478.2 L505.6,477.8 L505.9,478.1 L506.2,478.0 L506.5,476.5 L506.8,476.0 L507.1,475.4 L507.4,475.4 L507.7,477.1 L508.0,476.4 L508.3,476.3 L508.6,473.8 L508.9,474.2 L509.2,473.1 L509.5,473.0 L509.8,471.4 L510.1,470.7 L510.4,470.8 L510.7,469.7 L511.0,468.9 L511.3,467.1 L511.6,465.4 L511.9,464.6 L512.2,463.2 L512.5,462.2 L512.8,460.4 L513.0,458.9 L513.3,458.3 L513.6,462.1 L514.0,464.2 L514.3,466.1 L514.6,468.8 L514.9,471.0 L515.2,472.7 L515.5,475.2 L515.8,476.5 L516.0,477.1 L516.3,474.8 L516.6,475.0 L516.9,474.6 L517.2,473.5 L517.5,473.2 L517.8,471.6 L518.1,471.9 L518.4,471.9 L518.8,471.9 L519.1,470.6 L519.4,470.9 L519.7,470.7 L520.0,471.2 L520.3,468.8 L520.6,468.7 L520.9,468.9 L521.2,467.7 L521.6,468.2 L521.9,467.9 L522.2,468.9 L522.5,468.3 L522.8,468.0 L523.1,466.6 L523.4,468.1 L523.8,467.0 L524.1,465.7 L524.4,464.6 L524.7,464.1 L525.0,463.6 L525.3,463.5 L525.6,464.3 L525.9,464.7 L526.2,462.9 L526.5,462.5 L526.8,461.1 L527.1,460.6 L527.4,459.5 L527.7,459.4 L528.0,458.4 L528.3,458.9 L528.6,456.8 L528.9,456.7 L529.2,456.2 L529.5,455.6 L529.8,454.5 L530.1,453.9 L530.4,454.3 L530.7,455.7 L531.0,454.5 L531.4,454.2 L531.7,453.1 L532.0,453.7 L532.3,453.7 L532.6,453.7 L532.9,454.2 L533.2,454.4 L533.5,455.6 L533.8,455.2 L534.0,455.7 L534.3,456.7 L534.6,457.7 L534.9,459.8 L535.2,460.5 L535.5,461.0 L535.8,461.5 L536.1,461.7 L536.4,461.0 L536.7,462.1 L537.0,463.5 L537.3,464.6 L537.6,464.9 L537.9,466.7 L538.2,466.2 L538.5,465.4 L538.8,464.9 L539.1,463.8 L539.4,463.1 L539.7,462.5 L540.0,460.4 L540.3,459.8 L540.6,459.0 L540.9,459.2 L541.2,456.8 L541.6,456.9 L541.9,456.7 L542.2,456.4 L542.5,456.6 L542.8,455.2 L543.1,455.2 L543.4,454.2 L543.7,453.3 L544.0,454.2 L544.3,453.5 L544.6,454.1 L544.9,453.7 L545.2,453.1 L545.5,452.2 L545.8,450.3 L546.1,449.3 L546.4,448.8 L546.7,449.5 L547.0,449.5 L547.3,449.6 L547.6,448.2 L547.9,446.9 L548.2,446.2 L548.5,445.7 L548.9,443.7 L549.2,443.7 L549.5,442.1 L549.8,441.3 L550.1,439.9 L550.4,439.6 L550.7,439.1 L551.0,438.8 L551.3,436.8 L551.6,435.7 L551.9,436.4 L552.2,435.2 L552.5,434.4 L552.8,432.9 L553.1,430.8 L553.4,430.7 L553.7,430.5 L554.0,428.2 L554.3,427.1 L554.6,427.1 L554.9,426.4 L555.2,425.3 L555.5,425.0 L555.8,424.6 L556.1,422.4 L556.4,420.6 L556.7,420.8 L557.0,419.8 L557.3,419.3 L557.6,418.2 L557.9,419.4 L558.2,417.8 L558.5,417.5 L558.8,416.7 L559.0,416.0 L559.3,414.5 L559.6,413.3 L559.9,412.7 L560.1,412.5 L560.4,410.4 L560.7,412.0 L561.0,412.7 L561.3,414.2 L561.6,415.3 L561.9,416.7 L562.2,416.8 L562.5,417.5 L562.8,417.9 L563.1,416.7 L563.4,414.9 L563.7,414.0 L564.0,414.6 L564.3,413.8 L564.6,413.5 L564.9,415.8 L565.2,416.2 L565.5,416.7 L565.8,417.7 L566.1,418.9 L566.5,419.1 L566.8,419.9 L567.1,418.8 L567.4,419.1 L567.7,419.7 L568.0,418.2 L568.3,419.1 L568.6,420.8 L569.0,418.6 L569.3,418.5 L569.6,419.8 L569.9,422.4 L570.2,423.7 L570.5,425.2 L570.8,426.8 L571.1,429.4 L571.4,430.6 L571.7,431.2 L571.9,428.2 L572.2,424.4 L572.5,422.8 L572.8,418.7 L573.1,415.8 L573.3,412.5 L573.6,412.4 L573.9,413.2 L574.2,412.7 L574.5,414.2 L574.8,414.6 L575.1,414.8 L575.4,414.6 L575.7,414.7 L576.0,414.0 L576.3,412.0 L576.6,410.7 L576.9,410.1 L577.2,409.5 L577.5,408.3 L577.8,403.9 L578.1,402.8 L578.4,400.1 L578.7,398.7 L579.0,395.0 L579.3,393.1 L579.6,391.7 L579.9,392.3 L580.2,390.8 L580.5,390.1 L580.8,391.1 L581.1,390.0 L581.4,390.2 L581.7,389.6 L582.0,388.6 L582.3,389.9 L582.6,391.2 L582.9,392.2 L583.2,392.8 L583.5,394.1 L583.8,392.7 L584.0,391.5 L584.3,391.9 L584.6,391.1 L584.9,390.9 L585.2,389.5 L585.5,388.7 L585.8,386.5 L586.1,386.9 L586.4,387.1 L586.7,386.7 L587.0,386.7 L587.3,386.7 L587.6,386.9 L587.9,387.5 L588.2,390.6 L588.5,390.9 L588.8,393.4 L589.1,396.6 L589.4,397.8 L589.7,399.8 L590.0,404.2 L590.3,402.8 L590.6,403.0 L590.9,402.4 L591.2,400.3 L591.5,399.3 L591.8,396.9 L592.1,395.8 L592.4,395.5 L592.7,395.0 L593.0,394.2 L593.3,392.6 L593.6,392.1 L593.9,392.1 L594.2,391.7 L594.5,391.6 L594.8,391.0 L595.1,390.4 L595.4,388.7 L595.7,389.0 L596.0,387.1 L596.4,385.3 L596.7,383.7 L597.0,382.1 L597.3,382.3 L597.6,380.9 L597.9,379.4 L598.2,377.9 L598.5,376.6 L598.8,376.5 L599.1,376.6 L599.4,375.0 L599.7,376.1 L600.0,376.2 L600.3,376.1 L600.6,376.9 L600.9,376.5 L601.2,376.4 L601.6,376.1 L601.9,374.7 L602.2,373.2 L602.5,371.9 L602.8,370.0 L603.1,368.4 L603.4,366.9 L603.7,366.8 L604.0,365.7 L604.3,365.4 L604.6,364.6 L604.9,364.0 L605.2,364.0 L605.5,362.9 L605.8,361.5 L606.1,362.1 L606.4,362.2 L606.7,362.5 L606.9,365.9 L607.2,367.2 L607.5,369.6 L607.8,370.2 L608.1,371.9 L608.3,375.0 L608.6,371.3 L608.9,367.7 L609.2,365.1 L609.5,364.2 L609.8,362.5 L610.1,361.5 L610.4,361.1 L610.7,360.3 L611.0,359.1 L611.3,357.7 L611.6,357.2 L611.9,356.2 L612.2,354.6 L612.5,351.7 L612.8,350.1 L613.1,347.4 L613.4,346.1 L613.7,344.6 L614.0,341.7 L614.2,339.4 L614.5,335.4 L614.8,330.5 L615.1,325.1 L615.4,320.8 L615.7,321.4 L616.0,321.1 L616.2,320.5 L616.5,320.5 L616.8,320.0 L617.1,319.8 L617.4,318.4 L617.6,318.2 L617.9,315.4 L618.2,316.6 L618.5,315.6 L618.8,315.0 L619.0,316.1 L619.3,319.4 L619.6,321.5 L619.9,323.5 L620.2,325.0 L620.5,325.5 L620.8,325.9 L621.1,325.3 L621.4,326.7 L621.7,325.9 L622.0,327.0 L622.3,327.1 L622.6,325.6 L622.9,325.0 L623.2,325.2 L623.5,324.5 L623.8,324.3 L624.1,323.9 L624.4,324.0 L624.7,325.4 L625.1,329.0 L625.4,331.2 L625.7,332.4 L626.0,332.1 L626.3,332.1 L626.6,331.1 L626.9,331.0 L627.2,332.2 L627.5,332.3 L627.8,332.8 L628.1,333.5 L628.4,335.1 L628.7,336.2 L629.0,339.1 L629.3,340.5 L629.6,341.7 L629.9,342.4 L630.2,343.9 L630.5,342.6 L630.8,342.0 L631.1,341.4 L631.4,339.7 L631.7,339.6 L631.9,343.5 L632.2,348.3 L632.5,352.9 L632.8,357.4 L633.1,362.0 L633.3,365.6 L633.6,365.3 L634.0,363.8 L634.3,360.6 L634.6,356.9 L634.9,354.5 L635.2,352.5 L635.5,350.1 L635.8,347.9 L636.1,348.4 L636.4,348.3 L636.7,347.1 L637.0,346.2 L637.3,344.2 L637.6,344.6 L637.9,343.8 L638.2,344.8 L638.5,347.6 L638.8,347.8 L639.1,348.7 L639.4,348.9 L639.7,348.2 L640.0,350.0 L640.3,348.4 L640.6,346.8 L640.9,345.9 L641.2,344.2 L641.5,343.2 L641.8,342.8 L642.1,340.6 L642.4,342.2 L642.7,343.5 L643.0,345.6 L643.3,349.0 L643.6,349.3 L643.9,351.8 L644.2,353.1 L644.5,354.1 L644.8,354.9 L645.1,355.2 L645.4,354.5 L645.7,354.9 L646.0,354.5 L646.2,356.2 L646.6,357.1 L646.9,357.1 L647.2,357.3 L647.5,358.7 L647.8,357.9 L648.1,358.6 L648.4,359.2 L648.8,358.9 L649.1,360.3 L649.4,360.4 L649.7,362.1 L650.0,363.1 L650.3,363.3 L650.6,364.0 L650.9,365.7 L651.2,365.7 L651.5,365.7 L651.8,366.4 L652.1,367.7 L652.4,367.5 L652.7,365.9 L653.0,364.0 L653.3,363.2 L653.6,362.2 L654.0,361.7 L654.3,359.6 L654.6,358.3 L654.9,357.0 L655.2,358.0 L655.5,355.8 L655.8,354.6 L656.1,353.8 L656.4,351.8 L656.7,351.0 L657.0,350.1 L657.3,348.4 L657.6,347.6 L657.9,348.5 L658.2,348.3 L658.5,349.2 L658.8,350.0 L659.1,351.1 L659.4,351.8 L659.7,350.8 L660.0,350.0 L660.3,351.1 L660.6,352.1 L660.9,353.2 L661.2,353.4 L661.6,354.2 L661.9,354.2 L662.2,355.8 L662.5,356.8 L662.8,355.9 L663.1,356.2 L663.4,358.2 L663.8,358.1 L664.1,358.0 L664.4,358.0 L664.7,358.4 L665.0,359.4 L665.3,359.4 L665.6,359.8 L665.9,359.4 L666.2,360.2 L666.6,361.6 L666.9,361.1 L667.2,361.5 L667.5,362.0 L667.8,362.3 L668.1,362.5 L668.4,363.4 L668.8,363.6 L669.1,363.5 L669.4,363.3 L669.7,364.4 L670.0,364.4 L670.3,363.3 L670.6,363.4 L670.9,363.4 L671.2,364.6 L671.5,365.8 L671.8,365.2 L672.1,366.6 L672.4,367.3 L672.7,369.0 L673.0,368.9 L673.3,369.8 L673.6,370.7 L674.0,372.3 L674.3,371.5 L674.6,371.7 L674.9,372.1 L675.2,372.1 L675.5,371.6 L675.8,371.7 L676.1,372.0 L676.5,374.0 L676.8,373.3 L677.1,373.6 L677.4,372.5 L677.6,372.0 L677.9,371.3 L678.2,370.7 L678.5,368.8 L678.9,368.6 L679.2,370.8 L679.5,370.7 L679.8,369.5 L680.1,371.4 L680.4,371.7 L680.7,371.9 L681.0,370.5 L681.4,370.1 L681.7,369.8 L682.0,368.5 L682.3,366.4 L682.6,365.8 L682.9,363.5 L683.2,363.3 L683.5,362.1 L683.9,360.5 L684.2,358.0 L684.5,357.1 L684.8,356.2 L685.1,355.7 L685.4,357.9 L685.7,358.4 L686.0,357.8 L686.3,359.6 L686.6,359.4 L686.9,359.4 L687.2,360.1 L687.5,361.1 L687.8,362.8 L688.1,363.8 L688.4,365.9 L688.7,366.9 L689.0,368.8 L689.3,367.4 L689.6,367.4 L689.9,367.9 L690.1,369.1 L690.4,369.3 L690.7,370.0 L691.0,370.8 L691.4,369.5 L691.7,369.3 L692.0,369.0 L692.3,367.9 L692.6,366.3 L692.9,366.8 L693.2,367.1 L693.5,366.7 L693.9,367.0 L694.2,367.7 L694.5,366.8 L694.8,366.5 L695.1,366.2 L695.4,365.8 L695.7,364.9 L696.0,363.7 L696.2,363.5 L696.5,364.6 L696.8,366.9 L697.1,368.2 L697.4,369.2 L697.7,368.9 L698.0,369.7 L698.3,370.8 L698.6,370.8 L699.0,370.4 L699.3,368.0 L699.6,367.3 L699.9,367.6 L700.2,369.1 L700.5,368.2 L700.8,368.8 L701.1,367.8 L701.5,368.8 L701.8,368.6 L702.1,368.6 L702.4,368.9 L702.7,368.3 L703.0,367.7 L703.3,368.6 L703.6,367.3 L703.9,366.5 L704.2,367.2 L704.5,367.8 L704.8,367.1 L705.1,366.5 L705.4,366.6 L705.7,368.2 L706.1,369.5 L706.4,369.2 L706.7,368.8 L707.0,368.6 L707.3,367.1 L707.6,367.3 L707.9,366.9 L708.2,367.8 L708.5,367.0 L708.8,367.3 L709.0,366.7 L709.3,366.2 L709.6,367.7 L709.9,366.9 L710.2,366.8 L710.5,367.1 L710.8,368.8 L711.1,368.6 L711.4,367.8 L711.7,367.7 L712.0,368.8 L712.3,368.9 L712.6,369.1 L712.9,370.6 L713.2,369.5 L713.5,370.1 L713.8,369.0 L714.1,369.7 L714.4,369.8 L714.7,369.9 L715.0,369.8 L715.3,370.0 L715.6,367.5 L715.9,366.5 L716.2,368.3 L716.6,368.4 L716.9,368.3 L717.2,368.9 L717.5,369.7 L717.8,369.9 L718.1,370.8 L718.4,373.0 L718.7,374.1 L719.0,375.8 L719.3,378.3 L719.6,379.2 L719.9,381.4 L720.1,382.9 L720.4,384.9 L720.7,385.7 L721.0,388.0 L721.2,389.6 L721.5,390.8 L721.8,390.7 L722.1,392.7 L722.4,393.9 L722.7,393.5 L723.0,395.5 L723.3,395.8 L723.6,397.1 L724.0,396.8 L724.3,397.6 L724.6,397.9 L724.9,397.7 L725.2,397.6 L725.5,399.6 L725.8,400.0 L726.1,400.6 L726.4,400.6 L726.7,400.8 L727.0,401.0 L727.3,401.5 L727.6,402.2 L727.8,403.6 L728.1,404.2 L728.4,401.8 L728.7,398.8 L729.0,397.1 L729.3,395.2 L729.6,392.7 L729.9,391.4 L730.2,391.5 L730.5,390.0 L730.8,391.5 L731.1,391.8 L731.5,393.1 L731.8,393.2 L732.1,394.2 L732.4,395.9 L732.7,396.9 L733.0,396.2 L733.3,395.1 L733.6,394.9 L733.9,395.3 L734.2,394.5 L734.5,393.0 L734.8,392.7 L735.1,393.6 L735.4,393.1 L735.7,394.0 L736.0,395.7 L736.3,395.8 L736.6,397.0 L736.9,397.9 L737.2,398.1 L737.5,398.4 L737.8,397.5 L738.1,398.0 L738.4,399.8 L738.8,400.1 L739.1,398.8 L739.4,398.6 L739.7,400.2 L740.0,400.0 L740.3,400.4 L740.6,399.6 L740.9,398.6 L741.2,398.8 L741.5,399.4 L741.8,399.1 L742.1,399.8 L742.4,399.7 L742.7,398.2 L743.0,398.3 L743.3,399.1 L743.6,401.4 L743.9,400.4 L744.2,401.0 L744.5,400.8 L744.8,400.5 L745.1,400.1 L745.4,400.8 L745.7,401.3 L746.0,400.1 L746.4,398.8 L746.7,398.2 L747.0,396.3 L747.3,395.8 L747.6,396.6 L747.9,396.2 L748.2,396.1 L748.5,395.6 L748.9,395.8 L749.2,396.3 L749.5,395.5 L749.8,396.4 L750.1,395.7 L750.4,395.8 L750.7,396.1 L751.0,395.2 L751.3,394.9 L751.6,394.0 L751.9,394.9 L752.2,394.8 L752.5,393.5 L752.8,394.1 L753.1,393.8 L753.4,395.5 L753.7,395.4 L754.0,396.0 L754.3,395.0 L754.6,394.8 L754.9,394.4 L755.2,394.9 L755.5,395.8 L755.8,395.6 L756.1,395.2 L756.4,394.1 L756.7,393.2 L757.0,392.8 L757.3,393.4 L757.6,394.7 L757.9,394.3 L758.2,393.4 L758.5,392.2 L758.8,392.7 L759.0,392.3 L759.3,391.2 L759.6,391.1 L759.9,389.5 L760.2,387.5 L760.5,386.0 L760.8,383.3 L761.1,382.8 L761.5,381.9 L761.8,379.8 L762.1,379.5 L762.4,379.6 L762.7,380.4 L763.0,379.9 L763.3,380.6 L763.6,379.5 L764.0,380.2 L764.3,379.4 L764.6,379.0 L764.9,377.6 L765.2,379.0 L765.5,378.4 L765.8,379.2 L766.1,378.9 L766.5,378.9 L766.8,379.4 L767.1,378.1 L767.4,377.9 L767.7,377.0 L768.0,375.6 L768.3,376.0 L768.6,375.3 L769.0,375.9 L769.3,375.4 L769.6,374.5 L769.9,373.5 L770.2,372.9 L770.5,370.9 L770.8,370.2 L771.1,368.2 L771.4,367.9 L771.7,366.1 L772.0,364.6 L772.3,362.5 L772.6,363.0 L772.9,359.5 L773.2,358.7 L773.5,358.1 L773.8,357.5 L774.1,357.5 L774.4,357.3 L774.7,355.8 L775.0,355.8 L775.3,354.9 L775.6,354.6 L775.9,354.3 L776.2,355.2 L776.6,355.9 L776.9,355.8 L777.2,355.0 L777.5,355.2 L777.8,356.0 L778.1,356.4 L778.4,357.9 L778.7,359.8 L779.0,359.8 L779.3,361.7 L779.6,361.5 L779.9,360.7 L780.2,358.9 L780.5,358.8 L780.8,360.0 L781.1,358.5 L781.4,357.6 L781.7,356.2 L782.0,355.2 L782.3,355.0 L782.6,352.5 L782.9,352.0 L783.2,352.6 L783.5,351.2 L783.8,350.0 L784.0,348.8 L784.3,345.4 L784.6,343.0 L784.9,341.7 L785.2,340.0 L785.5,339.0 L785.8,336.5 L786.1,337.2 L786.4,337.5 L786.7,337.4 L787.0,338.9 L787.3,341.3 L787.6,341.4 L787.9,342.7 L788.2,342.3 L788.5,342.5 L788.8,341.0 L789.0,338.6 L789.3,338.1 L789.6,336.5 L790.0,335.8 L790.3,337.8 L790.6,340.0 L790.9,342.4 L791.2,344.5 L791.5,344.9 L791.8,345.3 L792.1,347.9 L792.1,348.3 L792.4,348.7 L792.7,347.6 L793.0,348.4 L793.3,347.4 L793.6,348.5 L793.9,348.7 L794.2,349.4 L794.5,348.4 L794.8,348.6 L795.1,346.5 L795.4,347.4 L795.7,346.0 L796.0,345.7 L796.2,346.2 L796.5,346.0 L796.8,344.9 L797.1,342.5 L797.4,342.5 L797.7,341.1 L798.0,338.7 L798.3,339.0 L798.6,341.2 L798.9,340.7 L799.2,341.6 L799.5,342.3 L799.8,342.5 L800.1,343.0 L800.4,343.1 L800.7,342.2 L801.0,342.4 L801.3,342.9 L801.6,343.0 L801.9,343.9 L802.2,344.8 L802.5,346.2 L802.8,348.3 L803.1,347.7 L803.4,348.5 L803.8,350.1 L804.1,350.2 L804.4,348.8 L804.7,348.8 L805.0,350.0 L805.3,350.6 L805.6,349.4 L805.9,348.9 L806.2,348.0 L806.5,346.8 L806.8,346.8 L807.1,343.7 L807.4,344.3 L807.7,345.2 L808.0,345.6 L808.3,345.4 L808.6,344.9 L809.0,346.0 L809.3,346.2 L809.6,345.1 L809.9,344.0 L810.2,345.2 L810.5,346.7 L810.8,346.2 L811.1,347.8 L811.4,347.5 L811.7,347.8 L812.0,347.1 L812.3,348.2 L812.6,348.2 L812.9,348.3 L813.2,350.3 L813.5,351.3 L813.8,354.1 L814.0,356.1 L814.3,357.1 L814.6,357.7 L814.9,357.8 L815.2,357.8 L815.5,357.6 L815.8,356.4 L816.1,357.5 L816.5,357.5 L816.8,358.3 L817.1,358.8 L817.4,358.2 L817.7,357.2 L818.0,355.7 L818.3,356.1 L818.6,355.5 L819.0,356.4 L819.3,357.3 L819.6,357.4 L819.9,357.1 L820.2,357.7 L820.5,359.5 L820.8,359.6 L821.1,360.5 L821.4,362.2 L821.7,361.5 L822.0,362.4 L822.3,362.5 L822.6,358.6 L823.0,355.0 L823.3,350.4 L823.6,350.6 L824.0,351.9 L824.3,352.3 L824.6,352.6 L824.9,352.5 L825.2,352.4 L825.5,353.1 L825.8,352.7 L826.1,352.2 L826.5,351.5 L826.8,351.6 L827.1,352.2 L827.4,352.7 L827.6,353.0 L827.9,355.5 L828.2,355.0 L828.5,355.6 L828.8,357.1 L829.1,357.9 L829.4,358.8 L829.7,358.4 L830.0,359.3 L830.3,360.8 L830.6,360.8 L831.0,362.2 L831.3,364.0 L831.7,365.0 L832.0,364.8 L832.3,363.2 L832.6,363.9 L832.9,365.7 L833.2,366.6 L833.5,367.8 L833.9,365.0 L834.2,364.0 L834.5,363.2 L834.8,362.9 L835.1,363.0 L835.4,361.9 L835.7,362.2 L836.0,361.3 L836.3,361.5 L836.6,362.8 L836.9,365.0 L837.2,366.0 L837.5,367.2 L837.8,366.0 L838.1,365.4 L838.4,366.5 L838.7,367.5 L839.0,368.1 L839.3,366.8 L839.6,365.6 L839.9,365.3 L840.1,366.2 L840.4,365.4 L840.7,362.6 L841.0,364.0 L841.3,364.5 L841.6,363.8 L841.9,365.0 L842.2,365.6 L842.5,365.0 L842.8,364.4 L843.1,365.0 L843.4,364.2 L843.7,364.7 L844.0,363.3 L844.3,361.8 L844.6,359.8 L844.9,358.8 L845.2,359.8 L845.5,357.6 L845.8,357.8 L846.1,356.6 L846.4,355.6 L846.7,357.2 L847.0,355.2 L847.3,354.6 L847.6,352.5 L847.9,351.9 L848.2,352.3 L848.5,352.3 L848.9,353.2 L849.2,353.9 L849.5,353.4 L849.8,353.5 L850.1,353.9 L850.4,353.5 L850.7,351.5 L851.0,351.0 L851.4,351.3 L851.7,351.4 L852.0,349.7 L852.3,348.8 L852.6,349.4 L852.9,348.6 L853.2,349.4 L853.5,348.3 L853.8,346.7 L854.1,345.6 L854.4,347.6 L854.7,346.9 L855.0,346.3 L855.3,346.7 L855.6,346.2 L855.9,345.0 L856.2,345.0 L856.6,346.5 L856.9,345.5 L857.2,344.9 L857.5,345.2 L857.8,346.0 L858.1,345.9 L858.4,348.1 L858.8,348.3 L859.1,347.4 L859.4,347.7 L859.7,348.1 L860.0,348.3 L860.3,348.3 L860.6,350.4 L860.9,351.9 L861.2,352.6 L861.6,352.6 L861.9,353.5 L862.2,354.5 L862.5,355.1 L862.8,354.5 L863.1,355.8 L863.4,356.6 L863.7,355.7 L864.0,356.7 L864.3,359.2 L864.6,372.2 L864.9,384.4 L865.2,382.4 L865.5,380.0 L865.7,377.9 L866.0,377.1 L866.3,376.8 L866.6,375.0 L866.9,374.5 L867.1,374.8 L867.4,375.3 L867.7,374.9 L868.0,373.0 L868.3,371.6 L868.5,369.9 L868.8,368.2 L869.1,368.9 L869.4,370.9 L869.7,373.0 L869.9,374.3 L870.2,374.1 L870.5,371.7 L870.8,370.5 L871.1,370.3 L871.4,368.2 L871.7,367.6 L872.1,365.7 L872.4,365.2 L872.7,363.7 L873.0,363.8 L873.3,364.2 L873.6,363.8 L873.9,364.3 L874.2,364.7 L874.4,365.9 L874.7,365.7 L875.0,365.7 L875.3,367.1 L875.6,368.2 L875.8,368.6 L876.1,367.9 L876.4,366.8 L876.7,366.8 L877.0,364.9 L877.2,364.8 L877.5,364.4 L877.8,363.9 L878.1,361.8 L878.4,362.1 L878.6,361.2 L878.9,360.3 L879.2,359.5 L879.5,359.0 L879.8,356.4 L880.0,354.7 L880.3,354.0 L880.6,353.4 L880.9,353.3 L881.2,353.4 L881.4,352.8 L881.7,353.0 L882.0,355.0 L882.3,356.0 L882.6,355.4 L882.9,354.3 L883.1,354.7 L883.4,355.3 L883.7,353.3 L884.0,351.6 L884.3,349.7 L884.5,349.1 L884.8,349.5 L885.1,349.6 L885.4,349.6 L885.7,350.7 L885.9,350.5 L886.2,350.8 L886.5,350.4 L886.9,349.4 L887.1,351.3 L887.3,353.6 L887.6,352.5 L887.9,351.4 L888.2,350.9 L888.5,351.2 L888.8,350.7 L889.1,349.4 L889.4,350.4 L889.7,350.3 L890.0,348.3 L890.3,348.7 L890.6,348.0 L890.9,348.1 L891.2,348.2 L891.6,349.0 L891.9,347.9 L892.2,348.6 L892.5,350.0 L892.8,349.2 L893.1,350.4 L893.4,350.7 L893.8,350.7 L894.1,351.9 L894.4,351.0 L894.7,350.4 L895.0,350.5 L895.3,350.9 L895.6,350.7 L895.9,350.8 L896.2,350.4 L896.5,351.1 L896.8,351.0 L897.1,351.6 L897.4,351.4 L897.7,351.3 L898.0,350.2 L898.3,349.9 L898.6,350.2 L898.9,349.9 L899.2,350.3 L899.5,351.6 L899.8,351.8 L900.1,351.4 L900.4,351.5 L900.7,349.3 L901.0,349.6 L901.4,350.5 L901.7,349.0 L902.0,351.2 L902.3,349.9 L902.6,350.2 L902.9,349.9 L903.2,350.9 L903.5,351.5 L903.8,350.8 L904.1,350.5 L904.4,349.1 L904.7,348.1 L905.0,345.7 L905.3,345.8 L905.6,344.2 L905.9,344.5 L906.2,344.4 L906.6,343.5 L906.9,342.3 L907.2,341.6 L907.5,341.1 L907.8,339.8 L908.1,339.7 L908.4,339.9 L908.8,340.0 L909.0,339.5 L909.3,339.5 L909.6,340.7 L909.9,341.5 L910.2,341.3 L910.5,341.0 L910.8,341.7 L911.1,339.8 L911.4,340.4 L911.7,339.4 L912.0,338.9 L912.3,338.7 L912.6,339.4 L912.9,337.9 L913.2,338.1 L913.5,339.2 L913.8,338.0 L914.1,338.2 L914.4,340.0 L914.7,339.5 L915.0,340.0 L915.3,340.3 L915.6,341.1 L915.9,339.7 L916.2,340.2 L916.5,342.7 L916.8,345.0 L917.1,345.2 L917.4,345.5 L917.7,344.9 L918.0,344.7 L918.3,343.8 L918.6,345.0 L919.0,344.4 L919.3,345.7 L919.6,345.3 L919.9,346.6 L920.2,346.2 L920.5,344.8 L920.8,343.9 L921.1,343.8 L921.5,344.4 L921.8,344.7 L922.1,343.5 L922.4,344.6 L922.7,344.6 L923.0,344.6 L923.3,343.8 L923.6,344.9 L924.0,344.9 L924.3,343.7 L924.6,343.8 L924.9,344.3 L925.2,344.2 L925.5,344.0 L925.8,344.4 L926.1,343.3 L926.5,344.2 L926.8,343.2 L927.1,341.6 L927.4,341.6 L927.7,342.6 L928.0,343.3 L928.3,341.8 L928.6,340.7 L929.0,341.0 L929.3,340.9 L929.6,341.0 L929.9,341.0 L930.2,338.8 L930.5,339.5 L930.8,337.7 L931.1,337.3 L931.5,335.8 L931.8,335.6 L932.1,336.2 L932.4,336.1 L932.7,334.8 L933.0,334.2 L933.3,333.5 L933.6,332.7 L934.0,332.9 L934.3,331.5 L934.6,331.4 L934.9,329.8 L935.2,329.9 L935.5,330.0 L935.8,329.6 L936.1,329.8 L936.4,330.3 L936.7,329.5 L937.0,328.9 L937.3,326.9 L937.6,325.2 L937.9,325.4 L938.2,322.9 L938.5,323.7 L938.9,323.8 L939.2,322.6 L939.5,322.2 L939.8,320.9 L940.1,321.5 L940.4,320.2 L940.7,320.9 L941.0,320.2 L941.4,318.6 L941.7,318.9 L942.0,318.9 L942.3,318.8 L942.6,319.3 L942.9,318.2 L943.2,316.2 L943.5,315.6 L943.9,315.3 L944.2,315.0 L944.5,314.1 L944.8,314.3 L945.1,313.0 L945.4,313.0 L945.7,313.4 L946.0,313.6 L946.2,314.0 L946.5,313.1 L946.8,313.4 L947.1,313.7 L947.4,314.0 L947.7,314.2 L948.0,314.9 L948.3,316.0 L948.6,315.6 L948.9,314.2 L949.2,312.7 L949.5,311.8 L949.8,309.1 L950.1,308.5 L950.4,306.7 L950.7,306.0 L951.0,305.0 L951.3,303.9 L951.6,303.8 L951.9,303.5 L952.2,302.7 L952.5,300.4 L952.8,298.6 L953.1,297.2 L953.4,295.9 L953.7,294.3 L954.0,292.5 L954.3,292.7 L954.6,290.0 L954.9,290.5 L955.2,288.5 L955.5,286.6 L955.8,282.9 L956.1,281.1 L956.4,279.6 L956.7,278.5 L957.0,276.8 L957.3,276.1 L957.6,277.5 L957.9,277.6 L958.2,278.8 L958.5,279.5 L958.8,280.6 L959.1,282.1 L959.4,284.8 L959.8,286.9 L960.1,286.8 L960.5,289.0 L960.8,290.2 L961.1,289.3 L961.5,288.0 L961.8,285.3 L962.1,285.3 L962.4,284.0 L962.7,283.0 L963.0,279.9 L963.3,278.8 L963.6,277.7 L963.9,277.0 L964.2,274.6 L964.5,274.5 L964.8,271.9 L965.1,271.2 L965.4,270.4 L965.7,270.6 L966.0,269.1 L966.3,269.0 L966.6,266.5 L966.9,266.7 L967.2,266.2 L967.5,266.2 L967.8,265.5 L968.1,262.8 L968.4,263.0 L968.7,262.2 L969.0,262.1 L969.3,259.0 L969.6,259.0 L969.9,259.7 L970.2,260.0 L970.5,261.7 L970.8,263.2 L971.1,266.3 L971.4,269.4 L971.7,270.4 L972.0,270.5 L972.3,270.6 L972.6,270.3 L972.9,269.0 L973.2,268.0 L973.5,266.3 L973.8,265.2 L974.0,264.7 L974.3,264.9 L974.6,261.9 L974.9,259.7 L975.2,258.2 L975.5,257.6 L975.8,256.9 L976.1,258.7 L976.4,259.4 L976.7,259.2 L977.0,260.5 L977.3,259.1 L977.6,259.3 L977.9,260.0 L978.2,260.9 L978.5,260.9 L978.8,262.1 L979.1,262.4 L979.4,261.7 L979.7,262.1 L980.0,263.1 L980.3,262.3 L980.6,262.0 L980.9,261.3 L981.2,261.1 L981.5,260.7 L981.8,257.5 L982.1,255.8 L982.4,257.1 L982.7,256.7 L983.0,257.7 L983.3,257.6 L983.6,258.8 L983.9,258.4 L984.2,260.0 L984.5,257.7 L984.9,256.1 L985.2,253.8 L985.5,257.1 L985.8,258.6 L986.1,258.8 L986.4,260.2 L986.7,261.6 L987.0,263.7 L987.3,264.2 L987.6,263.2 L987.9,263.4 L988.2,262.9 L988.5,263.8 L988.8,265.5 L989.1,266.1 L989.4,266.2 L989.7,266.5 L990.0,263.0 L990.3,262.8 L990.6,261.3 L990.9,259.8 L991.2,258.4 L991.5,259.0 L991.8,258.5 L992.1,260.0 L992.4,260.2 L992.6,260.0 L992.9,260.8 L993.2,260.4 L993.5,260.0 L993.8,262.4 L994.1,266.1 L994.4,267.3 L994.7,271.0 L995.0,274.1 L995.3,277.1 L995.6,278.8 L995.9,279.2 L996.2,280.6 L996.5,281.3 L996.8,282.2 L997.1,283.1 L997.4,283.6 L997.7,284.0 L998.0,283.2 L998.3,283.2 L998.6,282.9 L998.9,280.5 L999.2,278.4 L999.5,277.3 L999.8,276.7 L1000.1,276.6 L1000.4,277.8 L1000.7,277.8 L1001.0,280.3 L1001.3,282.7 L1001.6,283.9 L1001.9,286.0 L1002.2,284.6 L1002.5,282.7 L1002.8,281.5 L1003.1,280.7 L1003.4,279.4 L1003.7,278.6 L1004.0,276.7 L1004.3,277.9 L1004.6,280.2 L1004.9,282.1 L1005.1,282.9 L1005.4,284.6 L1005.7,286.9 L1006.0,288.1 L1006.4,287.8 L1006.7,287.3 L1007.0,287.6 L1007.3,287.4 L1007.6,287.8 L1007.9,287.4 L1008.2,287.4 L1008.5,286.5 L1008.9,285.6 L1009.2,284.0 L1009.5,284.4 L1009.8,285.3 L1010.1,286.2 L1010.4,286.3 L1010.7,286.7 L1011.0,287.0 L1011.4,286.2 L1011.7,286.4 L1012.0,286.6 L1012.3,287.1 L1012.6,286.8 L1012.9,289.2 L1013.2,290.1 L1013.5,290.1 L1013.8,291.3 L1014.1,291.6 L1014.4,292.3 L1014.7,289.4 L1015.0,287.9 L1015.3,285.3 L1015.6,282.8 L1015.9,280.7 L1016.2,278.0 L1016.5,276.7 L1016.8,275.9 L1017.1,276.1 L1017.4,275.4 L1017.7,273.7 L1018.0,273.5 L1018.3,273.1 L1018.6,272.8 L1019.0,271.8 L1019.3,270.2 L1019.6,270.4 L1019.9,271.2 L1020.2,270.8 L1020.5,270.5 L1020.8,269.0 L1021.1,269.0 L1021.5,267.8 L1021.8,267.7 L1022.1,268.6 L1022.4,267.9 L1022.7,267.3 L1023.0,266.4 L1023.3,265.8 L1023.6,265.1 L1024.0,265.7 L1024.3,265.1 L1024.6,265.7 L1024.9,266.5 L1025.2,266.4 L1025.5,266.3 L1025.8,266.2 L1026.1,265.3 L1026.5,266.4 L1026.8,264.5 L1027.1,264.0 L1027.4,264.7 L1027.7,263.5 L1028.0,264.7 L1028.3,263.6 L1028.6,263.5 L1029.0,264.2 L1029.3,266.0 L1029.6,266.8 L1029.9,268.6 L1030.1,268.4 L1030.4,269.9 L1030.7,269.7 L1031.0,270.4 L1031.4,269.7 L1031.7,269.6 L1032.0,269.9 L1032.3,270.9 L1032.6,272.0 L1032.9,273.1 L1033.2,274.0 L1033.5,273.8 L1033.9,275.4 L1034.2,275.6 L1034.4,276.0 L1034.7,275.2 L1035.0,275.0 L1035.3,275.2 L1035.6,275.6 L1035.8,274.6 L1036.1,272.3 L1036.4,269.4 L1036.7,267.0 L1037.0,264.5 L1037.3,262.1 L1037.6,261.6 L1037.9,261.5 L1038.2,259.8 L1038.5,259.1 L1038.8,258.1 L1039.1,259.4 L1039.4,259.0 L1039.7,258.5 L1040.0,257.8 L1040.3,256.2 L1040.6,256.6 L1040.9,254.5 L1041.2,252.5 L1041.5,251.7 L1041.8,250.7 L1042.1,251.8 L1042.4,253.1 L1042.6,252.9 L1042.9,251.7 L1043.2,253.2 L1043.5,254.8 L1043.8,254.8 L1044.1,255.3 L1044.4,255.0 L1044.7,254.7 L1045.0,254.3 L1045.3,252.5 L1045.6,253.8 L1045.9,253.8 L1046.2,253.6 L1046.6,253.4 L1046.9,253.3 L1047.2,253.2 L1047.5,254.9 L1047.8,253.6 L1048.1,252.4 L1048.4,252.4 L1048.8,250.6 L1049.0,252.6 L1049.3,253.7 L1049.6,253.0 L1049.9,253.9 L1050.2,254.3 L1050.5,257.4 L1050.8,257.9 L1051.1,258.6 L1051.5,258.2 L1051.8,258.4 L1052.1,257.5 L1052.4,258.6 L1052.7,259.2 L1053.0,258.3 L1053.3,259.3 L1053.6,259.7 L1054.0,259.0 L1054.3,259.0 L1054.6,260.1 L1054.9,261.5 L1055.1,261.8 L1055.4,262.8 L1055.7,264.7 L1056.0,264.2 L1056.3,265.9 L1056.6,266.8 L1056.9,266.2 L1057.2,266.8 L1057.5,265.4 L1057.8,266.2 L1058.1,268.3 L1058.4,269.0 L1058.7,269.4 L1059.0,268.4 L1059.3,269.5 L1059.6,268.7 L1059.9,267.8 L1060.2,266.2 L1060.5,266.5 L1060.8,265.8 L1061.1,266.5 L1061.5,266.3 L1061.8,266.2 L1062.1,267.0 L1062.4,268.9 L1062.7,269.3 L1063.0,269.3 L1063.3,269.4 L1063.6,270.3 L1064.0,269.3 L1064.3,269.8 L1064.6,269.0 L1064.9,268.9 L1065.2,270.5 L1065.5,270.9 L1065.8,272.3 L1066.1,273.1 L1066.5,272.5 L1066.8,273.7 L1067.1,272.5 L1067.4,271.7 L1067.6,272.0 L1067.9,272.0 L1068.2,273.0 L1068.5,274.6 L1068.8,276.1 L1069.1,276.7 L1069.4,277.7 L1069.7,278.9 L1070.0,280.1 L1070.3,280.2 L1070.6,281.9 L1070.9,281.9 L1071.2,282.8 L1071.6,282.1 L1071.9,282.6 L1072.2,282.1 L1072.5,282.4 L1072.8,280.3 L1073.1,279.9 L1073.4,279.4 L1073.8,280.8 L1074.0,278.3 L1074.3,277.7 L1074.6,275.1 L1074.9,274.9 L1075.2,275.1 L1075.5,273.7 L1075.8,272.5 L1076.1,272.2 L1076.5,271.7 L1076.8,270.4 L1077.1,271.2 L1077.4,272.5 L1077.7,273.4 L1078.0,271.6 L1078.3,271.1 L1078.6,271.4 L1079.0,271.5 L1079.3,273.0 L1079.6,271.8 L1079.9,273.1 L1080.1,273.8 L1080.4,275.9 L1080.7,278.3 L1081.0,280.8 L1081.3,279.7 L1081.6,279.6 L1081.9,279.5 L1082.2,277.6 L1082.5,275.6 L1082.8,274.3 L1083.1,274.6 L1083.4,276.2 L1083.7,275.7 L1084.0,275.7 L1084.3,275.8 L1084.6,277.3 L1084.9,278.7 L1085.2,279.8 L1085.5,278.6 L1085.8,278.7 L1086.1,277.4 L1086.5,277.5 L1086.8,274.5 L1087.1,273.6 L1087.4,274.2 L1087.7,275.3 L1088.0,275.2 L1088.3,273.5 L1088.6,273.3 L1089.0,273.2 L1089.3,272.3 L1089.6,270.5 L1089.9,269.1 L1090.2,270.0 L1090.5,268.7 L1090.8,268.3 L1091.1,268.2 L1091.4,268.8 L1091.7,269.2 L1092.0,267.3 L1092.3,267.6 L1092.6,266.9 L1092.9,269.1 L1093.2,270.9 L1093.5,272.5 L1093.8,272.2 L1094.1,273.0 L1094.4,273.5 L1094.7,274.0 L1095.0,275.8 L1095.3,276.2 L1095.6,276.7 L1095.9,277.6 L1096.2,277.1 L1096.6,277.0 L1096.9,275.3 L1097.2,275.5 L1097.5,276.3 L1097.8,276.1 L1098.1,276.0 L1098.4,276.4 L1098.8,276.7 L1099.1,277.5 L1099.4,276.4 L1099.7,276.2 L1100.0,277.4 L1100.3,277.2 L1100.6,277.4 L1100.9,277.5 L1101.2,278.8 L1101.5,280.3 L1101.8,283.3 L1102.1,284.5 L1102.4,285.9 L1102.6,288.8 L1102.9,291.2 L1103.2,289.6 L1103.5,290.0 L1103.9,289.9 L1104.2,288.8 L1104.5,288.9 L1104.8,290.3 L1105.1,289.0 L1105.4,289.4 L1105.7,289.5 L1106.0,292.3 L1106.4,294.1 L1106.7,292.7 L1107.0,291.6 L1107.3,291.4 L1107.6,289.3 L1107.9,289.2 L1108.2,288.5 L1108.5,287.8 L1108.9,287.5 L1109.2,289.2 L1109.5,289.5 L1109.8,290.0 L1110.1,289.2 L1110.4,289.2 L1110.7,290.2 L1111.0,290.5 L1111.4,291.1 L1111.7,291.2 L1111.9,291.8 L1112.2,292.2 L1112.5,294.1 L1112.8,295.5 L1113.1,295.5 L1113.3,297.5 L1113.7,302.2 L1114.0,306.2 L1114.4,310.0 L1114.7,311.8 L1115.0,311.1 L1115.3,311.8 L1115.6,313.2 L1115.9,312.4 L1116.2,312.1 L1116.6,312.9 L1116.9,312.9 L1117.2,312.2 L1117.5,312.1 L1117.8,311.7 L1118.1,312.2 L1118.4,312.1 L1118.8,312.9 L1119.1,312.6 L1119.4,312.9 L1119.7,313.6 L1120.0,314.7 L1120.3,314.2 L1120.6,314.2 L1120.9,313.0 L1121.2,313.4 L1121.5,313.2 L1121.8,312.0 L1122.1,311.3 L1122.4,310.8 L1122.7,310.0 L1123.0,310.2 L1123.3,307.7 L1123.6,308.5 L1123.9,308.8 L1124.2,308.6 L1124.5,307.3 L1124.8,304.8 L1125.1,305.1 L1125.4,306.3 L1125.7,306.5 L1126.0,307.4 L1126.4,307.2 L1126.7,307.8 L1127.0,307.7 L1127.3,307.0 L1127.6,305.6 L1127.9,304.8 L1128.2,304.7 L1128.5,304.7 L1128.8,304.5 L1129.1,304.1 L1129.4,304.1 L1129.7,304.0 L1130.0,303.8 L1130.3,303.7 L1130.6,304.3 L1130.9,304.5 L1131.2,304.1 L1131.6,304.6 L1131.9,303.8 L1132.2,303.8 L1132.5,302.7 L1132.8,302.4 L1133.1,304.1 L1133.4,306.4 L1133.7,307.4 L1134.0,307.5 L1134.3,306.1 L1134.6,306.4 L1134.9,307.4 L1135.2,307.9 L1135.5,307.7 L1135.8,308.6 L1136.1,308.4 L1136.5,309.0 L1136.8,309.1 L1137.1,309.1 L1137.4,311.0 L1137.7,312.7 L1138.0,313.7 L1138.3,313.1 L1138.6,312.8 L1138.9,312.0 L1139.2,311.6 L1139.5,311.6 L1139.8,309.5 L1140.1,308.7 L1140.4,307.9 L1140.7,308.9 L1141.0,309.8 L1141.3,310.0 L1141.6,311.6 L1141.9,311.3 L1142.2,313.8 L1142.5,315.2 L1142.8,315.9 L1143.1,314.9 L1143.4,314.0 L1143.8,312.9 L1144.1,313.2 L1144.4,313.8 L1144.7,314.6 L1145.0,314.9 L1145.3,314.9 L1145.6,313.1 L1145.9,312.4 L1146.2,312.7 L1146.6,312.2 L1146.9,313.0 L1147.2,312.7 L1147.5,313.6 L1147.8,314.6 L1148.1,311.8 L1148.4,311.1 L1148.8,312.1 L1149.0,313.1 L1149.3,312.8 L1149.6,312.8 L1149.9,313.5 L1150.2,314.6 L1150.5,315.6 L1150.8,314.6 L1151.1,313.9 L1151.4,312.9 L1151.7,312.4 L1152.0,313.0 L1152.3,313.3 L1152.6,313.3 L1152.9,313.1 L1153.2,315.1 L1153.5,315.6 L1153.9,315.2 L1154.2,315.7 L1154.5,315.5 L1154.8,315.2 L1155.1,314.8 L1155.4,312.4 L1155.7,311.2 L1156.0,311.0 L1156.3,310.6 L1156.6,310.5 L1156.9,310.0 L1157.2,308.9 L1157.5,309.9 L1157.8,310.5 L1158.1,310.0 L1158.5,314.0 L1158.8,319.4 L1159.2,323.5 L1159.5,323.7 L1159.8,322.7 L1160.1,323.4 L1160.4,324.3 L1160.7,323.0 L1161.0,322.9 L1161.4,324.1 L1161.7,324.3 L1162.0,322.1 L1162.3,322.5 L1162.6,322.1 L1162.9,321.8 L1163.2,321.1 L1163.5,321.3 L1163.9,321.3 L1164.2,322.8 L1164.5,322.4 L1164.8,322.3 L1165.1,321.8 L1165.4,320.4 L1165.7,319.9 L1166.0,319.5 L1166.4,317.2 L1166.7,318.8 L1167.0,318.6 L1167.3,318.9 L1167.6,318.8 L1167.9,318.4 L1168.2,318.4 L1168.5,319.4 L1168.9,320.2 L1169.2,319.9 L1169.5,320.7 L1169.8,321.4 L1170.1,320.9 L1170.4,321.3 L1170.7,321.7 L1171.0,321.6 L1171.4,321.9 L1171.7,321.5 L1172.0,320.4 L1172.3,319.8 L1172.6,318.6 L1172.9,320.9 L1173.2,321.7 L1173.5,321.4 L1173.8,319.9 L1174.0,320.5 L1174.3,321.2 L1174.6,319.6 L1174.9,319.0 L1175.2,320.0 L1175.5,320.2 L1175.8,321.5 L1176.1,319.8 L1176.4,318.3 L1176.7,316.7 L1177.0,314.6 L1177.3,312.4 L1177.6,311.3 L1177.9,312.1 L1178.2,310.9 L1178.5,310.7 L1178.8,308.3 L1179.1,308.1 L1179.4,307.4 L1179.7,306.3 L1180.0,304.2 L1180.3,304.9 L1180.6,305.3 L1180.9,305.3 L1181.2,304.9 L1181.5,305.3 L1181.8,304.8 L1182.1,303.5 L1182.4,302.9 L1182.7,304.7 L1183.0,303.7 L1183.3,303.5 L1183.6,303.2 L1183.9,301.8 L1184.2,302.7 L1184.5,304.6 L1184.8,305.0 L1185.1,305.0 L1185.3,305.9 L1185.6,306.6 L1185.9,304.0 L1186.2,304.5 L1186.5,304.8 L1186.9,305.3 L1187.2,306.2 L1187.5,306.4 L1187.8,306.9 L1188.1,305.1 L1188.5,303.3 L1188.8,302.2 L1189.1,300.9 L1189.4,301.3 L1189.7,302.6 L1190.0,302.7 L1190.3,303.6 L1190.6,303.4 L1190.9,302.3 L1191.2,302.5 L1191.5,302.5 L1191.8,303.2 L1192.0,303.4 L1192.3,303.4 L1192.6,303.7 L1192.9,305.7 L1193.2,307.0 L1193.5,308.1 L1193.8,310.2 L1194.1,310.1 L1194.4,308.9 L1194.7,309.5 L1195.0,311.2 L1195.3,308.0 L1195.6,305.2 L1195.9,304.4 L1196.2,302.0 L1196.5,300.8 L1196.8,299.0 L1197.1,297.1 L1197.4,295.7 L1197.8,294.4 L1198.1,295.2 L1198.4,294.7 L1198.8,294.6 L1199.0,293.1 L1199.3,292.6 L1199.6,293.2 L1199.9,294.2 L1200.2,294.9 L1200.5,294.5 L1200.8,293.9 L1201.1,293.1 L1201.4,291.4 L1201.7,293.5 L1202.0,294.1 L1202.3,294.8 L1202.6,294.4 L1202.9,294.0 L1203.2,293.8 L1203.5,293.7 L1203.9,292.0 L1204.2,291.9 L1204.5,292.0 L1204.8,290.5 L1205.1,291.2 L1205.4,290.4 L1205.7,291.3 L1206.0,290.8 L1206.4,291.0 L1206.7,291.2 L1207.0,291.6 L1207.3,292.5 L1207.6,292.2 L1207.9,293.6 L1208.2,293.7 L1208.5,293.6 L1208.9,294.8 L1209.2,294.0 L1209.5,294.4 L1209.8,294.2 L1210.1,294.3 L1210.4,293.8 L1210.7,293.3 L1211.0,293.6 L1211.2,294.2 L1211.5,293.4 L1211.8,293.4 L1212.1,293.9 L1212.4,293.4 L1212.7,293.9 L1213.0,293.4 L1213.3,295.0 L1213.6,295.5 L1213.9,295.6 L1214.2,296.0 L1214.5,295.2 L1214.8,294.4 L1215.1,293.6 L1215.4,294.7 L1215.7,295.7 L1216.0,296.0 L1216.3,294.3 L1216.6,292.8 L1216.9,292.7 L1217.2,294.6 L1217.5,296.0 L1217.8,297.0 L1218.1,295.7 L1218.4,295.6 L1218.7,294.4 L1219.0,294.4 L1219.3,296.1 L1219.6,297.4 L1219.9,296.2 L1220.2,296.2 L1220.5,296.4 L1220.8,295.6 L1221.1,296.7 L1221.4,295.9 L1221.7,296.0 L1222.0,297.4 L1222.3,298.0 L1222.6,297.0 L1222.9,297.6 L1223.2,299.2 L1223.5,299.2 L1223.8,298.1 L1224.0,297.1 L1224.3,296.0 L1224.6,294.2 L1224.9,293.5 L1225.2,293.1 L1225.5,293.5 L1225.8,291.9 L1226.1,291.5 L1226.4,291.3 L1226.7,291.0 L1227.0,291.8 L1227.3,291.4 L1227.6,290.5 L1227.9,292.1 L1228.2,289.8 L1228.5,288.5 L1228.8,288.9 L1229.1,287.5 L1229.4,288.9 L1229.7,288.7 L1230.0,289.8 L1230.3,290.2 L1230.6,289.1 L1230.9,289.2 L1231.2,291.8 L1231.6,291.4 L1231.9,291.1 L1232.2,289.4 L1232.5,290.4 L1232.8,290.4 L1233.1,289.8 L1233.4,290.1 L1233.8,290.5 L1234.1,290.6 L1234.4,292.2 L1234.7,290.1 L1235.0,290.1 L1235.3,290.5 L1235.6,290.3 L1235.9,290.7 L1236.2,291.9 L1236.5,291.3 L1236.8,291.6 L1237.1,292.7 L1237.4,291.3 L1237.7,290.9 L1238.0,291.2 L1238.3,293.3 L1238.6,294.4 L1238.9,292.8 L1239.2,293.5 L1239.5,291.4 L1239.8,291.3 L1240.1,292.6 L1240.4,291.9 L1240.7,292.5 L1241.0,292.5 L1241.4,291.8 L1241.7,292.0 L1242.0,293.4 L1242.3,292.7 L1242.6,293.7 L1242.9,294.1 L1243.2,292.8 L1243.5,292.9 L1243.8,293.8 L1244.1,294.1 L1244.4,296.3 L1244.7,297.0 L1245.0,297.0 L1245.3,296.3 L1245.6,297.1 L1245.9,298.1 L1246.2,298.9 L1246.6,298.5 L1246.9,298.0 L1247.2,297.6 L1247.5,298.9 L1247.8,299.4 L1248.1,299.2 L1248.4,298.9 L1248.8,297.1 L1249.1,297.1 L1249.4,294.6 L1249.7,294.8 L1250.0,295.6 L1250.3,296.8 L1250.6,296.9 L1250.9,296.6 L1251.2,295.9 L1251.6,295.9 L1251.9,296.0 L1252.2,296.7 L1252.5,297.2 L1252.8,297.8 L1253.1,297.9 L1253.4,297.9 L1253.8,298.6 L1254.1,298.0 L1254.4,297.3 L1254.7,298.1 L1255.0,297.1 L1255.3,297.3 L1255.6,296.9 L1255.9,294.8 L1256.2,295.7 L1256.6,294.4 L1256.9,295.2 L1257.2,294.6 L1257.5,294.5 L1257.8,295.0 L1258.1,295.0 L1258.4,294.6 L1258.8,294.0 L1259.1,294.7 L1259.4,295.0 L1259.7,295.0 L1260.0,295.0 L1260.3,295.4 L1260.6,295.7 L1260.9,295.3 L1261.2,296.0 L1261.5,294.8 L1261.8,294.4 L1262.1,293.2 L1262.4,291.0 L1262.7,289.1 L1263.0,288.6 L1263.3,286.7 L1263.6,286.0 L1263.9,285.2 L1264.2,283.5 L1264.5,284.2 L1264.8,284.2 L1265.1,283.2 L1265.4,283.5 L1265.7,283.7 L1266.0,283.9 L1266.4,284.0 L1266.7,284.5 L1267.0,284.0 L1267.3,284.0 L1267.6,283.2 L1267.9,281.5 L1268.2,281.2 L1268.5,281.5 L1268.9,280.2 L1269.2,280.9 L1269.5,281.3 L1269.8,281.6 L1270.1,281.6 L1270.4,280.7 L1270.7,280.3 L1271.0,280.8 L1271.4,280.5 L1271.7,279.4 L1272.0,280.0 L1272.3,280.2 L1272.6,279.6 L1272.9,279.6 L1273.2,279.5 L1273.5,279.0 L1273.9,278.3 L1274.2,277.5 L1274.5,278.0 L1274.8,278.3 L1275.1,277.2 L1275.4,277.2 L1275.7,276.0 L1276.0,274.7 L1276.3,274.0 L1276.6,274.0 L1276.9,272.1 L1277.2,271.5 L1277.5,272.4 L1277.8,272.3 L1278.1,272.4 L1278.4,272.1 L1278.8,272.4 L1279.1,272.6 L1279.4,273.1 L1279.7,272.7 L1280.0,273.1 L1280.3,271.0 L1280.6,271.9 L1280.9,272.9 L1281.2,273.3 L1281.5,272.9 L1281.8,271.6 L1282.1,269.8 L1282.4,270.9 L1282.7,271.0 L1283.0,270.3 L1283.3,271.1 L1283.6,271.2 L1283.9,271.8 L1284.2,272.1 L1284.5,271.6 L1284.8,271.1 L1285.1,271.3 L1285.4,270.9 L1285.7,271.3 L1286.0,270.6 L1286.4,271.3 L1286.7,270.0 L1287.0,269.8 L1287.3,269.6 L1287.6,270.5 L1287.9,268.8 L1288.2,270.0 L1288.5,272.0 L1288.8,272.0 L1289.1,272.8 L1289.4,273.1 L1289.7,274.0 L1290.0,274.3 L1290.3,275.3 L1290.6,275.2 L1290.9,274.6 L1291.2,274.9 L1291.5,276.2 L1291.8,275.7 L1292.1,276.3 L1292.4,276.4 L1292.6,275.2 L1292.9,274.3 L1293.2,273.6 L1293.5,273.1 L1293.9,272.6 L1294.2,272.4 L1294.5,270.8 L1294.8,270.5 L1295.1,271.7 L1295.4,271.5 L1295.7,268.2 L1296.0,269.0 L1296.4,268.6 L1296.7,269.0 L1297.0,268.8 L1297.3,267.5 L1297.6,266.7 L1297.9,265.3 L1298.2,264.5 L1298.5,263.3 L1298.8,263.8 L1299.0,262.4 L1299.3,262.6 L1299.6,263.6 L1299.9,263.8 L1300.2,263.3 L1300.5,262.9 L1300.8,262.7 L1301.1,262.5 L1301.4,260.5 L1301.7,259.9 L1302.0,257.7 L1302.3,254.9 L1302.6,252.8 L1302.9,252.3 L1303.2,250.8 L1303.5,249.2 L1303.8,249.4 L1304.1,249.0 L1304.4,248.1 L1304.7,248.7 L1305.0,249.2 L1305.3,247.3 L1305.7,247.1 L1306.0,246.7 L1306.3,246.8 L1306.6,247.1 L1306.9,247.2 L1307.2,247.6 L1307.5,248.4 L1307.8,249.3 L1308.1,250.2 L1308.4,250.1 L1308.7,248.3 L1309.0,248.0 L1309.3,248.9 L1309.6,248.9 L1309.9,247.8 L1310.2,248.1 L1310.5,247.5 L1310.8,247.5 L1311.1,247.2 L1311.5,248.2 L1311.8,249.9 L1312.1,250.3 L1312.4,251.8 L1312.7,251.2 L1313.0,248.8 L1313.3,248.1 L1313.6,248.1 L1313.9,248.6 L1314.2,248.8 L1314.5,248.8 L1314.8,250.0 L1315.1,250.7 L1315.4,250.2 L1315.7,250.2 L1316.0,250.3 L1316.3,250.4 L1316.6,250.9 L1316.9,250.6 L1317.2,250.3 L1317.5,251.2 L1317.8,251.3 L1318.1,251.6 L1318.4,253.1 L1318.8,253.9 L1319.1,254.2 L1319.4,255.2 L1319.7,255.8 L1320.0,254.4 L1320.3,254.6 L1320.6,255.4 L1320.9,256.4 L1321.2,256.8 L1321.5,256.0 L1321.8,256.8 L1322.1,257.5 L1322.4,256.5 L1322.7,256.0 L1323.0,255.6 L1323.3,255.1 L1323.6,254.3 L1323.9,254.1 L1324.2,254.1 L1324.5,253.7 L1324.8,253.3 L1325.1,251.2 L1325.4,250.4 L1325.7,250.6 L1326.0,250.4 L1326.3,251.0 L1326.6,250.1 L1326.9,249.2 L1327.2,249.2 L1327.5,249.8 L1327.8,249.5 L1328.1,249.7 L1328.4,248.4 L1328.7,249.1 L1329.0,248.1 L1329.3,248.5 L1329.6,249.2 L1329.9,249.5 L1330.2,248.6 L1330.5,247.9 L1330.8,248.2 L1331.1,249.1 L1331.5,249.0 L1331.8,248.8 L1332.1,248.1 L1332.4,247.5 L1332.7,247.3 L1333.0,248.5 L1333.3,249.2 L1333.6,250.0 L1334.0,249.7 L1334.3,250.2 L1334.6,248.6 L1334.9,249.6 L1335.2,250.2 L1335.5,249.7 L1335.8,250.7 L1336.1,249.8 L1336.5,249.6 L1336.8,250.1 L1337.1,250.3 L1337.4,251.7 L1337.7,253.0 L1338.0,254.2 L1338.3,253.3 L1338.6,253.5 L1339.0,255.6 L1339.3,256.2 L1339.6,255.7 L1339.9,254.9 L1340.2,254.6 L1340.5,256.1 L1340.8,256.8 L1341.1,259.0 L1341.5,259.6 L1341.8,258.7 L1342.1,256.2 L1342.4,256.7 L1342.6,255.0 L1342.9,254.3 L1343.2,254.2 L1343.5,253.3 L1343.8,253.7 L1344.1,252.2 L1344.4,251.9 L1344.7,251.4 L1345.0,251.1 L1345.3,250.9 L1345.6,250.2 L1345.9,250.1 L1346.2,250.9 L1346.5,251.5 L1346.8,250.9 L1347.1,251.1 L1347.4,249.6 L1347.7,250.2 L1348.0,251.3 L1348.3,253.4 L1348.6,255.2 L1348.9,255.8 L1349.2,256.1 L1349.5,258.6 L1349.8,260.6 L1350.1,259.5 L1350.4,259.3 L1350.7,259.5 L1351.0,259.7 L1351.3,258.5 L1351.6,257.9 L1351.9,257.5 L1352.2,255.9 L1352.5,255.2 L1352.8,254.9 L1353.1,255.7 L1353.4,257.1 L1353.8,255.8 L1354.1,255.5 L1354.4,255.1 L1354.7,254.5 L1355.0,254.4 L1355.3,255.4 L1355.6,254.7 L1355.9,254.7 L1356.2,253.5 L1356.5,254.3 L1356.8,255.1 L1357.1,255.4 L1357.4,255.2 L1357.7,255.5 L1358.0,255.4 L1358.3,255.5 L1358.6,256.8 L1359.0,258.0 L1359.3,258.6 L1359.6,257.8 L1359.9,258.0 L1360.2,259.6 L1360.5,258.1 L1360.8,257.7 L1361.1,259.1 L1361.5,257.2 L1361.8,256.0 L1362.1,256.3 L1362.4,256.3 L1362.7,255.2 L1363.0,255.6 L1363.3,255.4 L1363.6,255.1 L1363.9,254.8 L1364.2,255.1 L1364.5,255.0 L1364.8,253.9 L1365.1,252.6 L1365.4,252.3 L1365.7,252.9 L1366.0,254.3 L1366.4,253.2 L1366.7,252.4 L1367.0,252.9 L1367.3,254.1 L1367.6,254.0 L1367.9,254.3 L1368.2,254.7 L1368.5,254.4 L1368.8,254.7 L1369.1,254.4 L1369.4,255.0 L1369.7,253.3 L1370.0,254.3 L1370.3,255.0 L1370.6,255.4 L1370.9,254.4 L1371.2,254.1 L1371.5,254.6 L1371.8,253.7 L1372.1,251.7 L1372.4,251.0 L1372.7,250.2 L1373.0,250.2 L1373.3,250.6 L1373.6,250.0 L1373.9,249.2 L1374.2,249.5 L1374.5,250.1 L1374.8,249.6 L1375.1,248.4 L1375.4,248.8 L1375.7,248.9 L1376.0,250.2 L1376.3,249.5 L1376.6,249.7 L1376.9,250.2 L1377.2,249.4 L1377.5,248.2 L1377.8,246.5 L1378.1,245.8 L1378.4,244.4 L1378.7,243.2 L1379.0,240.8 L1379.3,239.7 L1379.6,238.7 L1379.9,238.2 L1380.1,236.9 L1380.4,235.7 L1380.7,235.6 L1381.0,234.6 L1381.3,234.6 L1381.6,235.2 L1381.9,234.5 L1382.2,234.3 L1382.5,233.3 L1382.8,232.5 L1383.1,232.5 L1383.4,232.6 L1383.8,233.8 L1384.1,234.9 L1384.4,235.2 L1384.7,233.5 L1385.0,233.2 L1385.3,231.7 L1385.6,230.5 L1385.9,230.9 L1386.2,230.4 L1386.5,231.4 L1386.8,231.9 L1387.1,232.0 L1387.4,232.2 L1387.7,231.6 L1388.0,232.1 L1388.3,231.5 L1388.6,231.9 L1389.0,231.3 L1389.3,231.6 L1389.6,230.9 L1389.9,230.9 L1390.2,229.3 L1390.5,227.3 L1390.8,227.3 L1391.1,227.5 L1391.4,229.1 L1391.7,230.7 L1391.9,230.8 L1392.2,232.3 L1392.5,232.5 L1392.8,231.3 L1393.1,231.6 L1393.4,230.9 L1393.8,232.1 L1394.1,232.4 L1394.4,232.1 L1394.7,231.4 L1395.0,231.1 L1395.3,230.9 L1395.6,230.4 L1395.9,230.5 L1396.2,231.4 L1396.5,231.7 L1396.8,231.5 L1397.1,233.1 L1397.4,232.4 L1397.7,234.6 L1398.0,235.2 L1398.3,235.3 L1398.6,233.3 L1399.0,232.2 L1399.3,230.5 L1399.6,229.6 L1399.9,229.4 L1400.2,230.0 L1400.5,229.0 L1400.8,228.3 L1401.1,228.7 L1401.4,228.0 L1401.7,226.9 L1402.0,226.7 L1402.3,226.9 L1402.6,226.7 L1402.9,227.3 L1403.2,227.9 L1403.5,229.3 L1403.8,228.8 L1404.1,228.4 L1404.4,228.3 L1404.7,228.6 L1405.0,229.4 L1405.3,229.8 L1405.6,230.5 L1405.9,230.6 L1406.2,230.1 L1406.6,229.6 L1406.9,230.8 L1407.2,231.6 L1407.5,231.5 L1407.8,231.5 L1408.1,230.4 L1408.4,229.2 L1408.7,228.9 L1409.0,230.0 L1409.3,231.8 L1409.6,231.8 L1409.9,232.9 L1410.2,232.5 L1410.5,233.4 L1410.8,233.3 L1411.1,234.3 L1411.4,235.7 L1411.7,236.3 L1412.0,237.7 L1412.3,238.8 L1412.6,238.6 L1412.9,238.7 L1413.2,238.0 L1413.5,235.6 L1413.8,237.4 L1414.1,236.3 L1414.4,235.6 L1414.7,236.3 L1415.0,236.5 L1415.3,236.8 L1415.6,237.7 L1415.9,239.1 L1416.2,238.6 L1416.5,239.8 L1416.8,238.6 L1417.1,239.4 L1417.4,239.6 L1417.7,240.7 L1418.0,238.7 L1418.3,238.7 L1418.6,238.2 L1419.0,238.9 L1419.3,238.2 L1419.6,237.7 L1419.9,237.9 L1420.2,239.8 L1420.5,240.1 L1420.8,239.0 L1421.1,238.8 L1421.4,238.7 L1421.7,239.8 L1422.0,240.7 L1422.3,242.2 L1422.6,243.2 L1422.9,243.0 L1423.2,243.2 L1423.5,242.8 L1423.8,242.9 L1424.0,242.5 L1424.3,241.0 L1424.6,240.1 L1424.9,240.5 L1425.2,238.8 L1425.5,237.9 L1425.8,237.7 L1426.1,238.0 L1426.5,237.3 L1426.8,236.5 L1427.1,236.6 L1427.4,235.9 L1427.7,235.8 L1428.0,235.5 L1428.3,235.7 L1428.6,234.6 L1429.0,233.5 L1429.3,232.8 L1429.6,234.2 L1429.9,235.9 L1430.2,234.9 L1430.5,234.3 L1430.8,235.3 L1431.1,234.8 L1431.5,233.9 L1431.8,231.9 L1432.1,232.5 L1432.4,232.5 L1432.6,232.6 L1432.9,233.7 L1433.2,233.0 L1433.5,233.1 L1433.9,231.0 L1434.2,230.4 L1434.5,228.9 L1434.8,228.8 L1435.1,229.9 L1435.4,227.6 L1435.7,227.8 L1436.0,227.0 L1436.3,225.9 L1436.5,225.7 L1436.8,225.2 L1437.1,226.7 L1437.4,225.7 L1437.7,224.9 L1438.0,224.9 L1438.3,225.3 L1438.6,226.0 L1438.9,225.9 L1439.2,226.2 L1439.5,227.1 L1439.8,226.4 L1440.1,227.3 L1440.4,226.7 L1440.7,225.5 L1441.0,225.6 L1441.3,225.9 L1441.6,225.9 L1441.9,225.4 L1442.2,224.9 L1442.5,225.7 L1442.8,225.3 L1443.2,226.1 L1443.5,228.0 L1443.8,228.7 L1444.1,228.9 L1444.4,228.4 L1444.8,227.7 L1445.1,228.5 L1445.4,228.1 L1445.7,226.5 L1446.1,227.2 L1446.4,228.4 L1446.7,229.9 L1447.0,228.7 L1447.3,229.7 L1447.6,230.2 L1447.9,229.7 L1448.2,229.9 L1448.5,230.7 L1448.8,228.2 L1449.1,227.7 L1449.4,227.2 L1449.7,227.3 L1450.0,227.3 L1450.3,224.9 L1450.6,226.0 L1450.9,224.5 L1451.2,223.6 L1451.5,223.8 L1451.8,223.1 L1452.1,224.1 L1452.5,223.8 L1452.8,222.2 L1453.1,221.0 L1453.4,219.9 L1453.7,220.1 L1454.0,220.3 L1454.3,219.9 L1454.6,220.6 L1454.9,222.0 L1455.3,223.6 L1455.6,224.0 L1455.9,222.2 L1456.2,221.7 L1456.5,221.7 L1456.8,222.7 L1457.1,223.8 L1457.4,222.8 L1457.7,222.5 L1458.0,223.7 L1458.3,222.4 L1458.6,222.5 L1458.9,223.8 L1459.2,223.6 L1459.5,223.7 L1459.8,223.8 L1460.1,224.8 L1460.4,223.7 L1460.7,223.6 L1461.0,223.3 L1461.3,222.5 L1461.6,222.6 L1461.9,221.0 L1462.2,220.7 L1462.5,220.7 L1462.8,220.3 L1463.1,220.9 L1463.4,220.9 L1463.7,221.2 L1464.0,221.5 L1464.3,221.7 L1464.6,222.2 L1464.9,222.4 L1465.2,222.1 L1465.5,223.4 L1465.8,224.1 L1466.1,223.9 L1466.4,224.4 L1466.7,227.1 L1467.0,227.1 L1467.3,226.9 L1467.6,227.1 L1467.9,226.8 L1468.2,225.7 L1468.5,226.3 L1468.8,225.9 L1469.1,227.7 L1469.4,228.2 L1469.7,228.4 L1470.0,227.0 L1470.3,224.9 L1470.6,224.1 L1470.9,222.8 L1471.2,222.1 L1471.5,221.1 L1471.8,219.9 L1472.1,220.6 L1472.4,222.5 L1472.7,223.6 L1473.0,222.5 L1473.3,222.1 L1473.6,222.1 L1473.9,223.0 L1474.2,222.9 L1474.5,221.7 L1474.8,220.6 L1475.1,221.0 L1475.4,221.7 L1475.7,223.5 L1476.0,224.9 L1476.4,225.4 L1476.7,226.2 L1477.0,224.9 L1477.3,224.5 L1477.6,223.8 L1477.9,224.4 L1478.2,223.4 L1478.5,221.1 L1478.8,218.2 L1479.1,218.5 L1479.4,218.5 L1479.7,218.1 L1480.0,219.5 L1480.4,220.5 L1480.7,220.7 L1481.0,220.9 L1481.3,220.9 L1481.6,222.2 L1482.0,222.8 L1482.3,224.2 L1482.6,225.7 L1482.9,224.8 L1483.2,224.3 L1483.5,224.8 L1483.8,225.1 L1484.1,225.5 L1484.4,224.1 L1484.7,224.4 L1485.0,223.3 L1485.3,223.5 L1485.7,222.7 L1486.0,223.4 L1486.3,223.2 L1486.6,224.1 L1486.9,223.6 L1487.2,223.6 L1487.5,223.7 L1487.8,224.4 L1488.1,226.0 L1488.4,227.5 L1488.7,227.2 L1489.0,227.3 L1489.3,227.1 L1489.7,227.1 L1490.0,228.9 L1490.3,229.7 L1490.6,230.5 L1490.9,230.1 L1491.3,231.0 L1491.6,233.1 L1491.9,234.6 L1492.2,235.4 L1492.5,236.1 L1492.9,237.4 L1493.2,237.5 L1493.5,238.3 L1493.8,239.4 L1494.1,237.9 L1494.5,237.5 L1494.8,235.7 L1495.1,234.7 L1495.4,235.4 L1495.7,235.1 L1496.0,233.7 L1496.3,233.5 L1496.6,233.1 L1496.9,233.0 L1497.2,232.7 L1497.5,233.8 L1497.8,234.5 L1498.1,233.9 L1498.4,235.8 L1498.7,234.8 L1499.0,234.3 L1499.3,234.5 L1499.6,236.0 L1499.9,237.6 L1500.2,237.0 L1500.5,237.0 L1500.8,236.5 L1501.1,236.7 L1501.4,236.9 L1501.7,236.3 L1502.0,236.4 L1502.3,236.3 L1502.6,237.0 L1502.9,235.9 L1503.2,234.9 L1503.5,234.5 L1503.8,234.7 L1504.1,234.7 L1504.4,237.0 L1504.7,236.3 L1505.1,235.4 L1505.4,236.6 L1505.7,237.0 L1506.0,238.4 L1506.3,238.0 L1506.7,236.2 L1507.0,236.0 L1507.3,234.7 L1507.6,234.8 L1507.9,233.7 L1508.3,233.7 L1508.6,233.6 L1508.9,233.9 L1509.2,234.2 L1509.5,231.9 L1509.9,232.1 L1510.2,233.6 L1510.5,232.4 L1510.8,233.4 L1511.1,234.6 L1511.5,234.5 L1511.8,235.3 L1512.1,235.1 L1512.4,234.8 L1512.7,235.6 L1513.1,235.4 L1513.4,237.0 L1513.7,237.6 L1514.0,239.5 L1514.3,240.3 L1514.7,240.2 L1515.0,242.5 L1515.3,242.5 L1515.6,245.5 L1516.0,246.7 L1516.3,249.8 L1516.6,250.2 L1516.9,250.3 L1517.2,250.0 L1517.6,250.0 L1517.9,250.6 L1518.2,250.4 L1518.5,251.3 L1518.8,250.6 L1519.1,251.9 L1519.5,251.3 L1519.8,250.5 L1520.1,249.8" stroke="#1b365d" stroke-width="2.45"/>
<path d="M155.3,571.1 L155.6,570.9 L155.9,570.9 L156.2,570.5 L156.5,570.4 L156.8,570.6 L157.1,570.5 L157.5,571.0 L157.8,570.4 L158.1,570.2 L158.4,569.7 L158.7,569.2 L159.0,568.9 L159.3,568.8 L159.6,568.8 L159.9,568.8 L160.2,569.5 L160.5,569.6 L160.8,568.8 L161.1,568.9 L161.4,568.6 L161.8,568.5 L162.1,569.0 L162.4,568.9 L162.7,568.2 L163.0,568.3 L163.3,568.2 L163.6,567.8 L163.9,567.5 L164.2,567.2 L164.5,567.2 L164.8,567.1 L165.1,567.2 L165.4,567.9 L165.7,567.6 L166.0,567.3 L166.3,567.2 L166.7,567.7 L167.0,567.5 L167.3,568.1 L167.6,567.6 L167.9,567.2 L168.2,567.2 L168.5,566.9 L168.8,566.6 L169.1,566.8 L169.4,567.2 L169.7,567.2 L170.0,567.1 L170.3,567.7 L170.6,567.9 L170.9,567.8 L171.2,568.3 L171.6,567.9 L171.9,567.9 L172.2,568.1 L172.5,568.0 L172.8,567.7 L173.1,567.8 L173.4,567.5 L173.7,567.2 L174.0,566.7 L174.3,567.2 L174.6,566.9 L174.9,567.3 L175.2,567.4 L175.5,567.2 L175.8,567.4 L176.2,567.4 L176.5,567.4 L176.8,566.8 L177.1,566.7 L177.4,567.0 L177.7,567.2 L178.0,567.5 L178.3,568.0 L178.6,568.1 L178.9,568.8 L179.2,568.2 L179.5,568.0 L179.8,566.9 L180.1,567.2 L180.4,567.1 L180.7,567.7 L181.1,567.5 L181.4,566.6 L181.7,567.1 L182.0,566.5 L182.3,565.9 L182.6,565.7 L182.9,565.9 L183.2,565.6 L183.5,565.6 L183.8,564.8 L184.1,565.4 L184.4,565.3 L184.7,565.2 L185.0,565.4 L185.3,565.4 L185.6,565.4 L186.0,564.9 L186.3,564.8 L186.6,564.9 L186.9,565.2 L187.2,565.1 L187.5,565.0 L187.8,565.1 L188.1,565.2 L188.4,565.2 L188.7,565.0 L189.0,564.8 L189.3,565.1 L189.6,565.2 L189.9,565.1 L190.2,566.4 L190.6,566.7 L190.9,566.9 L191.2,566.9 L191.5,566.4 L191.8,566.8 L192.1,566.7 L192.4,566.5 L192.7,566.8 L193.0,567.0 L193.3,567.0 L193.6,566.8 L193.9,567.5 L194.2,567.5 L194.5,567.0 L194.8,567.1 L195.1,567.0 L195.5,566.9 L195.8,567.0 L196.1,566.9 L196.4,567.5 L196.7,567.5 L197.0,567.4 L197.3,567.7 L197.6,567.3 L197.9,567.6 L198.2,567.4 L198.5,567.7 L198.8,567.2 L199.1,567.2 L199.4,566.4 L199.7,566.1 L200.0,565.9 L200.4,565.9 L200.7,566.6 L201.0,567.1 L201.3,566.4 L201.6,566.0 L201.9,566.3 L202.2,566.3 L202.5,565.6 L202.8,565.8 L203.1,565.4 L203.4,565.1 L203.7,564.6 L204.0,564.5 L204.3,565.5 L204.6,565.6 L204.9,565.6 L205.2,566.7 L205.5,566.5 L205.8,566.5 L206.1,566.4 L206.4,566.6 L206.7,566.5 L207.0,567.1 L207.3,567.0 L207.6,567.2 L207.9,567.3 L208.2,567.0 L208.5,566.7 L208.8,566.7 L209.0,566.0 L209.3,566.3 L209.6,566.6 L209.9,567.0 L210.2,567.2 L210.5,567.6 L210.8,567.8 L211.1,568.3 L211.4,567.9 L211.7,568.6 L212.0,568.5 L212.3,569.0 L212.6,569.1 L212.9,569.2 L213.2,568.8 L213.5,569.3 L213.8,568.9 L214.1,568.3 L214.4,568.4 L214.7,568.5 L215.0,568.5 L215.3,568.1 L215.6,567.8 L215.9,568.1 L216.2,567.7 L216.5,567.9 L216.8,568.1 L217.1,568.1 L217.4,567.6 L217.7,568.4 L218.0,568.4 L218.3,568.4 L218.6,568.3 L218.9,567.8 L219.2,567.7 L219.5,567.7 L219.8,567.2 L220.1,567.1 L220.4,567.5 L220.7,567.5 L221.0,567.4 L221.2,567.7 L221.5,567.9 L221.8,568.2 L222.1,567.7 L222.4,566.9 L222.7,567.1 L223.0,567.0 L223.3,566.7 L223.6,566.8 L223.9,566.5 L224.2,566.1 L224.5,566.7 L224.8,566.0 L225.1,566.2 L225.4,566.5 L225.7,567.0 L226.0,567.0 L226.3,567.1 L226.6,566.6 L226.9,566.5 L227.2,565.6 L227.5,565.2 L227.8,565.2 L228.1,565.2 L228.4,565.0 L228.7,565.4 L229.0,564.8 L229.3,564.8 L229.6,564.7 L230.0,564.7 L230.3,564.7 L230.6,565.5 L230.9,565.1 L231.2,565.6 L231.5,566.1 L231.8,566.1 L232.1,565.8 L232.4,565.4 L232.7,565.0 L233.0,565.8 L233.3,565.0 L233.6,565.1 L233.9,564.9 L234.2,565.6 L234.5,565.7 L234.9,565.2 L235.2,565.0 L235.5,565.1 L235.8,565.1 L236.1,564.7 L236.4,564.6 L236.7,564.4 L237.0,564.6 L237.3,564.7 L237.6,564.8 L237.9,564.6 L238.2,564.9 L238.5,564.7 L238.8,564.4 L239.1,564.3 L239.4,564.2 L239.7,564.1 L240.0,563.3 L240.3,563.9 L240.6,564.2 L240.9,564.7 L241.2,564.6 L241.5,564.9 L241.8,565.0 L242.1,565.1 L242.4,565.8 L242.7,565.6 L243.0,565.9 L243.3,565.2 L243.6,565.4 L243.9,565.4 L244.2,565.0 L244.5,564.8 L244.8,564.0 L245.1,563.6 L245.4,563.7 L245.7,562.7 L246.0,563.1 L246.2,563.5 L246.5,563.1 L246.8,562.5 L247.1,561.8 L247.4,561.2 L247.7,560.8 L248.0,561.6 L248.3,561.0 L248.6,561.2 L248.9,561.6 L249.2,561.2 L249.5,561.0 L249.8,561.1 L250.1,560.8 L250.4,561.2 L250.7,561.9 L251.0,561.8 L251.3,561.4 L251.6,561.5 L251.9,561.6 L252.2,561.2 L252.5,561.0 L252.8,561.0 L253.1,561.1 L253.4,561.4 L253.7,561.1 L254.0,560.5 L254.3,559.8 L254.6,560.4 L254.9,560.0 L255.2,559.7 L255.5,560.5 L255.8,560.7 L256.1,561.4 L256.4,561.1 L256.7,560.7 L257.0,560.3 L257.3,560.3 L257.6,560.3 L258.0,560.2 L258.3,560.9 L258.6,561.3 L258.9,560.6 L259.2,560.6 L259.5,560.7 L259.8,560.2 L260.1,560.9 L260.4,561.1 L260.7,561.5 L261.0,561.0 L261.3,560.4 L261.6,560.5 L261.9,560.2 L262.2,559.8 L262.5,559.5 L262.9,559.4 L263.2,559.3 L263.5,559.0 L263.8,559.0 L264.1,559.9 L264.4,560.2 L264.7,559.8 L265.0,560.4 L265.3,560.9 L265.6,560.9 L265.9,561.1 L266.2,560.9 L266.6,562.0 L266.9,562.3 L267.2,562.4 L267.5,562.8 L267.8,563.4 L268.1,563.5 L268.4,562.9 L268.7,562.5 L269.0,562.3 L269.4,561.5 L269.7,561.4 L270.0,561.0 L270.3,560.9 L270.6,560.2 L270.9,559.4 L271.2,559.3 L271.5,559.1 L271.8,558.5 L272.1,557.7 L272.4,557.6 L272.7,558.0 L273.0,557.7 L273.3,558.3 L273.6,558.3 L273.9,558.3 L274.2,558.3 L274.5,558.6 L274.8,557.8 L275.1,557.7 L275.4,558.0 L275.7,557.2 L276.0,557.2 L276.3,557.3 L276.6,557.8 L276.9,558.3 L277.2,558.1 L277.5,558.8 L277.8,558.2 L278.1,557.5 L278.4,557.8 L278.7,557.9 L279.0,557.3 L279.3,557.6 L279.6,557.8 L279.9,557.9 L280.2,557.6 L280.5,556.9 L280.8,556.1 L281.1,555.8 L281.4,555.6 L281.7,555.2 L282.0,555.1 L282.3,555.6 L282.6,555.2 L282.9,555.0 L283.2,556.0 L283.5,555.8 L283.8,555.7 L284.0,556.2 L284.3,555.6 L284.6,556.4 L284.9,556.0 L285.2,555.7 L285.5,555.3 L285.8,555.0 L286.1,554.9 L286.4,555.3 L286.7,555.4 L287.0,556.1 L287.3,556.5 L287.6,556.1 L287.9,556.2 L288.2,556.0 L288.5,555.8 L288.8,555.8 L289.1,556.0 L289.4,556.1 L289.7,555.2 L290.0,555.2 L290.3,555.0 L290.6,555.7 L290.9,555.6 L291.2,555.5 L291.5,555.5 L291.8,555.8 L292.1,555.3 L292.4,555.3 L292.7,555.2 L293.0,555.2 L293.3,555.0 L293.6,554.8 L293.9,554.8 L294.2,554.3 L294.5,554.9 L294.8,554.9 L295.1,554.1 L295.4,554.0 L295.7,554.3 L296.0,554.2 L296.2,554.2 L296.6,553.1 L296.9,553.6 L297.2,553.4 L297.5,552.5 L297.8,552.2 L298.1,552.7 L298.4,552.7 L298.7,551.9 L299.0,551.6 L299.3,551.6 L299.6,552.3 L299.9,552.2 L300.2,552.4 L300.5,552.1 L300.8,552.0 L301.2,551.5 L301.5,550.8 L301.8,550.1 L302.1,549.8 L302.4,550.1 L302.7,550.0 L303.0,550.3 L303.3,550.5 L303.6,550.4 L303.9,550.1 L304.2,550.8 L304.5,551.2 L304.8,551.5 L305.1,552.4 L305.4,552.9 L305.7,552.9 L306.1,552.9 L306.4,553.0 L306.7,553.8 L307.0,553.1 L307.3,552.1 L307.6,551.6 L307.9,551.4 L308.2,550.9 L308.5,551.0 L308.8,551.0 L309.0,550.7 L309.3,550.5 L309.6,551.0 L309.9,551.6 L310.2,552.0 L310.5,551.6 L310.8,551.9 L311.1,551.1 L311.4,550.2 L311.7,550.6 L312.0,550.7 L312.3,550.7 L312.6,551.0 L312.9,551.5 L313.2,551.3 L313.5,551.2 L313.8,551.2 L314.1,551.3 L314.4,551.1 L314.7,550.3 L315.0,551.0 L315.3,550.7 L315.6,550.5 L315.9,550.7 L316.2,550.6 L316.5,550.8 L316.8,551.8 L317.1,552.3 L317.4,552.1 L317.7,552.2 L318.0,552.2 L318.3,552.7 L318.6,552.3 L318.9,551.9 L319.2,551.2 L319.5,551.4 L319.8,551.5 L320.1,551.8 L320.4,552.1 L320.7,551.6 L321.0,551.4 L321.2,550.9 L321.5,551.4 L321.8,551.8 L322.1,551.2 L322.4,551.3 L322.7,551.4 L323.0,551.4 L323.3,551.7 L323.6,551.5 L323.9,551.4 L324.2,551.2 L324.5,551.0 L324.8,550.6 L325.1,551.2 L325.4,551.4 L325.7,551.4 L326.0,550.8 L326.3,551.8 L326.6,551.8 L326.9,552.0 L327.2,552.3 L327.5,553.0 L327.8,553.0 L328.1,552.1 L328.4,552.0 L328.7,552.1 L329.0,551.9 L329.3,552.6 L329.6,552.4 L329.9,552.6 L330.2,552.4 L330.5,552.7 L330.8,552.5 L331.1,552.9 L331.4,553.0 L331.7,553.1 L332.0,553.2 L332.3,552.6 L332.6,552.3 L332.9,552.4 L333.2,552.2 L333.5,552.7 L333.8,553.0 L334.0,552.7 L334.3,553.1 L334.6,553.0 L334.9,553.2 L335.2,553.7 L335.5,553.2 L335.8,552.8 L336.1,552.8 L336.4,552.7 L336.7,552.0 L337.0,552.2 L337.3,552.3 L337.6,552.3 L337.9,552.4 L338.2,552.7 L338.5,552.3 L338.8,552.4 L339.1,552.2 L339.4,552.0 L339.7,551.6 L340.0,552.1 L340.3,551.2 L340.6,551.0 L340.9,551.4 L341.2,551.3 L341.5,551.1 L341.8,551.7 L342.1,551.4 L342.4,551.3 L342.7,551.6 L343.0,551.5 L343.3,551.4 L343.6,551.5 L343.9,552.0 L344.2,551.7 L344.5,552.0 L344.8,552.0 L345.1,552.0 L345.4,551.6 L345.7,552.3 L346.0,552.7 L346.2,552.8 L346.5,552.8 L346.8,553.5 L347.1,553.4 L347.4,553.1 L347.7,552.8 L348.0,552.9 L348.3,553.1 L348.6,552.1 L348.9,552.0 L349.2,551.9 L349.5,552.1 L349.8,551.7 L350.1,552.1 L350.4,552.7 L350.7,552.2 L351.0,551.9 L351.3,552.0 L351.6,552.3 L351.9,552.1 L352.2,552.3 L352.5,551.5 L352.8,551.8 L353.1,551.9 L353.4,552.3 L353.7,552.4 L354.0,552.6 L354.3,552.4 L354.6,552.9 L354.9,552.1 L355.2,552.1 L355.5,551.8 L355.8,552.6 L356.1,552.1 L356.4,552.1 L356.7,552.0 L357.0,552.3 L357.3,552.3 L357.6,551.8 L357.9,551.7 L358.2,552.1 L358.5,552.4 L358.8,552.1 L359.1,552.2 L359.4,552.2 L359.7,552.8 L360.0,553.3 L360.3,553.7 L360.6,554.1 L360.9,554.8 L361.2,555.9 L361.6,556.9 L361.9,557.3 L362.2,557.0 L362.5,556.2 L362.8,556.1 L363.1,555.8 L363.4,555.6 L363.8,555.8 L364.1,555.6 L364.4,555.3 L364.7,555.2 L365.0,554.2 L365.3,554.1 L365.6,554.1 L365.9,554.6 L366.2,554.7 L366.5,554.3 L366.8,554.1 L367.1,554.1 L367.4,554.0 L367.7,554.0 L368.0,553.5 L368.3,553.6 L368.6,553.2 L368.9,553.2 L369.2,553.0 L369.5,553.0 L369.8,553.7 L370.1,553.6 L370.4,553.6 L370.7,552.7 L371.0,552.4 L371.2,552.6 L371.5,552.6 L371.8,553.0 L372.1,553.0 L372.4,553.4 L372.7,553.6 L373.0,554.2 L373.3,554.2 L373.6,554.3 L373.9,554.0 L374.2,553.5 L374.5,553.8 L374.8,553.0 L375.1,552.5 L375.4,553.0 L375.7,552.8 L376.0,552.8 L376.3,552.7 L376.6,552.5 L376.9,553.2 L377.2,553.0 L377.5,553.4 L377.8,553.2 L378.1,552.7 L378.4,552.5 L378.7,552.3 L379.0,553.1 L379.3,552.7 L379.6,552.7 L379.9,551.9 L380.2,552.0 L380.5,551.7 L380.8,551.7 L381.1,551.6 L381.4,551.2 L381.7,551.0 L382.0,551.0 L382.3,551.4 L382.6,551.3 L382.9,551.2 L383.2,550.6 L383.5,550.9 L383.8,550.8 L384.0,550.4 L384.3,550.9 L384.6,551.2 L384.9,551.1 L385.2,551.1 L385.5,550.5 L385.8,549.5 L386.1,549.5 L386.4,548.9 L386.7,549.1 L387.0,548.9 L387.3,549.0 L387.6,548.7 L387.9,548.8 L388.2,549.1 L388.5,549.1 L388.8,549.3 L389.1,549.6 L389.4,549.5 L389.7,548.8 L390.0,549.0 L390.3,548.8 L390.6,548.5 L390.9,547.8 L391.2,547.2 L391.5,547.8 L391.8,548.6 L392.1,549.3 L392.4,550.2 L392.7,549.5 L393.0,549.9 L393.3,549.4 L393.6,548.9 L393.9,549.2 L394.2,549.7 L394.5,549.4 L394.8,548.8 L395.1,548.3 L395.4,548.3 L395.7,548.7 L396.0,549.6 L396.3,549.7 L396.6,549.2 L396.9,548.7 L397.2,548.7 L397.5,548.8 L397.8,547.9 L398.1,548.0 L398.4,547.6 L398.6,547.9 L398.9,547.2 L399.2,547.5 L399.5,548.0 L399.8,548.4 L400.1,549.0 L400.4,549.0 L400.7,548.9 L401.0,548.4 L401.3,548.6 L401.6,548.4 L401.9,548.8 L402.2,549.3 L402.5,549.4 L402.8,550.2 L403.2,549.8 L403.5,549.7 L403.8,550.6 L404.1,550.7 L404.4,551.1 L404.7,550.2 L405.0,551.0 L405.3,550.9 L405.6,550.8 L405.9,551.4 L406.2,551.6 L406.5,551.1 L406.8,551.8 L407.2,551.6 L407.5,551.6 L407.8,551.6 L408.1,551.6 L408.4,551.6 L408.7,551.6 L409.0,551.6 L409.3,552.4 L409.6,552.2 L409.9,552.2 L410.1,551.8 L410.4,552.2 L410.7,552.2 L411.0,552.0 L411.3,552.3 L411.6,553.1 L411.9,552.9 L412.2,553.1 L412.5,553.5 L412.8,554.1 L413.1,554.6 L413.4,554.6 L413.7,555.3 L414.0,555.6 L414.3,554.9 L414.6,554.5 L414.9,553.9 L415.2,553.3 L415.5,552.7 L415.8,552.5 L416.1,552.1 L416.4,551.7 L416.7,551.0 L417.0,551.0 L417.3,551.0 L417.6,550.7 L417.9,551.1 L418.2,550.5 L418.5,550.2 L418.8,550.5 L419.1,550.3 L419.4,550.2 L419.7,550.0 L420.0,550.0 L420.3,550.1 L420.6,550.3 L420.9,550.0 L421.2,549.8 L421.5,549.0 L421.8,548.7 L422.2,548.9 L422.5,548.8 L422.8,549.3 L423.1,549.1 L423.4,549.2 L423.7,549.5 L424.0,549.0 L424.3,549.5 L424.6,548.9 L424.9,548.8 L425.2,548.0 L425.5,547.9 L425.8,547.4 L426.2,547.8 L426.5,546.9 L426.8,547.1 L427.1,547.2 L427.4,547.4 L427.7,547.7 L428.0,548.0 L428.3,547.7 L428.6,547.9 L428.9,547.6 L429.2,547.4 L429.5,547.3 L429.8,547.1 L430.2,546.9 L430.5,547.3 L430.8,547.3 L431.1,546.6 L431.4,546.3 L431.7,546.1 L432.0,547.0 L432.3,547.3 L432.6,547.3 L432.9,547.7 L433.2,547.0 L433.5,547.8 L433.8,547.9 L434.1,547.8 L434.4,548.3 L434.7,548.2 L435.0,548.0 L435.3,548.6 L435.6,549.6 L435.9,549.7 L436.2,549.9 L436.5,550.1 L436.8,550.5 L437.1,550.6 L437.4,550.9 L437.7,550.8 L438.0,551.0 L438.3,551.2 L438.6,550.5 L438.9,550.7 L439.2,551.2 L439.5,550.8 L439.8,550.6 L440.2,550.5 L440.5,550.4 L440.8,549.8 L441.1,550.0 L441.4,550.2 L441.7,550.4 L442.0,550.6 L442.3,550.1 L442.6,549.9 L442.9,549.4 L443.2,550.2 L443.5,549.9 L443.8,550.0 L444.2,550.4 L444.5,550.1 L444.8,550.0 L445.1,550.0 L445.4,550.4 L445.7,549.7 L446.0,549.6 L446.3,549.6 L446.6,549.7 L446.9,549.2 L447.2,549.5 L447.5,549.5 L447.8,549.0 L448.1,548.5 L448.4,549.1 L448.7,548.8 L449.0,548.0 L449.3,548.3 L449.6,548.1 L449.9,548.2 L450.2,548.6 L450.5,548.4 L450.8,548.0 L451.1,548.9 L451.4,548.5 L451.7,548.2 L452.0,548.4 L452.3,549.0 L452.6,549.4 L452.9,549.5 L453.1,550.2 L453.4,550.2 L453.7,550.3 L454.0,551.0 L454.3,550.7 L454.6,550.2 L454.9,549.9 L455.1,549.3 L455.4,548.9 L455.7,548.0 L456.0,547.0 L456.3,546.9 L456.6,546.9 L456.9,546.4 L457.2,545.7 L457.5,545.3 L457.8,545.4 L458.1,545.0 L458.4,544.5 L458.7,544.1 L459.0,543.6 L459.3,543.8 L459.6,543.6 L459.9,543.6 L460.2,543.5 L460.5,543.2 L460.8,543.2 L461.2,543.3 L461.5,542.6 L461.8,542.7 L462.1,542.8 L462.4,542.7 L462.7,542.3 L463.0,542.0 L463.3,542.3 L463.6,541.9 L463.9,542.3 L464.2,542.1 L464.5,542.3 L464.8,541.1 L465.2,541.3 L465.5,541.4 L465.8,540.7 L466.1,541.1 L466.4,540.9 L466.7,540.5 L467.0,541.0 L467.3,541.2 L467.6,541.3 L467.9,541.4 L468.2,541.5 L468.5,540.5 L468.8,540.1 L469.1,540.4 L469.4,540.3 L469.7,540.0 L470.0,539.6 L470.3,539.7 L470.6,539.6 L470.9,539.8 L471.2,538.9 L471.5,539.5 L471.8,539.7 L472.2,538.8 L472.5,539.1 L472.8,539.4 L473.1,539.5 L473.4,540.0 L473.7,540.5 L474.0,541.0 L474.3,540.6 L474.6,540.0 L474.9,540.0 L475.2,540.6 L475.5,540.1 L475.8,540.2 L476.2,540.2 L476.5,540.4 L476.8,540.0 L477.1,540.5 L477.4,540.7 L477.7,541.3 L478.0,541.6 L478.3,541.1 L478.6,541.0 L478.9,541.1 L479.2,540.8 L479.5,540.0 L479.8,539.7 L480.1,539.6 L480.4,539.4 L480.7,539.6 L481.0,539.6 L481.3,539.3 L481.6,539.9 L481.9,540.0 L482.2,540.1 L482.5,539.9 L482.8,539.3 L483.1,538.3 L483.4,538.3 L483.7,538.5 L484.0,539.0 L484.3,538.6 L484.6,538.4 L484.9,538.2 L485.2,538.3 L485.5,537.9 L485.8,537.5 L486.1,536.8 L486.4,536.7 L486.7,537.0 L487.0,536.4 L487.3,536.3 L487.6,536.9 L487.9,536.6 L488.2,535.9 L488.5,535.5 L488.8,535.9 L489.2,536.0 L489.5,535.7 L489.8,535.5 L490.1,536.0 L490.4,535.5 L490.7,536.1 L491.0,536.0 L491.3,536.5 L491.6,536.3 L491.9,536.2 L492.2,537.4 L492.5,537.6 L492.8,537.4 L493.1,537.9 L493.4,537.8 L493.7,537.7 L494.0,537.6 L494.3,537.4 L494.6,537.9 L494.9,537.2 L495.2,537.3 L495.5,536.6 L495.8,536.8 L496.1,536.6 L496.4,536.8 L496.7,536.7 L497.0,537.0 L497.3,537.3 L497.6,537.5 L497.9,537.8 L498.2,537.7 L498.5,537.6 L498.8,537.3 L499.2,537.6 L499.5,537.8 L499.8,537.8 L500.1,537.4 L500.4,537.4 L500.7,537.6 L501.0,538.0 L501.3,537.9 L501.6,538.4 L501.9,538.1 L502.2,538.1 L502.5,537.8 L502.8,538.1 L503.1,537.9 L503.4,537.8 L503.7,538.4 L504.0,539.0 L504.3,538.2 L504.6,538.5 L504.9,538.7 L505.2,538.9 L505.5,538.6 L505.8,539.1 L506.1,539.2 L506.4,538.5 L506.7,537.5 L507.0,537.0 L507.3,536.8 L507.6,537.7 L507.9,536.8 L508.2,536.7 L508.5,536.4 L508.8,536.1 L509.1,536.0 L509.4,536.0 L509.7,535.7 L510.0,536.0 L510.3,536.2 L510.6,536.6 L510.9,537.0 L511.2,536.5 L511.5,537.0 L511.8,536.6 L512.2,536.5 L512.5,536.3 L512.8,535.9 L513.1,535.7 L513.4,535.0 L513.7,535.1 L514.0,535.0 L514.3,534.6 L514.6,534.5 L514.9,534.5 L515.2,534.3 L515.5,533.4 L515.8,533.5 L516.2,533.4 L516.5,534.1 L516.8,534.9 L517.1,535.2 L517.4,535.3 L517.7,535.3 L518.0,535.0 L518.3,534.9 L518.6,534.6 L518.9,534.3 L519.2,534.0 L519.5,534.5 L519.8,535.3 L520.2,534.2 L520.5,534.2 L520.8,533.4 L521.1,532.9 L521.4,532.8 L521.7,532.7 L522.0,534.0 L522.3,534.1 L522.6,533.8 L522.9,533.2 L523.2,533.4 L523.5,533.2 L523.8,533.1 L524.2,532.5 L524.5,533.1 L524.8,533.3 L525.1,533.8 L525.4,533.6 L525.7,533.7 L526.0,533.6 L526.3,533.3 L526.6,533.6 L526.9,532.9 L527.2,532.8 L527.5,532.3 L527.8,532.4 L528.2,531.9 L528.5,531.9 L528.8,531.7 L529.1,531.5 L529.4,531.4 L529.7,532.3 L530.0,532.0 L530.3,532.2 L530.6,531.8 L530.9,532.7 L531.2,532.5 L531.5,532.6 L531.8,531.8 L532.2,532.1 L532.5,531.8 L532.8,531.2 L533.1,530.9 L533.4,531.3 L533.7,530.8 L534.0,530.6 L534.3,531.1 L534.6,531.5 L534.9,531.0 L535.2,530.4 L535.5,530.8 L535.8,531.0 L536.2,531.3 L536.5,531.6 L536.8,531.7 L537.1,531.9 L537.4,531.7 L537.7,531.6 L538.0,531.6 L538.3,531.4 L538.6,531.4 L538.9,532.2 L539.2,532.2 L539.5,532.6 L539.8,532.8 L540.2,532.4 L540.5,532.7 L540.8,532.1 L541.1,532.3 L541.4,532.3 L541.7,532.1 L542.0,532.4 L542.3,532.3 L542.6,533.2 L542.9,532.5 L543.2,533.1 L543.5,533.6 L543.8,533.9 L544.2,533.5 L544.5,533.0 L544.8,532.3 L545.1,532.4 L545.4,532.4 L545.7,532.8 L546.0,533.0 L546.3,533.1 L546.6,532.4 L546.9,532.3 L547.2,532.3 L547.5,532.6 L547.8,531.5 L548.2,531.8 L548.5,531.0 L548.8,530.9 L549.1,530.9 L549.4,531.6 L549.7,531.7 L550.0,531.6 L550.3,531.4 L550.6,531.2 L550.9,530.7 L551.2,530.8 L551.5,530.6 L551.8,531.2 L552.2,530.9 L552.5,531.3 L552.8,531.4 L553.1,531.2 L553.4,531.3 L553.7,530.7 L554.0,531.0 L554.3,530.8 L554.6,530.4 L554.9,530.3 L555.2,530.3 L555.5,530.5 L555.8,530.4 L556.2,530.0 L556.5,530.0 L556.8,529.1 L557.1,529.5 L557.4,529.2 L557.7,529.2 L558.0,529.6 L558.3,529.3 L558.6,529.2 L558.9,529.3 L559.2,529.0 L559.5,529.4 L559.8,528.7 L560.1,528.6 L560.4,528.7 L560.7,528.8 L561.0,528.6 L561.3,529.1 L561.6,529.6 L561.9,529.5 L562.2,529.8 L562.5,529.2 L562.8,529.5 L563.1,529.5 L563.4,529.8 L563.7,530.0 L564.0,530.0 L564.3,530.4 L564.6,530.2 L564.9,529.8 L565.2,529.7 L565.5,530.4 L565.8,530.8 L566.1,530.9 L566.4,531.0 L566.7,531.7 L567.0,532.0 L567.3,532.6 L567.6,532.4 L567.9,531.9 L568.2,531.0 L568.5,530.7 L568.8,530.8 L569.1,530.1 L569.4,530.3 L569.7,530.5 L570.0,530.0 L570.3,530.2 L570.6,529.7 L570.9,529.7 L571.2,529.6 L571.5,529.9 L571.8,529.5 L572.2,529.4 L572.5,529.6 L572.8,529.5 L573.1,529.3 L573.4,529.1 L573.7,529.5 L574.0,529.6 L574.3,529.8 L574.6,530.0 L574.9,530.1 L575.2,530.2 L575.5,529.8 L575.8,529.7 L576.2,529.9 L576.5,529.3 L576.8,528.8 L577.1,529.0 L577.4,529.6 L577.7,529.7 L578.0,529.6 L578.3,530.0 L578.6,530.2 L578.9,530.5 L579.2,530.7 L579.5,530.6 L579.8,530.7 L580.2,531.1 L580.5,531.3 L580.8,530.5 L581.1,531.0 L581.4,530.6 L581.7,529.9 L582.0,529.2 L582.3,529.4 L582.6,528.5 L582.9,528.1 L583.2,528.2 L583.5,528.5 L583.8,529.1 L584.2,529.2 L584.5,528.9 L584.8,528.7 L585.1,529.0 L585.4,529.1 L585.7,529.2 L586.0,529.0 L586.3,528.7 L586.6,528.4 L586.9,528.5 L587.2,528.7 L587.5,529.3 L587.8,529.6 L588.2,529.6 L588.5,530.1 L588.8,529.6 L589.1,529.3 L589.4,529.6 L589.7,529.9 L590.0,530.0 L590.3,529.7 L590.6,529.4 L590.9,529.8 L591.2,530.3 L591.5,529.7 L591.8,529.8 L592.1,530.1 L592.4,530.8 L592.7,531.5 L593.0,531.6 L593.3,531.2 L593.6,531.2 L593.9,530.9 L594.2,530.6 L594.5,530.9 L594.8,530.9 L595.1,529.9 L595.4,529.9 L595.7,530.1 L596.0,529.6 L596.3,530.2 L596.6,530.3 L596.9,530.3 L597.2,530.1 L597.5,530.4 L597.8,530.8 L598.2,530.5 L598.5,529.5 L598.8,530.0 L599.1,529.9 L599.4,529.1 L599.7,529.5 L600.0,528.4 L600.3,528.2 L600.6,527.7 L600.9,527.2 L601.2,527.3 L601.5,528.3 L601.8,528.0 L602.2,528.6 L602.5,528.4 L602.8,528.1 L603.1,528.2 L603.4,527.5 L603.7,528.3 L604.0,528.0 L604.3,527.3 L604.6,527.0 L604.9,526.8 L605.2,526.3 L605.5,526.3 L605.8,526.8 L606.1,526.5 L606.4,526.1 L606.7,526.3 L607.0,526.6 L607.3,526.5 L607.6,526.5 L607.9,526.3 L608.2,525.9 L608.5,526.3 L608.8,526.7 L609.1,527.4 L609.4,528.3 L609.7,527.4 L610.0,527.0 L610.3,526.7 L610.6,527.3 L610.9,527.0 L611.2,527.2 L611.5,526.7 L611.8,527.0 L612.2,527.4 L612.5,527.7 L612.8,527.9 L613.1,527.5 L613.4,528.0 L613.7,527.6 L614.0,527.0 L614.3,526.5 L614.6,526.4 L614.9,526.8 L615.2,526.7 L615.5,526.8 L615.8,526.6 L616.2,526.7 L616.5,526.6 L616.8,526.0 L617.1,526.9 L617.4,527.1 L617.7,527.3 L618.0,527.4 L618.3,527.1 L618.6,526.9 L618.9,527.1 L619.2,527.5 L619.5,527.6 L619.8,527.3 L620.2,527.1 L620.5,526.6 L620.8,526.4 L621.1,526.2 L621.4,525.8 L621.7,525.9 L622.0,526.6 L622.3,526.3 L622.6,525.7 L622.9,525.4 L623.2,525.8 L623.5,525.4 L623.8,525.8 L624.1,526.2 L624.4,526.1 L624.7,525.4 L625.0,525.6 L625.3,525.2 L625.6,525.3 L625.9,526.1 L626.2,526.2 L626.5,525.5 L626.8,525.4 L627.2,525.0 L627.5,525.7 L627.8,525.9 L628.1,525.6 L628.4,525.7 L628.7,525.6 L629.0,525.2 L629.3,524.9 L629.6,525.2 L629.9,525.1 L630.2,525.2 L630.5,525.7 L630.8,526.4 L631.1,526.4 L631.4,526.8 L631.7,526.6 L632.0,526.0 L632.3,526.9 L632.6,527.9 L632.9,528.1 L633.1,528.1 L633.4,527.9 L633.7,528.2 L634.0,529.0 L634.3,529.2 L634.6,528.6 L634.9,528.7 L635.2,528.0 L635.5,527.9 L635.8,528.0 L636.1,528.2 L636.4,527.4 L636.7,527.1 L637.0,527.0 L637.3,526.8 L637.6,526.3 L637.9,526.1 L638.2,526.2 L638.5,525.2 L638.8,525.0 L639.1,525.6 L639.4,525.3 L639.7,524.9 L640.0,525.0 L640.3,525.4 L640.6,525.4 L640.9,524.4 L641.2,524.4 L641.5,524.4 L641.8,524.6 L642.2,525.2 L642.5,524.5 L642.8,524.0 L643.1,524.0 L643.4,524.3 L643.7,524.0 L644.0,523.6 L644.3,524.0 L644.6,524.3 L644.9,525.0 L645.2,525.2 L645.5,525.6 L645.8,525.2 L646.1,525.6 L646.4,526.1 L646.7,526.2 L647.0,526.0 L647.3,526.7 L647.6,527.1 L647.9,527.1 L648.2,527.5 L648.5,528.2 L648.8,528.2 L649.1,528.8 L649.4,529.1 L649.7,529.1 L650.0,529.0 L650.3,529.5 L650.6,529.9 L650.9,530.1 L651.2,529.7 L651.5,529.5 L651.8,529.5 L652.2,528.9 L652.5,528.2 L652.8,527.9 L653.1,528.0 L653.4,528.2 L653.7,528.2 L654.0,528.4 L654.3,529.0 L654.6,528.5 L654.9,528.8 L655.2,528.5 L655.5,529.1 L655.8,528.3 L656.2,528.4 L656.5,527.6 L656.8,527.5 L657.1,527.4 L657.4,527.3 L657.7,527.5 L658.0,527.0 L658.3,526.7 L658.6,526.8 L658.9,526.5 L659.2,526.5 L659.5,526.3 L659.8,526.2 L660.2,525.6 L660.5,524.9 L660.8,524.5 L661.1,524.8 L661.4,524.8 L661.7,524.5 L662.0,524.0 L662.3,524.2 L662.6,524.3 L662.9,524.1 L663.2,524.1 L663.5,523.9 L663.8,524.2 L664.2,523.6 L664.5,523.4 L664.8,523.4 L665.1,523.4 L665.4,522.8 L665.7,522.3 L666.0,522.4 L666.3,522.8 L666.6,522.1 L666.9,521.7 L667.2,521.9 L667.5,521.5 L667.8,521.5 L668.2,521.6 L668.5,521.2 L668.8,521.7 L669.1,521.4 L669.4,521.0 L669.7,521.0 L670.0,521.2 L670.3,520.8 L670.6,520.8 L670.9,520.6 L671.2,520.6 L671.5,520.1 L671.8,520.2 L672.2,520.7 L672.5,520.5 L672.8,520.4 L673.1,520.3 L673.4,519.8 L673.7,519.8 L674.0,519.6 L674.3,519.4 L674.6,520.1 L674.9,520.0 L675.2,519.9 L675.5,519.0 L675.8,519.3 L676.2,519.4 L676.5,519.9 L676.8,519.7 L677.1,519.8 L677.4,519.8 L677.7,520.6 L678.0,521.0 L678.3,520.1 L678.6,520.9 L678.9,521.3 L679.2,521.0 L679.5,520.5 L679.8,520.1 L680.2,519.3 L680.5,519.1 L680.8,519.3 L681.1,519.2 L681.4,518.8 L681.7,518.9 L682.0,519.0 L682.3,518.8 L682.6,518.8 L682.9,519.2 L683.2,519.1 L683.5,519.3 L683.8,519.5 L684.2,519.1 L684.5,519.2 L684.8,518.9 L685.1,518.5 L685.4,518.4 L685.7,518.3 L686.0,518.4 L686.3,518.3 L686.6,517.5 L686.9,517.3 L687.2,517.3 L687.5,517.4 L687.8,517.4 L688.2,517.2 L688.5,517.0 L688.8,517.2 L689.1,517.4 L689.4,517.2 L689.7,517.1 L690.0,517.0 L690.3,516.8 L690.6,516.8 L690.9,516.7 L691.2,517.0 L691.5,516.6 L691.8,516.4 L692.2,516.7 L692.5,516.8 L692.8,516.4 L693.1,516.1 L693.4,516.0 L693.7,516.1 L694.0,516.4 L694.3,516.4 L694.6,517.2 L694.9,517.5 L695.2,517.0 L695.5,516.9 L695.8,517.3 L696.2,517.8 L696.5,517.7 L696.8,517.7 L697.1,517.7 L697.4,517.8 L697.7,517.4 L698.0,517.6 L698.3,517.9 L698.6,518.0 L698.9,518.2 L699.2,517.8 L699.5,518.1 L699.8,517.8 L700.2,517.9 L700.5,518.1 L700.8,517.6 L701.1,517.0 L701.4,517.3 L701.7,517.5 L702.0,517.6 L702.3,517.3 L702.6,517.6 L702.9,517.8 L703.2,517.5 L703.5,517.0 L703.8,517.2 L704.1,517.3 L704.4,516.9 L704.7,516.7 L705.0,516.3 L705.3,516.4 L705.6,516.4 L705.9,517.3 L706.2,518.0 L706.5,518.6 L706.8,519.7 L707.1,520.2 L707.4,520.3 L707.7,520.8 L708.0,521.0 L708.3,521.0 L708.6,521.5 L708.9,521.0 L709.2,520.6 L709.5,519.9 L709.8,520.3 L710.2,520.7 L710.5,520.8 L710.8,521.2 L711.1,521.4 L711.4,521.0 L711.7,520.7 L712.0,520.4 L712.3,520.9 L712.6,520.4 L712.9,520.1 L713.2,520.3 L713.5,520.2 L713.8,519.7 L714.2,519.4 L714.5,519.8 L714.8,520.6 L715.1,520.7 L715.4,521.3 L715.7,520.9 L716.0,521.0 L716.3,521.3 L716.6,521.2 L716.9,521.3 L717.2,522.5 L717.5,522.1 L717.8,521.6 L718.1,521.8 L718.4,522.3 L718.7,521.8 L719.0,521.6 L719.3,521.9 L719.6,522.4 L719.9,522.2 L720.1,522.9 L720.4,523.5 L720.7,523.8 L721.0,523.6 L721.3,523.8 L721.6,523.3 L721.9,522.3 L722.2,522.2 L722.5,522.2 L722.8,521.4 L723.1,521.2 L723.4,520.6 L723.7,520.2 L724.0,520.0 L724.3,519.7 L724.6,520.0 L724.9,520.7 L725.2,520.7 L725.5,521.0 L725.8,521.1 L726.1,521.1 L726.4,521.7 L726.7,521.6 L727.0,521.6 L727.3,522.7 L727.6,522.8 L727.9,523.0 L728.1,523.2 L728.4,523.2 L728.7,523.3 L729.0,524.0 L729.3,524.6 L729.7,524.8 L730.0,526.0 L730.3,529.9 L730.7,533.9 L731.0,538.0 L731.3,534.1 L731.7,529.9 L732.0,526.0 L732.3,525.6 L732.6,524.9 L732.9,524.6 L733.2,524.8 L733.5,524.7 L733.8,525.1 L734.1,524.7 L734.4,524.6 L734.7,524.2 L735.0,523.6 L735.3,523.3 L735.6,522.7 L735.9,522.9 L736.2,522.9 L736.5,523.0 L736.8,522.6 L737.1,522.1 L737.4,521.8 L737.7,522.3 L738.0,523.0 L738.3,524.1 L738.6,524.3 L738.9,524.5 L739.2,524.1 L739.5,523.5 L739.8,523.5 L740.1,523.7 L740.4,523.8 L740.7,523.5 L741.0,523.6 L741.3,523.5 L741.6,523.3 L741.9,523.8 L742.2,523.0 L742.5,522.9 L742.8,522.4 L743.1,521.8 L743.4,521.6 L743.7,520.7 L744.0,521.0 L744.3,520.8 L744.6,521.0 L744.9,520.8 L745.2,521.1 L745.5,520.5 L745.8,519.9 L746.2,520.5 L746.5,520.5 L746.8,520.8 L747.1,520.5 L747.4,520.1 L747.7,519.8 L748.0,520.0 L748.3,520.3 L748.6,520.3 L748.9,519.5 L749.2,519.7 L749.5,520.1 L749.8,520.8 L750.2,520.8 L750.5,520.2 L750.8,519.9 L751.1,520.4 L751.4,520.6 L751.7,520.9 L752.0,521.0 L752.3,520.7 L752.6,520.4 L752.9,520.3 L753.2,520.3 L753.5,519.7 L753.8,520.2 L754.2,520.6 L754.5,520.2 L754.8,519.6 L755.1,520.1 L755.4,520.3 L755.7,520.1 L756.0,519.6 L756.3,519.9 L756.6,519.9 L756.9,519.8 L757.1,520.1 L757.4,519.5 L757.7,519.0 L758.0,518.4 L758.3,518.5 L758.6,517.7 L758.9,517.7 L759.2,517.3 L759.5,517.2 L759.8,516.8 L760.2,515.9 L760.5,516.1 L760.8,516.6 L761.1,517.0 L761.4,516.7 L761.7,516.7 L762.0,517.0 L762.3,516.7 L762.6,516.1 L762.9,516.1 L763.2,516.1 L763.5,515.8 L763.8,516.1 L764.1,515.7 L764.4,515.7 L764.7,515.6 L765.0,516.0 L765.3,516.1 L765.6,515.6 L765.9,515.0 L766.2,515.1 L766.5,514.6 L766.8,515.1 L767.1,515.4 L767.4,515.3 L767.7,515.1 L768.0,515.0 L768.3,515.6 L768.6,515.8 L768.9,515.4 L769.2,515.2 L769.5,515.5 L769.8,515.3 L770.1,516.0 L770.4,515.6 L770.7,516.0 L771.0,516.0 L771.3,516.8 L771.6,517.3 L771.9,517.5 L772.2,517.8 L772.5,517.9 L772.8,517.5 L773.1,517.6 L773.4,517.6 L773.7,517.7 L774.0,517.6 L774.3,516.9 L774.6,516.9 L774.9,516.6 L775.1,516.8 L775.4,517.0 L775.7,516.4 L776.0,516.4 L776.3,516.7 L776.6,517.2 L776.9,517.4 L777.2,517.6 L777.5,518.5 L777.8,519.1 L778.1,519.0 L778.4,519.0 L778.7,519.4 L779.0,519.6 L779.3,518.9 L779.6,518.1 L779.9,517.9 L780.1,517.7 L780.4,517.5 L780.7,517.0 L781.0,516.4 L781.3,515.8 L781.6,516.4 L781.9,516.4 L782.2,516.2 L782.5,516.8 L782.8,516.1 L783.1,515.8 L783.4,515.5 L783.7,515.1 L784.0,515.0 L784.3,514.8 L784.6,514.7 L784.9,514.4 L785.2,514.5 L785.5,514.3 L785.8,513.9 L786.1,514.3 L786.4,513.6 L786.7,513.9 L787.0,514.4 L787.3,514.4 L787.6,514.1 L787.9,514.2 L788.2,514.0 L788.5,513.8 L788.8,514.4 L789.1,514.7 L789.4,513.8 L789.7,513.2 L790.0,513.0 L790.3,513.7 L790.6,513.2 L790.9,512.8 L791.2,512.9 L791.5,512.8 L791.8,512.1 L792.1,512.6 L792.4,512.9 L792.7,512.5 L793.0,512.4 L793.3,512.1 L793.6,511.9 L793.9,511.8 L794.2,511.4 L794.5,512.1 L794.8,511.8 L795.1,511.3 L795.4,511.5 L795.7,511.0 L796.0,511.0 L796.3,512.1 L796.6,512.3 L796.9,512.4 L797.1,513.6 L797.4,514.2 L797.7,513.9 L798.0,514.0 L798.3,514.0 L798.6,514.2 L798.9,513.7 L799.1,513.2 L799.4,513.4 L799.7,513.1 L800.0,512.4 L800.3,513.3 L800.6,513.7 L800.9,513.7 L801.2,514.0 L801.5,513.8 L801.8,513.7 L802.2,513.6 L802.5,513.8 L802.8,513.8 L803.1,513.7 L803.4,513.1 L803.7,512.9 L804.0,513.0 L804.3,512.7 L804.6,512.5 L804.9,512.9 L805.2,513.3 L805.5,512.5 L805.8,512.5 L806.2,511.9 L806.5,511.6 L806.8,511.8 L807.1,511.6 L807.4,512.1 L807.7,511.8 L808.0,512.0 L808.3,512.0 L808.6,511.9 L808.9,512.0 L809.2,511.6 L809.5,511.6 L809.8,511.2 L810.2,511.4 L810.5,511.3 L810.8,511.5 L811.1,512.2 L811.4,512.6 L811.7,513.0 L812.0,513.0 L812.3,513.0 L812.6,512.6 L812.9,513.2 L813.2,513.5 L813.5,514.0 L813.8,513.4 L814.2,513.5 L814.5,512.9 L814.8,513.0 L815.1,513.0 L815.4,513.2 L815.7,513.7 L816.0,513.6 L816.3,513.9 L816.6,514.3 L816.9,514.2 L817.2,514.2 L817.5,514.2 L817.8,514.3 L818.2,514.0 L818.5,514.2 L818.8,514.3 L819.1,514.3 L819.4,514.2 L819.7,514.3 L820.0,514.0 L820.3,514.3 L820.6,514.2 L820.9,514.4 L821.1,514.1 L821.4,514.8 L821.7,515.3 L822.0,515.0 L822.3,514.7 L822.6,514.5 L822.9,514.5 L823.2,514.5 L823.5,513.9 L823.8,513.8 L824.1,512.9 L824.4,512.8 L824.7,512.6 L825.0,512.4 L825.3,512.7 L825.6,512.9 L825.9,513.1 L826.2,513.1 L826.5,513.0 L826.8,512.4 L827.2,512.7 L827.5,512.6 L827.8,512.4 L828.1,512.4 L828.4,511.8 L828.7,511.8 L829.0,511.6 L829.3,511.2 L829.6,511.6 L829.9,511.4 L830.2,511.3 L830.5,511.5 L830.8,511.6 L831.2,511.4 L831.5,510.9 L831.8,511.2 L832.1,511.1 L832.4,511.1 L832.7,511.1 L833.0,511.0 L833.3,512.3 L833.6,511.7 L833.9,512.2 L834.2,512.3 L834.5,512.1 L834.8,512.7 L835.1,512.8 L835.4,512.7 L835.7,512.6 L836.0,512.4 L836.3,512.5 L836.6,512.7 L836.9,512.8 L837.2,512.7 L837.5,512.4 L837.8,512.4 L838.1,513.0 L838.4,512.6 L838.7,512.8 L839.0,512.0 L839.3,511.8 L839.6,511.3 L839.9,511.5 L840.1,510.5 L840.4,510.3 L840.7,510.3 L841.0,510.0 L841.3,509.0 L841.6,509.5 L841.9,509.6 L842.2,509.7 L842.5,509.2 L842.8,509.1 L843.1,509.2 L843.4,509.1 L843.7,509.8 L844.0,509.6 L844.3,509.2 L844.6,509.1 L844.9,508.2 L845.2,508.1 L845.5,508.8 L845.8,508.6 L846.2,508.4 L846.5,508.0 L846.8,508.1 L847.1,508.2 L847.4,508.6 L847.7,507.7 L848.0,508.0 L848.3,507.4 L848.6,507.5 L848.9,507.5 L849.2,507.4 L849.5,506.9 L849.8,507.7 L850.2,507.1 L850.5,506.4 L850.8,507.0 L851.1,507.2 L851.4,507.1 L851.7,507.4 L852.0,507.0 L852.3,507.6 L852.6,508.2 L852.9,507.9 L853.1,508.1 L853.4,508.0 L853.7,508.1 L854.0,508.0 L854.3,507.9 L854.6,507.1 L854.9,506.9 L855.1,506.9 L855.4,506.2 L855.7,505.3 L856.0,505.0 L856.3,505.1 L856.6,505.0 L856.9,504.7 L857.2,503.8 L857.5,503.6 L857.8,503.5 L858.1,503.4 L858.4,504.0 L858.7,504.9 L859.0,505.8 L859.4,506.2 L859.7,507.4 L860.0,508.0 L860.3,509.6 L860.7,509.8 L861.0,510.4 L861.3,510.2 L861.6,510.8 L861.9,511.3 L862.1,511.0 L862.4,511.2 L862.7,512.4 L863.0,513.0 L863.3,513.5 L863.6,513.8 L863.9,514.1 L864.1,513.9 L864.4,514.1 L864.7,515.0 L865.0,515.6 L865.3,516.1 L865.6,516.6 L865.9,516.5 L866.2,516.3 L866.4,516.5 L866.7,516.4 L867.0,516.1 L867.3,515.9 L867.6,516.4 L867.9,515.6 L868.2,514.8 L868.5,514.5 L868.8,514.6 L869.1,514.4 L869.4,514.6 L869.7,514.2 L870.0,514.0 L870.3,513.7 L870.6,513.6 L870.9,513.5 L871.1,513.0 L871.4,512.7 L871.7,512.0 L872.0,511.0 L872.3,510.6 L872.6,510.2 L872.9,509.1 L873.2,508.8 L873.5,508.7 L873.8,508.6 L874.1,508.2 L874.4,508.0 L874.7,508.0 L875.0,508.0 L875.3,508.1 L875.6,507.2 L875.9,506.4 L876.2,507.1 L876.5,507.3 L876.8,506.9 L877.1,506.9 L877.4,507.0 L877.7,506.9 L878.0,507.0 L878.3,506.8 L878.6,506.4 L878.9,505.7 L879.2,505.5 L879.5,506.3 L879.8,506.4 L880.1,505.8 L880.4,505.5 L880.7,505.7 L881.0,506.0 L881.3,506.3 L881.6,505.9 L881.9,505.5 L882.2,505.3 L882.5,505.0 L882.8,504.6 L883.1,504.6 L883.4,504.6 L883.7,504.8 L884.0,504.4 L884.3,504.2 L884.6,504.6 L884.9,504.5 L885.2,504.7 L885.5,504.7 L885.8,504.3 L886.1,504.5 L886.4,503.8 L886.7,503.5 L887.0,503.0 L887.3,502.6 L887.6,503.1 L887.9,502.0 L888.2,502.4 L888.5,502.7 L888.8,502.0 L889.1,502.2 L889.4,502.1 L889.7,501.8 L890.0,502.4 L890.3,502.8 L890.6,502.2 L890.9,502.2 L891.2,502.7 L891.5,503.2 L891.8,503.1 L892.1,503.2 L892.4,503.1 L892.7,503.0 L893.0,503.0 L893.3,502.8 L893.6,502.5 L893.9,502.0 L894.2,501.8 L894.5,501.2 L894.8,501.1 L895.1,501.0 L895.4,501.3 L895.7,501.5 L896.0,501.0 L896.3,501.1 L896.6,500.7 L896.9,500.4 L897.2,500.2 L897.5,500.4 L897.8,500.0 L898.2,500.3 L898.5,500.4 L898.8,500.1 L899.1,500.2 L899.4,499.5 L899.7,498.9 L900.0,499.0 L900.3,498.6 L900.6,498.0 L900.9,498.5 L901.2,498.7 L901.5,498.4 L901.8,498.5 L902.1,498.7 L902.4,498.5 L902.7,498.2 L903.0,497.6 L903.3,497.9 L903.6,498.0 L903.9,498.0 L904.2,498.1 L904.5,498.3 L904.8,498.5 L905.1,498.1 L905.4,498.7 L905.7,499.3 L906.0,499.6 L906.3,499.4 L906.6,499.2 L906.9,499.5 L907.2,499.4 L907.5,499.0 L907.8,499.0 L908.1,498.8 L908.4,498.7 L908.7,498.2 L909.0,498.0 L909.3,498.0 L909.6,497.9 L909.9,498.1 L910.2,498.0 L910.5,497.9 L910.8,498.1 L911.1,497.5 L911.4,496.9 L911.7,496.7 L912.0,497.0 L912.3,496.5 L912.6,495.8 L912.9,495.6 L913.2,495.4 L913.5,495.0 L913.8,495.3 L914.1,495.0 L914.4,495.4 L914.7,495.7 L915.0,495.0 L915.3,495.1 L915.6,495.0 L915.9,495.1 L916.1,494.0 L916.4,494.1 L916.7,493.9 L917.0,493.6 L917.3,494.5 L917.6,494.3 L917.9,495.2 L918.1,495.8 L918.4,496.4 L918.7,496.7 L919.0,496.4 L919.3,496.2 L919.6,497.3 L919.9,496.9 L920.2,496.5 L920.5,497.1 L920.8,497.3 L921.1,497.2 L921.4,497.1 L921.7,497.3 L922.0,497.6 L922.3,497.9 L922.6,497.8 L922.9,497.4 L923.2,497.2 L923.5,496.7 L923.8,496.9 L924.1,496.9 L924.4,496.9 L924.7,496.6 L925.0,496.4 L925.3,496.3 L925.6,496.4 L925.9,496.1 L926.2,496.1 L926.5,495.7 L926.8,495.2 L927.1,496.0 L927.4,495.8 L927.7,495.4 L928.0,495.0 L928.3,495.2 L928.6,494.8 L928.9,494.1 L929.1,493.8 L929.4,493.4 L929.7,493.3 L930.0,493.0 L930.3,492.6 L930.6,493.1 L930.9,493.3 L931.1,493.4 L931.4,493.9 L931.7,494.0 L932.0,494.4 L932.3,494.6 L932.6,494.7 L932.9,495.5 L933.2,496.1 L933.5,496.4 L933.8,496.8 L934.1,496.6 L934.4,496.4 L934.7,496.3 L935.0,496.4 L935.3,496.1 L935.6,495.7 L935.9,495.4 L936.2,494.3 L936.5,494.0 L936.8,493.8 L937.1,493.4 L937.4,493.6 L937.7,493.2 L938.0,493.6 L938.3,493.8 L938.6,493.7 L938.9,493.1 L939.2,493.1 L939.5,493.2 L939.8,493.7 L940.2,492.8 L940.5,492.2 L940.8,492.6 L941.1,493.2 L941.4,493.6 L941.7,493.8 L942.0,494.4 L942.3,493.4 L942.6,493.1 L942.9,493.3 L943.2,493.6 L943.5,493.7 L943.8,492.9 L944.2,493.1 L944.5,492.8 L944.8,493.1 L945.1,492.9 L945.4,492.6 L945.7,492.4 L946.0,493.0 L946.3,493.7 L946.6,493.1 L946.9,493.2 L947.2,492.9 L947.5,492.8 L947.8,493.0 L948.2,493.3 L948.5,493.5 L948.8,493.3 L949.1,493.3 L949.4,493.2 L949.7,492.8 L950.0,492.4 L950.3,492.8 L950.6,492.4 L950.9,491.7 L951.2,492.2 L951.5,492.1 L951.8,492.5 L952.2,492.0 L952.5,491.7 L952.8,491.5 L953.1,491.9 L953.4,492.0 L953.7,492.4 L954.0,492.4 L954.3,493.3 L954.6,493.3 L954.9,493.6 L955.2,492.8 L955.5,492.1 L955.8,492.2 L956.2,491.7 L956.5,491.5 L956.8,491.8 L957.1,492.0 L957.4,492.1 L957.7,492.0 L958.0,492.0 L958.3,491.9 L958.6,492.3 L958.9,491.7 L959.2,492.4 L959.5,491.9 L959.8,491.3 L960.1,491.0 L960.4,490.7 L960.7,490.9 L961.0,490.4 L961.3,490.9 L961.6,490.9 L961.9,491.7 L962.2,491.5 L962.5,491.4 L962.8,491.2 L963.1,491.4 L963.4,490.8 L963.7,490.4 L964.0,490.0 L964.3,490.6 L964.6,491.0 L964.9,491.4 L965.2,491.7 L965.5,491.8 L965.8,491.4 L966.1,490.9 L966.4,490.3 L966.7,490.4 L967.0,490.0 L967.3,490.5 L967.6,491.1 L967.9,491.7 L968.2,491.5 L968.5,492.1 L968.8,492.0 L969.1,492.2 L969.4,492.6 L969.7,492.3 L970.0,492.4 L970.3,492.5 L970.6,493.2 L970.9,493.6 L971.2,493.4 L971.5,493.6 L971.8,493.8 L972.1,493.8 L972.4,493.6 L972.7,493.9 L973.0,494.4 L973.3,494.4 L973.6,494.4 L973.9,494.3 L974.2,494.2 L974.5,494.3 L974.8,493.7 L975.1,493.4 L975.4,493.2 L975.7,492.9 L976.0,493.0 L976.3,492.5 L976.6,493.2 L976.9,493.4 L977.2,493.5 L977.5,493.0 L977.8,492.1 L978.2,491.8 L978.5,491.5 L978.8,492.3 L979.1,491.9 L979.4,491.9 L979.7,491.8 L980.0,492.0 L980.3,491.7 L980.6,491.1 L980.9,491.2 L981.2,490.2 L981.5,490.5 L981.8,490.4 L982.1,490.3 L982.4,490.4 L982.7,490.2 L983.0,489.6 L983.3,489.5 L983.6,488.4 L983.9,488.3 L984.2,488.4 L984.5,488.5 L984.8,488.5 L985.1,488.6 L985.4,488.3 L985.7,488.0 L986.0,488.4 L986.3,488.8 L986.6,488.8 L986.9,488.7 L987.2,488.5 L987.5,488.8 L987.8,489.0 L988.2,489.2 L988.5,488.9 L988.8,488.9 L989.1,488.9 L989.4,489.0 L989.7,489.1 L990.0,489.6 L990.3,490.0 L990.6,490.2 L990.9,489.8 L991.2,490.5 L991.5,491.1 L991.8,491.0 L992.2,491.4 L992.5,491.4 L992.8,491.3 L993.1,491.6 L993.4,491.9 L993.7,492.9 L994.0,493.0 L994.3,492.8 L994.6,492.1 L994.9,492.0 L995.2,491.8 L995.5,491.4 L995.8,491.3 L996.2,491.5 L996.5,491.7 L996.8,492.1 L997.1,491.9 L997.4,491.8 L997.7,491.6 L998.0,491.6 L998.3,491.8 L998.6,490.9 L998.9,491.1 L999.2,491.6 L999.5,491.3 L999.8,491.5 L1000.2,491.2 L1000.5,491.1 L1000.8,490.6 L1001.1,490.3 L1001.4,490.4 L1001.7,490.1 L1002.0,490.0 L1002.3,490.2 L1002.6,489.4 L1002.9,489.3 L1003.2,488.8 L1003.5,488.7 L1003.8,488.7 L1004.2,488.8 L1004.5,488.9 L1004.8,488.8 L1005.1,488.7 L1005.4,488.7 L1005.7,488.7 L1006.0,488.0 L1006.3,488.0 L1006.6,487.9 L1006.9,487.0 L1007.2,487.4 L1007.5,487.4 L1007.8,486.8 L1008.2,486.6 L1008.5,486.7 L1008.8,486.8 L1009.1,486.8 L1009.4,486.2 L1009.7,486.0 L1010.0,486.4 L1010.3,486.5 L1010.6,485.9 L1010.9,485.9 L1011.2,486.2 L1011.5,486.7 L1011.8,486.2 L1012.2,485.7 L1012.5,485.2 L1012.8,485.6 L1013.1,486.0 L1013.4,485.9 L1013.7,486.5 L1014.0,485.6 L1014.3,485.3 L1014.6,484.8 L1014.9,484.9 L1015.2,484.8 L1015.5,485.1 L1015.8,484.5 L1016.2,484.1 L1016.5,484.1 L1016.8,484.8 L1017.1,484.6 L1017.4,484.8 L1017.7,485.0 L1018.0,485.0 L1018.3,485.4 L1018.6,485.5 L1018.9,485.9 L1019.2,486.2 L1019.5,485.7 L1019.8,485.2 L1020.2,485.5 L1020.5,484.7 L1020.8,484.6 L1021.1,484.8 L1021.4,484.7 L1021.7,484.6 L1022.0,485.0 L1022.3,484.3 L1022.6,483.7 L1022.9,484.2 L1023.2,483.4 L1023.5,482.9 L1023.8,483.3 L1024.2,482.5 L1024.5,482.9 L1024.8,482.6 L1025.1,482.7 L1025.4,482.5 L1025.7,482.7 L1026.0,483.0 L1026.3,483.7 L1026.6,484.3 L1026.9,484.5 L1027.2,484.5 L1027.5,484.6 L1027.8,484.2 L1028.2,483.9 L1028.5,484.1 L1028.8,484.4 L1029.1,484.2 L1029.4,484.3 L1029.7,483.8 L1030.0,483.0 L1030.3,483.2 L1030.6,483.5 L1030.9,483.1 L1031.2,483.7 L1031.5,484.5 L1031.8,484.6 L1032.2,485.6 L1032.5,484.9 L1032.8,484.6 L1033.1,484.3 L1033.4,483.8 L1033.7,484.0 L1034.0,483.6 L1034.3,483.0 L1034.6,483.4 L1034.9,484.5 L1035.2,484.9 L1035.5,484.7 L1035.8,485.2 L1036.2,485.4 L1036.5,485.5 L1036.8,485.6 L1037.1,485.7 L1037.4,485.7 L1037.7,485.7 L1038.0,485.6 L1038.3,484.9 L1038.6,484.4 L1038.9,484.1 L1039.2,484.3 L1039.5,484.2 L1039.8,484.4 L1040.2,484.4 L1040.5,484.3 L1040.8,483.5 L1041.1,484.0 L1041.4,484.3 L1041.7,483.8 L1042.0,483.6 L1042.3,484.1 L1042.6,483.8 L1042.9,483.7 L1043.2,483.1 L1043.5,482.9 L1043.8,482.5 L1044.2,482.3 L1044.5,481.5 L1044.8,481.5 L1045.1,480.7 L1045.4,480.7 L1045.7,479.9 L1046.0,480.0 L1046.3,481.0 L1046.6,481.2 L1046.9,481.8 L1047.2,480.9 L1047.5,481.1 L1047.8,480.5 L1048.2,480.5 L1048.5,480.9 L1048.8,480.2 L1049.1,480.3 L1049.4,479.7 L1049.7,479.5 L1050.0,479.0 L1050.3,479.3 L1050.6,479.2 L1050.9,478.9 L1051.2,479.0 L1051.5,479.1 L1051.8,479.2 L1052.2,479.0 L1052.5,479.1 L1052.8,479.0 L1053.1,479.0 L1053.4,479.1 L1053.7,479.0 L1054.0,479.0 L1054.3,479.1 L1054.6,478.8 L1054.9,478.5 L1055.2,478.6 L1055.5,478.5 L1055.8,478.2 L1056.2,478.5 L1056.5,478.1 L1056.8,478.0 L1057.1,478.7 L1057.4,478.4 L1057.7,478.5 L1058.0,478.4 L1058.3,478.5 L1058.6,479.0 L1058.9,479.3 L1059.2,479.6 L1059.5,479.4 L1059.8,479.9 L1060.1,479.6 L1060.4,479.9 L1060.7,479.7 L1061.0,479.6 L1061.3,478.6 L1061.6,478.4 L1061.9,478.8 L1062.1,479.1 L1062.4,479.1 L1062.7,479.1 L1063.0,478.4 L1063.3,478.1 L1063.6,478.0 L1063.9,478.2 L1064.1,478.5 L1064.4,479.0 L1064.7,478.8 L1065.0,479.0 L1065.3,479.4 L1065.6,479.7 L1065.9,480.0 L1066.2,480.5 L1066.5,480.9 L1066.8,481.4 L1067.1,481.2 L1067.4,481.5 L1067.7,481.5 L1068.0,482.4 L1068.3,482.9 L1068.6,482.7 L1068.9,482.6 L1069.2,483.5 L1069.5,484.5 L1069.8,485.3 L1070.2,485.6 L1070.5,485.3 L1070.8,485.5 L1071.1,485.8 L1071.4,486.4 L1071.7,486.1 L1072.0,486.0 L1072.3,485.7 L1072.6,485.7 L1072.9,485.2 L1073.1,484.7 L1073.4,484.4 L1073.7,484.4 L1074.0,484.0 L1074.3,484.7 L1074.6,484.8 L1074.9,485.1 L1075.2,485.2 L1075.5,485.9 L1075.8,485.5 L1076.1,485.1 L1076.4,485.4 L1076.7,485.4 L1077.0,485.6 L1077.3,486.2 L1077.6,485.9 L1077.9,486.6 L1078.2,486.5 L1078.5,486.8 L1078.8,487.3 L1079.1,487.0 L1079.4,487.4 L1079.7,487.6 L1080.0,488.0 L1080.3,488.6 L1080.6,488.2 L1080.9,487.5 L1081.2,486.8 L1081.5,486.8 L1081.8,486.9 L1082.1,486.2 L1082.4,486.2 L1082.7,486.1 L1083.0,486.4 L1083.3,486.0 L1083.6,486.0 L1083.9,486.6 L1084.2,487.2 L1084.5,487.4 L1084.8,487.8 L1085.1,488.2 L1085.4,488.3 L1085.7,488.4 L1086.0,488.4 L1086.3,487.7 L1086.6,487.4 L1086.9,487.6 L1087.2,487.4 L1087.5,486.8 L1087.8,485.8 L1088.1,485.5 L1088.4,484.6 L1088.7,483.8 L1089.0,483.6 L1089.3,483.7 L1089.6,483.4 L1089.9,482.4 L1090.1,482.6 L1090.4,482.9 L1090.7,482.6 L1091.0,482.0 L1091.3,482.5 L1091.6,482.6 L1091.9,482.7 L1092.2,483.5 L1092.5,483.4 L1092.8,483.4 L1093.1,483.4 L1093.4,483.3 L1093.7,483.5 L1094.0,484.4 L1094.3,484.3 L1094.6,484.4 L1094.9,485.4 L1095.2,485.4 L1095.5,485.3 L1095.8,484.6 L1096.2,484.9 L1096.5,485.4 L1096.8,485.7 L1097.1,485.9 L1097.4,485.6 L1097.7,485.6 L1098.0,486.0 L1098.3,486.4 L1098.6,486.5 L1098.9,486.3 L1099.2,485.9 L1099.5,485.8 L1099.8,486.0 L1100.1,486.0 L1100.4,486.2 L1100.7,486.8 L1101.0,487.0 L1101.3,487.7 L1101.6,488.1 L1101.9,488.9 L1102.2,488.4 L1102.5,488.2 L1102.8,488.8 L1103.1,489.2 L1103.4,489.6 L1103.7,489.4 L1104.0,490.0 L1104.3,489.8 L1104.6,489.9 L1104.9,490.3 L1105.2,491.0 L1105.5,491.9 L1105.8,491.5 L1106.1,491.5 L1106.4,491.7 L1106.7,491.4 L1107.0,492.0 L1107.3,491.6 L1107.6,491.2 L1107.9,490.1 L1108.2,490.0 L1108.5,490.0 L1108.8,490.5 L1109.1,490.4 L1109.4,489.5 L1109.7,489.5 L1110.0,489.0 L1110.3,489.2 L1110.6,489.7 L1110.9,489.5 L1111.1,489.4 L1111.4,489.4 L1111.7,489.1 L1112.0,490.0 L1112.3,490.1 L1112.6,490.5 L1112.9,491.4 L1113.2,492.3 L1113.5,492.6 L1113.8,493.1 L1114.1,493.3 L1114.4,493.6 L1114.7,493.2 L1115.0,492.8 L1115.3,492.4 L1115.6,492.2 L1115.8,492.4 L1116.1,491.8 L1116.4,491.9 L1116.7,491.0 L1117.0,491.0 L1117.3,491.6 L1117.6,491.7 L1117.9,491.5 L1118.2,491.7 L1118.5,491.9 L1118.8,492.1 L1119.1,492.4 L1119.4,491.6 L1119.7,491.2 L1120.0,490.4 L1120.3,490.1 L1120.6,489.5 L1120.9,489.8 L1121.2,489.1 L1121.5,489.8 L1121.8,489.8 L1122.1,489.2 L1122.4,489.4 L1122.7,489.1 L1123.0,488.4 L1123.3,488.0 L1123.6,487.9 L1123.9,488.2 L1124.2,488.3 L1124.5,487.7 L1124.8,487.8 L1125.1,487.2 L1125.4,487.4 L1125.7,487.4 L1126.0,487.0 L1126.3,487.0 L1126.6,487.2 L1126.9,486.6 L1127.2,486.6 L1127.5,486.6 L1127.8,486.5 L1128.1,486.3 L1128.4,485.7 L1128.7,486.5 L1129.0,485.6 L1129.3,486.1 L1129.6,486.8 L1129.9,486.1 L1130.2,485.9 L1130.5,485.3 L1130.8,485.1 L1131.1,484.8 L1131.4,484.2 L1131.7,483.9 L1132.0,483.6 L1132.3,484.3 L1132.6,483.8 L1132.9,483.8 L1133.2,483.9 L1133.5,483.9 L1133.8,484.2 L1134.1,484.4 L1134.4,484.3 L1134.7,484.2 L1135.0,485.0 L1135.3,484.8 L1135.6,485.0 L1135.9,485.6 L1136.2,484.9 L1136.5,484.5 L1136.8,484.8 L1137.1,485.2 L1137.4,485.5 L1137.7,486.1 L1138.0,486.4 L1138.3,486.9 L1138.6,486.5 L1138.9,486.4 L1139.2,486.4 L1139.5,486.2 L1139.8,485.8 L1140.2,485.3 L1140.5,485.7 L1140.8,485.8 L1141.1,486.6 L1141.4,486.8 L1141.7,487.4 L1142.0,487.0 L1142.3,486.9 L1142.6,487.0 L1142.9,487.3 L1143.2,487.1 L1143.5,487.3 L1143.8,487.6 L1144.2,487.8 L1144.5,487.6 L1144.8,488.1 L1145.1,487.9 L1145.4,488.8 L1145.7,488.4 L1146.0,488.4 L1146.3,488.2 L1146.6,488.0 L1146.9,488.1 L1147.2,487.8 L1147.5,488.0 L1147.8,488.4 L1148.2,488.4 L1148.5,488.3 L1148.8,488.9 L1149.1,489.4 L1149.4,489.2 L1149.7,489.3 L1150.0,490.0 L1150.3,489.4 L1150.6,489.6 L1150.9,489.9 L1151.2,490.0 L1151.5,489.3 L1151.8,489.5 L1152.2,489.7 L1152.5,489.6 L1152.8,489.6 L1153.1,489.8 L1153.4,489.6 L1153.7,489.4 L1154.0,489.6 L1154.3,489.3 L1154.6,489.8 L1154.9,490.0 L1155.2,489.5 L1155.5,489.6 L1155.8,490.7 L1156.2,490.7 L1156.5,491.3 L1156.8,491.6 L1157.1,491.2 L1157.4,490.6 L1157.7,490.9 L1158.0,491.0 L1158.3,490.7 L1158.6,490.5 L1158.9,490.7 L1159.2,490.8 L1159.5,490.5 L1159.8,489.8 L1160.2,490.1 L1160.5,489.8 L1160.8,489.5 L1161.1,490.0 L1161.4,490.2 L1161.7,490.0 L1162.0,490.0 L1162.3,490.1 L1162.6,490.3 L1162.9,490.3 L1163.2,490.1 L1163.5,490.7 L1163.8,490.4 L1164.2,490.6 L1164.5,490.3 L1164.8,490.4 L1165.1,490.4 L1165.4,490.3 L1165.7,490.3 L1166.0,491.0 L1166.3,491.1 L1166.6,490.7 L1166.9,490.6 L1167.2,490.5 L1167.5,490.3 L1167.8,490.4 L1168.2,490.9 L1168.5,490.8 L1168.8,490.8 L1169.1,491.3 L1169.4,491.7 L1169.7,492.2 L1170.0,493.0 L1170.3,493.1 L1170.6,492.7 L1170.9,493.0 L1171.2,493.1 L1171.5,493.6 L1171.8,493.5 L1172.1,493.2 L1172.4,494.1 L1172.7,493.6 L1173.0,494.4 L1173.3,494.1 L1173.6,494.2 L1173.9,493.7 L1174.2,493.9 L1174.5,493.7 L1174.8,493.6 L1175.1,493.7 L1175.4,493.8 L1175.7,493.3 L1176.0,494.0 L1176.3,493.8 L1176.6,493.4 L1176.9,493.3 L1177.2,493.5 L1177.5,493.1 L1177.8,493.1 L1178.1,493.3 L1178.4,493.3 L1178.7,493.5 L1179.0,493.0 L1179.3,492.4 L1179.6,492.6 L1179.9,492.2 L1180.2,491.2 L1180.5,491.7 L1180.8,491.1 L1181.1,490.5 L1181.4,490.2 L1181.7,489.8 L1182.0,490.0 L1182.3,489.7 L1182.6,489.0 L1182.9,489.3 L1183.2,489.1 L1183.5,488.8 L1183.8,488.3 L1184.1,488.0 L1184.4,487.4 L1184.7,487.3 L1185.0,487.4 L1185.3,487.3 L1185.6,487.0 L1185.9,486.7 L1186.2,487.4 L1186.5,487.0 L1186.8,486.8 L1187.1,487.1 L1187.4,486.8 L1187.7,487.5 L1188.0,488.0 L1188.3,488.0 L1188.6,487.6 L1188.9,487.5 L1189.2,487.9 L1189.5,488.5 L1189.8,488.2 L1190.2,488.5 L1190.5,489.2 L1190.8,489.3 L1191.1,489.1 L1191.4,488.9 L1191.7,489.1 L1192.0,489.0 L1192.3,488.8 L1192.6,489.1 L1192.9,488.9 L1193.2,488.6 L1193.5,488.7 L1193.8,488.8 L1194.1,487.8 L1194.4,487.4 L1194.7,488.0 L1195.0,489.0 L1195.3,488.5 L1195.6,488.6 L1195.9,489.2 L1196.2,488.8 L1196.5,488.3 L1196.8,488.1 L1197.1,488.2 L1197.4,488.5 L1197.7,488.2 L1198.0,488.0 L1198.3,488.2 L1198.6,488.5 L1198.9,488.8 L1199.2,488.1 L1199.5,488.2 L1199.8,487.9 L1200.2,488.2 L1200.5,488.2 L1200.8,487.7 L1201.1,487.1 L1201.4,486.8 L1201.7,487.0 L1202.0,487.2 L1202.3,486.8 L1202.6,487.1 L1202.9,486.9 L1203.2,487.2 L1203.5,487.2 L1203.8,486.4 L1204.2,486.6 L1204.5,486.9 L1204.8,486.7 L1205.1,486.7 L1205.4,487.5 L1205.7,487.3 L1206.0,487.6 L1206.3,487.5 L1206.6,487.6 L1206.9,487.6 L1207.2,487.6 L1207.5,487.7 L1207.8,487.7 L1208.2,487.9 L1208.5,487.7 L1208.8,486.9 L1209.1,486.8 L1209.4,487.4 L1209.7,487.8 L1210.0,488.0 L1210.3,487.9 L1210.6,487.4 L1210.9,487.4 L1211.2,487.3 L1211.5,487.5 L1211.8,487.2 L1212.1,487.0 L1212.4,487.2 L1212.7,486.7 L1213.0,487.0 L1213.3,487.1 L1213.6,487.0 L1213.9,486.7 L1214.2,486.2 L1214.5,486.1 L1214.8,485.4 L1215.1,484.7 L1215.4,484.8 L1215.7,484.7 L1216.0,484.4 L1216.3,484.5 L1216.6,483.7 L1216.9,483.5 L1217.2,483.0 L1217.5,482.7 L1217.8,482.2 L1218.1,482.3 L1218.4,482.5 L1218.7,482.4 L1219.0,482.4 L1219.3,482.7 L1219.6,482.8 L1219.9,482.3 L1220.2,482.4 L1220.5,482.6 L1220.8,482.9 L1221.1,483.1 L1221.4,482.9 L1221.7,481.9 L1222.0,481.6 L1222.3,481.5 L1222.6,481.7 L1222.9,482.0 L1223.2,481.8 L1223.5,482.3 L1223.8,481.7 L1224.2,481.0 L1224.5,481.5 L1224.8,481.9 L1225.1,481.7 L1225.4,481.6 L1225.7,481.9 L1226.0,481.6 L1226.3,481.6 L1226.6,482.2 L1226.9,481.6 L1227.2,480.3 L1227.5,480.2 L1227.8,480.5 L1228.2,480.7 L1228.5,481.0 L1228.8,481.6 L1229.1,481.7 L1229.4,482.0 L1229.7,481.7 L1230.0,481.0 L1230.3,481.5 L1230.6,481.1 L1230.9,480.2 L1231.2,480.5 L1231.5,480.3 L1231.8,479.8 L1232.2,479.6 L1232.5,479.7 L1232.8,479.7 L1233.1,479.2 L1233.4,479.0 L1233.7,478.6 L1234.0,479.6 L1234.3,479.2 L1234.6,479.3 L1234.9,478.9 L1235.2,478.3 L1235.5,478.0 L1235.8,477.9 L1236.2,478.2 L1236.5,478.3 L1236.8,478.6 L1237.1,478.2 L1237.4,478.1 L1237.7,478.6 L1238.0,479.0 L1238.3,479.8 L1238.6,479.5 L1238.9,479.4 L1239.2,479.4 L1239.5,479.6 L1239.8,479.9 L1240.1,479.7 L1240.4,479.5 L1240.7,479.3 L1241.0,480.0 L1241.3,480.4 L1241.6,480.2 L1241.9,480.8 L1242.2,481.4 L1242.5,482.0 L1242.8,482.0 L1243.1,481.8 L1243.4,482.0 L1243.7,482.0 L1244.0,481.6 L1244.3,481.5 L1244.6,481.1 L1244.9,480.4 L1245.2,480.5 L1245.5,480.3 L1245.8,480.3 L1246.1,480.4 L1246.4,480.0 L1246.7,479.8 L1247.0,479.6 L1247.3,479.6 L1247.6,479.7 L1247.9,479.3 L1248.2,479.2 L1248.5,478.9 L1248.8,478.6 L1249.1,478.5 L1249.4,478.7 L1249.7,478.3 L1250.0,478.4 L1250.3,478.6 L1250.6,478.1 L1250.9,478.1 L1251.2,478.3 L1251.5,479.3 L1251.8,479.0 L1252.2,479.2 L1252.5,479.3 L1252.8,479.2 L1253.1,479.4 L1253.4,479.3 L1253.7,479.5 L1254.0,479.6 L1254.3,479.7 L1254.6,479.2 L1254.9,479.0 L1255.2,479.6 L1255.5,479.7 L1255.8,479.4 L1256.2,479.2 L1256.5,479.9 L1256.8,479.6 L1257.1,479.6 L1257.4,479.1 L1257.7,478.9 L1258.0,479.0 L1258.3,478.8 L1258.6,479.1 L1258.9,479.6 L1259.2,479.5 L1259.5,479.8 L1259.8,479.2 L1260.1,479.0 L1260.4,478.4 L1260.7,478.3 L1261.0,478.4 L1261.3,478.7 L1261.6,478.9 L1261.9,478.9 L1262.2,479.2 L1262.5,480.0 L1262.8,480.3 L1263.1,480.1 L1263.4,480.0 L1263.7,480.3 L1264.0,481.0 L1264.3,480.6 L1264.6,479.8 L1264.9,480.2 L1265.2,480.5 L1265.5,480.4 L1265.8,479.9 L1266.1,479.9 L1266.4,479.0 L1266.7,478.7 L1267.0,479.0 L1267.3,478.7 L1267.6,478.0 L1267.9,477.9 L1268.2,478.3 L1268.5,477.8 L1268.8,477.3 L1269.1,477.3 L1269.4,477.7 L1269.7,477.3 L1270.0,477.6 L1270.3,477.7 L1270.6,477.3 L1270.9,477.3 L1271.2,476.8 L1271.5,476.3 L1271.8,477.1 L1272.2,477.4 L1272.5,477.6 L1272.8,477.5 L1273.1,478.1 L1273.4,477.5 L1273.7,477.2 L1274.0,477.0 L1274.3,477.0 L1274.6,477.0 L1274.9,476.7 L1275.2,476.8 L1275.5,477.0 L1275.8,477.1 L1276.2,476.9 L1276.5,476.5 L1276.8,476.5 L1277.1,476.2 L1277.4,476.9 L1277.7,476.4 L1278.0,476.4 L1278.3,477.1 L1278.6,476.6 L1278.9,476.7 L1279.2,476.9 L1279.5,476.4 L1279.8,476.1 L1280.2,475.5 L1280.5,475.5 L1280.8,475.3 L1281.1,475.5 L1281.4,475.3 L1281.7,475.4 L1282.0,475.0 L1282.3,475.3 L1282.6,474.8 L1282.9,475.2 L1283.2,475.3 L1283.5,475.3 L1283.8,475.5 L1284.2,475.2 L1284.5,475.2 L1284.8,475.0 L1285.1,475.2 L1285.4,475.3 L1285.7,475.4 L1286.0,475.6 L1286.3,474.7 L1286.6,474.7 L1286.9,475.0 L1287.2,475.1 L1287.5,474.6 L1287.8,474.6 L1288.2,475.0 L1288.5,474.7 L1288.8,474.4 L1289.1,474.3 L1289.4,474.5 L1289.7,473.5 L1290.0,473.6 L1290.3,473.6 L1290.6,473.8 L1290.9,473.9 L1291.2,473.4 L1291.5,473.1 L1291.8,473.0 L1292.2,472.5 L1292.5,471.9 L1292.8,472.1 L1293.1,472.9 L1293.4,472.7 L1293.7,472.5 L1294.0,472.4 L1294.3,473.3 L1294.6,473.2 L1294.9,473.1 L1295.2,472.7 L1295.5,473.1 L1295.8,472.7 L1296.2,472.3 L1296.5,472.1 L1296.8,471.6 L1297.1,471.1 L1297.4,470.8 L1297.7,471.2 L1298.0,472.0 L1298.3,471.8 L1298.6,472.0 L1298.9,472.2 L1299.2,471.9 L1299.5,471.6 L1299.8,471.8 L1300.2,471.7 L1300.5,471.3 L1300.8,471.5 L1301.1,471.1 L1301.4,471.4 L1301.7,470.9 L1302.0,471.6 L1302.3,471.5 L1302.6,471.1 L1302.9,471.0 L1303.2,471.3 L1303.5,471.2 L1303.8,470.9 L1304.2,470.9 L1304.5,471.1 L1304.8,471.3 L1305.1,471.9 L1305.4,471.5 L1305.7,471.5 L1306.0,472.0 L1306.3,471.8 L1306.6,472.8 L1306.9,471.8 L1307.2,471.8 L1307.5,471.7 L1307.8,472.4 L1308.2,472.0 L1308.5,472.2 L1308.8,472.0 L1309.1,472.2 L1309.4,471.8 L1309.7,471.3 L1310.0,471.0 L1310.3,470.6 L1310.6,470.6 L1310.9,470.2 L1311.2,470.0 L1311.5,470.5 L1311.8,470.0 L1312.2,470.0 L1312.5,470.3 L1312.8,470.3 L1313.1,470.4 L1313.4,470.2 L1313.7,470.5 L1314.0,471.0 L1314.3,471.2 L1314.6,471.7 L1314.9,472.3 L1315.2,472.0 L1315.5,472.1 L1315.8,472.0 L1316.1,471.8 L1316.4,472.3 L1316.7,471.6 L1317.0,472.0 L1317.3,471.2 L1317.6,471.2 L1317.9,471.5 L1318.2,471.6 L1318.5,471.9 L1318.8,472.7 L1319.1,472.1 L1319.4,471.9 L1319.7,472.3 L1320.0,472.4 L1320.3,472.9 L1320.6,472.9 L1320.9,472.8 L1321.2,472.3 L1321.5,472.3 L1321.8,472.5 L1322.2,471.9 L1322.5,471.5 L1322.8,471.7 L1323.1,471.1 L1323.4,471.1 L1323.7,471.1 L1324.0,471.0 L1324.3,470.8 L1324.6,470.5 L1324.9,470.0 L1325.2,470.5 L1325.5,471.2 L1325.8,471.1 L1326.2,471.2 L1326.5,471.1 L1326.8,470.3 L1327.1,471.2 L1327.4,470.9 L1327.7,470.4 L1328.0,470.0 L1328.3,469.6 L1328.5,470.1 L1328.8,470.8 L1329.1,470.6 L1329.4,470.7 L1329.7,470.1 L1330.0,470.2 L1330.3,470.2 L1330.6,470.4 L1330.9,470.0 L1331.2,470.0 L1331.5,469.9 L1331.8,470.2 L1332.1,469.2 L1332.4,468.8 L1332.7,468.4 L1333.0,467.8 L1333.3,467.8 L1333.6,468.4 L1333.9,467.9 L1334.2,467.9 L1334.5,467.9 L1334.8,467.4 L1335.1,466.4 L1335.4,466.4 L1335.7,466.2 L1336.0,466.2 L1336.3,466.5 L1336.7,466.5 L1337.0,466.4 L1337.3,465.9 L1337.6,466.4 L1337.9,466.0 L1338.2,466.1 L1338.5,466.1 L1338.8,465.5 L1339.1,464.9 L1339.3,465.0 L1339.6,465.1 L1339.9,466.0 L1340.2,465.6 L1340.5,465.1 L1340.8,466.1 L1341.1,465.8 L1341.4,465.6 L1341.7,464.7 L1342.0,465.1 L1342.3,465.7 L1342.6,465.6 L1342.9,466.0 L1343.2,466.1 L1343.5,466.5 L1343.8,465.8 L1344.1,466.4 L1344.4,466.9 L1344.7,467.1 L1344.9,467.4 L1345.2,467.5 L1345.5,467.4 L1345.8,468.0 L1346.1,467.8 L1346.4,467.2 L1346.7,467.2 L1347.0,467.5 L1347.3,468.0 L1347.6,468.6 L1347.9,469.1 L1348.2,469.2 L1348.5,469.9 L1348.7,470.5 L1349.0,471.0 L1349.3,472.2 L1349.6,472.6 L1349.8,471.9 L1350.1,471.9 L1350.4,471.3 L1350.7,471.1 L1350.9,470.6 L1351.2,470.4 L1351.5,470.1 L1351.8,469.9 L1352.1,469.7 L1352.4,468.8 L1352.7,468.4 L1353.0,468.2 L1353.3,467.3 L1353.6,467.4 L1353.9,466.9 L1354.2,467.0 L1354.5,467.1 L1354.8,467.2 L1355.1,467.8 L1355.4,467.7 L1355.7,468.0 L1355.9,468.4 L1356.2,468.7 L1356.5,468.7 L1356.8,468.7 L1357.1,469.2 L1357.4,469.6 L1357.7,469.8 L1358.0,470.4 L1358.3,470.1 L1358.6,470.1 L1358.9,470.4 L1359.2,470.2 L1359.5,469.8 L1359.7,470.1 L1360.0,470.6 L1360.3,471.1 L1360.6,471.5 L1360.9,471.6 L1361.2,471.2 L1361.4,470.2 L1361.7,470.2 L1362.0,470.6 L1362.3,470.2 L1362.6,469.9 L1362.9,469.5 L1363.2,469.4 L1363.5,469.3 L1363.8,469.5 L1364.2,469.8 L1364.5,470.4 L1364.8,470.0 L1365.1,469.2 L1365.4,468.8 L1365.7,468.8 L1366.0,468.1 L1366.3,468.1 L1366.6,468.5 L1366.8,468.4 L1367.1,468.5 L1367.4,468.8 L1367.7,469.1 L1368.0,469.0 L1368.3,469.1 L1368.6,468.9 L1368.9,468.6 L1369.2,468.1 L1369.5,467.8 L1369.8,467.6 L1370.1,468.2 L1370.4,468.3 L1370.7,467.8 L1371.0,467.2 L1371.3,467.0 L1371.6,466.9 L1371.9,466.5 L1372.2,466.4 L1372.5,466.5 L1372.8,465.8 L1373.1,465.5 L1373.4,465.8 L1373.7,466.0 L1374.0,465.8 L1374.3,466.4 L1374.6,465.5 L1374.9,465.9 L1375.2,465.7 L1375.5,465.4 L1375.8,465.6 L1376.1,466.0 L1376.4,465.8 L1376.7,466.5 L1376.9,466.4 L1377.2,466.3 L1377.5,466.1 L1377.8,467.1 L1378.0,466.5 L1378.3,465.6 L1378.6,465.1 L1378.9,464.9 L1379.2,464.5 L1379.5,464.7 L1379.8,463.7 L1380.1,464.2 L1380.4,464.8 L1380.7,465.0 L1381.0,463.9 L1381.3,464.1 L1381.6,464.1 L1382.0,463.8 L1382.3,464.1 L1382.6,463.7 L1382.9,463.5 L1383.2,463.7 L1383.4,463.5 L1383.7,463.0 L1384.0,462.7 L1384.3,462.6 L1384.6,463.0 L1384.9,463.1 L1385.2,463.4 L1385.5,462.6 L1385.8,462.0 L1386.2,462.6 L1386.5,462.7 L1386.8,462.6 L1387.1,462.7 L1387.4,462.3 L1387.7,462.8 L1388.0,463.1 L1388.3,463.2 L1388.6,463.1 L1388.9,462.9 L1389.2,462.8 L1389.5,462.6 L1389.8,461.9 L1390.1,461.4 L1390.4,461.7 L1390.7,461.2 L1391.0,461.4 L1391.3,461.4 L1391.6,461.7 L1391.9,461.5 L1392.2,461.9 L1392.5,461.2 L1392.8,461.5 L1393.1,461.7 L1393.4,461.5 L1393.7,461.4 L1394.0,461.8 L1394.3,461.9 L1394.5,461.8 L1394.8,461.6 L1395.1,462.0 L1395.4,462.3 L1395.7,462.3 L1396.0,462.1 L1396.3,462.3 L1396.6,462.2 L1396.9,461.5 L1397.2,461.8 L1397.5,462.0 L1397.8,461.9 L1398.1,461.9 L1398.5,461.7 L1398.8,461.4 L1399.1,461.4 L1399.4,461.4 L1399.7,460.6 L1400.0,461.1 L1400.3,461.3 L1400.6,461.3 L1400.9,461.0 L1401.2,461.0 L1401.5,460.6 L1401.8,460.3 L1402.1,460.9 L1402.4,461.5 L1402.7,461.0 L1403.0,461.6 L1403.3,461.5 L1403.6,461.5 L1403.9,461.4 L1404.2,461.8 L1404.5,461.6 L1404.8,461.3 L1405.1,461.4 L1405.4,461.6 L1405.7,462.4 L1406.0,461.8 L1406.3,461.6 L1406.6,460.9 L1406.9,461.1 L1407.3,461.7 L1407.6,461.2 L1407.9,461.9 L1408.2,461.0 L1408.5,460.8 L1408.8,460.8 L1409.1,460.2 L1409.4,460.2 L1409.8,460.2 L1410.1,460.5 L1410.4,460.6 L1410.7,460.5 L1410.9,460.8 L1411.2,461.7 L1411.5,462.5 L1411.8,462.3 L1412.1,463.0 L1412.4,462.8 L1412.7,462.9 L1413.0,463.3 L1413.3,463.5 L1413.6,464.0 L1413.9,464.6 L1414.2,465.8 L1414.5,466.7 L1414.8,467.2 L1415.1,467.3 L1415.4,468.1 L1415.7,468.2 L1416.0,468.5 L1416.3,468.5 L1416.5,468.2 L1416.8,468.3 L1417.1,468.3 L1417.4,468.0 L1417.7,468.1 L1418.0,468.4 L1418.3,468.2 L1418.6,468.4 L1418.9,468.1 L1419.2,468.0 L1419.5,468.0 L1419.8,467.4 L1420.1,466.9 L1420.4,466.9 L1420.7,467.2 L1420.9,467.7 L1421.2,468.4 L1421.5,468.0 L1421.8,468.5 L1422.0,468.8 L1422.3,469.4 L1422.6,469.9 L1422.9,470.5 L1423.1,471.3 L1423.5,474.2 L1423.8,476.8 L1424.1,475.5 L1424.4,474.4 L1424.6,472.7 L1424.9,471.6 L1425.2,470.6 L1425.5,470.4 L1425.7,470.1 L1426.0,470.9 L1426.3,470.7 L1426.6,471.3 L1426.9,471.5 L1427.2,472.4 L1427.4,473.2 L1427.7,473.0 L1428.0,473.6 L1428.3,473.7 L1428.6,473.7 L1428.9,472.9 L1429.2,472.5 L1429.5,472.8 L1429.7,472.1 L1430.0,471.3 L1430.3,472.1 L1430.6,470.5 L1430.9,470.2 L1431.2,470.2 L1431.5,469.3 L1431.8,469.8 L1432.1,469.9 L1432.4,469.3 L1432.7,469.1 L1432.9,468.8 L1433.2,468.6 L1433.5,468.7 L1433.8,468.5 L1434.1,467.4 L1434.4,466.3 L1434.7,466.2 L1435.0,465.9 L1435.2,465.3 L1435.5,465.5 L1435.8,465.8 L1436.1,465.9 L1436.4,465.5 L1436.7,465.4 L1437.0,465.9 L1437.3,466.4 L1437.6,466.0 L1437.9,465.9 L1438.2,465.7 L1438.4,465.8 L1438.7,465.1 L1439.0,465.7 L1439.3,465.9 L1439.6,466.4 L1439.9,466.1 L1440.2,465.6 L1440.5,465.7 L1440.8,465.6 L1441.2,465.8 L1441.5,465.8 L1441.8,465.1 L1442.1,465.4 L1442.4,465.5 L1442.7,465.5 L1443.0,465.4 L1443.3,465.1 L1443.6,465.6 L1443.9,465.7 L1444.2,465.6 L1444.5,465.3 L1444.8,465.0 L1445.1,465.1 L1445.4,464.7 L1445.7,465.2 L1446.0,465.0 L1446.3,464.6 L1446.7,464.2 L1447.0,464.8 L1447.3,464.5 L1447.6,464.7 L1447.9,464.7 L1448.2,464.4 L1448.5,464.0 L1448.8,463.8 L1449.1,464.3 L1449.4,463.9 L1449.7,463.4 L1450.0,462.8 L1450.3,463.7 L1450.6,463.7 L1450.9,463.6 L1451.2,463.7 L1451.5,463.3 L1451.8,463.1 L1452.2,462.0 L1452.5,462.8 L1452.8,462.6 L1453.1,462.3 L1453.4,462.7 L1453.7,462.7 L1454.0,462.3 L1454.3,462.2 L1454.6,463.0 L1454.9,463.0 L1455.2,463.4 L1455.5,463.4 L1455.8,462.9 L1456.1,461.9 L1456.4,461.5 L1456.7,460.9 L1457.0,460.7 L1457.3,461.1 L1457.7,461.2 L1458.0,460.8 L1458.3,460.9 L1458.6,461.0 L1458.9,460.5 L1459.2,460.8 L1459.5,460.8 L1459.8,460.6 L1460.1,460.9 L1460.4,460.5 L1460.7,459.9 L1461.0,460.6 L1461.3,461.0 L1461.6,460.9 L1461.9,461.1 L1462.2,461.4 L1462.5,461.6 L1462.8,460.9 L1463.2,460.6 L1463.5,460.7 L1463.8,460.7 L1464.1,460.6 L1464.4,460.5 L1464.7,460.7 L1465.0,460.8 L1465.3,460.7 L1465.6,460.3 L1465.9,460.5 L1466.2,460.7 L1466.5,461.2 L1466.8,461.3 L1467.1,461.4 L1467.4,461.2 L1467.7,460.6 L1468.0,460.6 L1468.3,460.8 L1468.7,461.0 L1469.0,461.4 L1469.3,460.9 L1469.6,461.0 L1469.9,460.5 L1470.2,460.7 L1470.5,460.4 L1470.8,460.2 L1471.1,460.0 L1471.4,459.6 L1471.7,459.5 L1472.0,460.0 L1472.3,460.0 L1472.6,460.0 L1472.9,460.2 L1473.2,460.4 L1473.5,459.9 L1473.8,459.4 L1474.2,458.9 L1474.5,458.5 L1474.8,458.3 L1475.1,458.4 L1475.4,458.6 L1475.7,458.6 L1476.0,458.6 L1476.3,458.6 L1476.6,458.3 L1476.9,457.9 L1477.2,457.5 L1477.5,457.9 L1477.8,458.0 L1478.1,458.2 L1478.4,458.2 L1478.7,458.1 L1479.0,458.1 L1479.3,457.9 L1479.7,458.5 L1480.0,458.1 L1480.3,458.3 L1480.6,458.7 L1480.9,457.5 L1481.2,457.6 L1481.5,457.5 L1481.8,458.1 L1482.1,458.8 L1482.3,459.0 L1482.6,458.5 L1482.9,458.9 L1483.2,458.8 L1483.5,458.4 L1483.8,457.5 L1484.1,456.8 L1484.4,456.5 L1484.7,456.3 L1485.0,456.1 L1485.3,455.6 L1485.7,455.6 L1486.0,455.8 L1486.3,455.0 L1486.7,454.5 L1487.0,454.0 L1487.3,453.9 L1487.6,453.5 L1487.9,454.0 L1488.2,454.4 L1488.5,454.5 L1488.8,455.0 L1489.1,455.0 L1489.4,455.0 L1489.7,455.0 L1490.0,455.2 L1490.3,454.9 L1490.6,455.2 L1490.9,455.3 L1491.2,456.1 L1491.5,456.6 L1491.8,456.7 L1492.1,457.3 L1492.4,457.2 L1492.7,457.7 L1493.0,457.8 L1493.3,458.2 L1493.5,458.1 L1493.8,457.6 L1494.1,456.7 L1494.4,456.7 L1494.7,456.8 L1495.0,456.7 L1495.3,456.4 L1495.6,456.6 L1495.9,457.1 L1496.2,456.6 L1496.5,456.5 L1496.8,455.9 L1497.1,455.7 L1497.5,455.9 L1497.8,456.0 L1498.1,455.9 L1498.4,456.0 L1498.7,455.6 L1498.9,455.9 L1499.2,456.3 L1499.5,457.0 L1499.8,456.9 L1500.1,456.8 L1500.4,457.0 L1500.7,457.3 L1501.0,457.7 L1501.2,457.6 L1501.5,458.2 L1501.8,458.1 L1502.1,457.8 L1502.4,458.1 L1502.7,457.7 L1503.0,457.7 L1503.3,456.8 L1503.6,457.2 L1503.9,457.6 L1504.2,457.7 L1504.5,457.7 L1504.8,457.3 L1505.1,458.0 L1505.4,457.8 L1505.7,457.3 L1506.0,457.7 L1506.3,457.2 L1506.6,457.7 L1506.9,458.0 L1507.2,457.4 L1507.5,457.3 L1507.8,457.6 L1508.1,456.9 L1508.5,456.8 L1508.8,457.0 L1509.1,456.4 L1509.4,455.8 L1509.7,456.0 L1510.0,455.4 L1510.3,455.6 L1510.6,456.2 L1510.9,456.4 L1511.2,456.3 L1511.5,456.7 L1511.8,457.2 L1512.1,457.4 L1512.4,457.1 L1512.7,457.1 L1513.0,457.1 L1513.3,457.3 L1513.6,457.6 L1513.9,456.8 L1514.2,457.0 L1514.5,456.8 L1514.8,456.8 L1515.1,457.0 L1515.3,457.6 L1515.6,457.7 L1515.9,457.5 L1516.2,457.9 L1516.5,458.8 L1516.8,459.3 L1517.0,459.0 L1517.3,458.9 L1517.6,458.4 L1517.9,458.0 L1518.1,457.7 L1518.4,458.2 L1518.7,458.6 L1519.0,458.4 L1519.3,458.6 L1519.5,458.7 L1519.8,459.1 L1520.1,459.0" stroke="#828ca0" stroke-width="2.45"/>
</g>
<line x1="1396.0" y1="167.3" x2="1396.0" y2="592.8" stroke="#6e6e6e" stroke-width="1.7" stroke-dasharray="6.8 3.2" stroke-dashoffset="1.6"/>
<rect x="87.3" y="167.3" width="1500.6" height="425.5" fill="none" stroke="#2e2e2e" stroke-width="1.1"/>
<path d="M85.00,589.28H87.3M85.00,582.47H87.3M85.00,576.47H87.3M83.40,571.10H87.3M83.40,535.77H87.3M85.00,515.10H87.3M85.00,500.44H87.3M83.40,489.06H87.3M85.00,479.77H87.3M85.00,471.91H87.3M85.00,465.10H87.3M85.00,459.10H87.3M83.40,453.73H87.3M83.40,418.40H87.3M85.00,397.73H87.3M85.00,383.07H87.3M83.40,371.69H87.3M85.00,362.40H87.3M85.00,354.54H87.3M85.00,347.73H87.3M85.00,341.73H87.3M83.40,336.36H87.3M83.40,301.03H87.3M85.00,280.36H87.3M85.00,265.70H87.3M83.40,254.32H87.3M85.00,245.03H87.3M85.00,237.17H87.3M85.00,230.36H87.3M85.00,224.36H87.3M83.40,218.99H87.3M83.40,183.66H87.3" stroke="#262626" stroke-width="1.0" fill="none"/>
<text x="78.3" y="188.1" font-size="11.76" text-anchor="end" textLength="51.94" lengthAdjust="spacingAndGlyphs">200,0 M€</text>
<text x="78.3" y="223.4" font-size="11.76" text-anchor="end" textLength="51.94" lengthAdjust="spacingAndGlyphs">100,0 M€</text>
<text x="78.3" y="258.7" font-size="11.76" text-anchor="end" textLength="44.88" lengthAdjust="spacingAndGlyphs">50,0 M€</text>
<text x="78.3" y="305.4" font-size="11.76" text-anchor="end" textLength="44.88" lengthAdjust="spacingAndGlyphs">20,0 M€</text>
<text x="78.3" y="340.8" font-size="11.76" text-anchor="end" textLength="44.88" lengthAdjust="spacingAndGlyphs">10,0 M€</text>
<text x="78.3" y="376.1" font-size="11.76" text-anchor="end" textLength="37.82" lengthAdjust="spacingAndGlyphs">5,0 M€</text>
<text x="78.3" y="422.8" font-size="11.76" text-anchor="end" textLength="37.82" lengthAdjust="spacingAndGlyphs">2,0 M€</text>
<text x="78.3" y="458.1" font-size="11.76" text-anchor="end" textLength="37.82" lengthAdjust="spacingAndGlyphs">1,0 M€</text>
<text x="78.3" y="493.5" font-size="11.76" text-anchor="end" textLength="38.21" lengthAdjust="spacingAndGlyphs">500 k€</text>
<text x="78.3" y="540.2" font-size="11.76" text-anchor="end" textLength="38.21" lengthAdjust="spacingAndGlyphs">200 k€</text>
<text x="78.3" y="575.5" font-size="11.76" text-anchor="end" textLength="38.21" lengthAdjust="spacingAndGlyphs">100 k€</text>
<text x="181.10" y="609.2" font-size="11.76" text-anchor="middle" textLength="28.25" lengthAdjust="spacingAndGlyphs">2014</text>
<text x="401.82" y="609.2" font-size="11.76" text-anchor="middle" textLength="28.25" lengthAdjust="spacingAndGlyphs">2016</text>
<text x="622.53" y="609.2" font-size="11.76" text-anchor="middle" textLength="28.25" lengthAdjust="spacingAndGlyphs">2018</text>
<text x="843.25" y="609.2" font-size="11.76" text-anchor="middle" textLength="28.25" lengthAdjust="spacingAndGlyphs">2020</text>
<text x="1063.97" y="609.2" font-size="11.76" text-anchor="middle" textLength="28.25" lengthAdjust="spacingAndGlyphs">2022</text>
<text x="1284.68" y="609.2" font-size="11.76" text-anchor="middle" textLength="28.25" lengthAdjust="spacingAndGlyphs">2024</text>
<text x="1505.40" y="609.2" font-size="11.76" text-anchor="middle" textLength="28.25" lengthAdjust="spacingAndGlyphs">2026</text>
<path d="M181.10,592.8V596.70M401.82,592.8V596.70M622.53,592.8V596.70M843.25,592.8V596.70M1063.97,592.8V596.70M1284.68,592.8V596.70M1505.40,592.8V596.70" stroke="#262626" stroke-width="1.0" fill="none"/>
<text transform="translate(20.6,380.5) rotate(-90)" x="0" y="0" font-size="11.76" text-anchor="middle" textLength="58.17" lengthAdjust="spacingAndGlyphs">Capital (€)</text>
</svg></body></html>
